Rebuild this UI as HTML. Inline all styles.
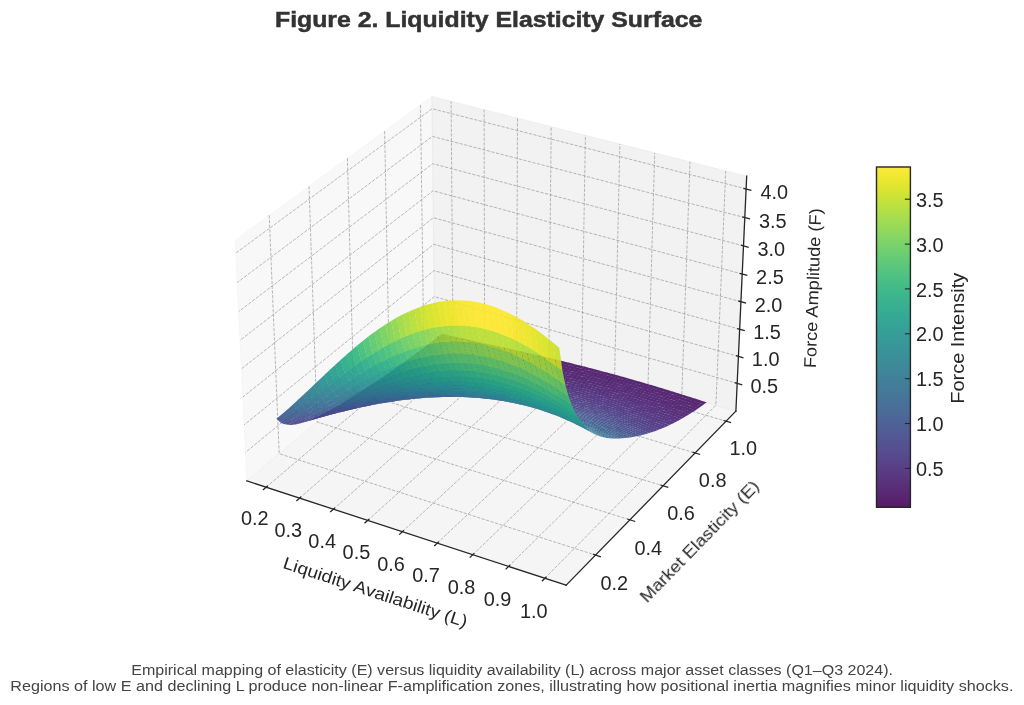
<!DOCTYPE html>
<html><head><meta charset="utf-8"><title>Figure 2. Liquidity Elasticity Surface</title>
<style>html,body{margin:0;padding:0;background:#fff;overflow:hidden}svg{display:block}text{font-family:"Liberation Sans", sans-serif}</style></head>
<body>
<svg width="1024" height="705" viewBox="0 0 1024 705">
<rect width="1024" height="705" fill="#fff"/>
<g stroke-linejoin="round">
<polygon points="246.8,480.9 434.6,323.5 432,96.5 235.2,240.1" fill="rgb(242,242,242)" fill-opacity="0.5" stroke="rgb(242,242,242)" stroke-opacity="0.5" stroke-width="1"/>
<polygon points="434.6,323.5 735.9,411.1 746.7,176.2 432,96.5" fill="rgb(230,230,230)" fill-opacity="0.5" stroke="rgb(230,230,230)" stroke-opacity="0.5" stroke-width="1"/>
<polygon points="246.8,480.9 566.2,585.2 735.9,411.1 434.6,323.5" fill="rgb(236,236,236)" fill-opacity="0.5" stroke="rgb(236,236,236)" stroke-opacity="0.5" stroke-width="1"/>
</g>
<g fill="none" stroke="#85858c" stroke-width="0.9" stroke-dasharray="3.3 1.4" stroke-opacity="0.63">
<polyline points="266.1,487.2 452.9,328.8 451.1,101.3"/>
<polyline points="299.6,498.1 484.6,338 484.1,109.7"/>
<polyline points="333.4,509.2 516.6,347.3 517.5,118.1"/>
<polyline points="367.7,520.4 548.9,356.7 551.2,126.7"/>
<polyline points="402.3,531.7 581.6,366.2 585.4,135.3"/>
<polyline points="437.3,543.1 614.6,375.8 619.9,144.1"/>
<polyline points="472.8,554.7 648,385.5 654.7,152.9"/>
<polyline points="508.6,566.4 681.8,395.3 690,161.9"/>
<polyline points="544.9,578.2 715.9,405.2 725.7,170.9"/>
<polyline points="269.2,215.2 279.2,453.7 595.6,555.1"/>
<polyline points="309,186.2 317.1,422 629.9,519.8"/>
<polyline points="347.4,158.1 353.7,391.2 663,485.8"/>
<polyline points="384.6,131.1 389.2,361.5 695.1,453"/>
<polyline points="420.5,104.9 423.6,332.7 726,421.2"/>
<polyline points="737.2,383.3 434.3,296.6 245.4,452.5"/>
<polyline points="738.4,356.4 434,270.6 244.1,424.9"/>
<polyline points="739.7,329.2 433.7,244.3 242.8,397.1"/>
<polyline points="740.9,301.7 433.4,217.7 241.4,368.9"/>
<polyline points="742.2,274 433.1,190.8 240,340.4"/>
<polyline points="743.5,245.9 432.7,163.7 238.6,311.6"/>
<polyline points="744.8,217.6 432.4,136.4 237.2,282.5"/>
<polyline points="746.1,188.9 432.1,108.7 235.8,253.1"/>
</g>
<g fill="none" stroke="#262626" stroke-width="1.3" stroke-linecap="square">
<polyline points="246.8,480.9 566.2,585.2"/>
<polyline points="735.9,411.1 566.2,585.2"/>
<polyline points="735.9,411.1 746.7,176.2"/>
</g>
<g fill="none" stroke="#262626" stroke-width="1.3">
<polyline points="267.8,485.8 262.9,490"/>
<polyline points="301.2,496.7 296.4,500.9"/>
<polyline points="335,507.8 330.2,512"/>
<polyline points="369.3,518.9 364.5,523.2"/>
<polyline points="403.9,530.2 399.2,534.6"/>
<polyline points="438.9,541.6 434.2,546"/>
<polyline points="474.3,553.2 469.7,557.6"/>
<polyline points="510.1,564.9 505.6,569.4"/>
<polyline points="546.4,576.7 541.9,581.3"/>
<polyline points="592.9,554.2 600.9,556.8"/>
<polyline points="627.3,519 635.2,521.5"/>
<polyline points="660.4,485 668.3,487.4"/>
<polyline points="692.5,452.2 700.2,454.5"/>
<polyline points="723.5,420.5 731.1,422.7"/>
<polyline points="734.6,382.6 742.3,384.8"/>
<polyline points="735.9,355.7 743.5,357.9"/>
<polyline points="737.1,328.5 744.8,330.7"/>
<polyline points="738.3,301 746.1,303.2"/>
<polyline points="739.6,273.3 747.4,275.4"/>
<polyline points="740.9,245.2 748.7,247.3"/>
<polyline points="742.2,216.9 750,218.9"/>
<polyline points="743.4,188.3 751.4,190.3"/>
</g>
<g stroke="none" fill-opacity="0.9">
<path fill="#440154" d="M438.6 336.3L444.1 337.6L447.3 335L441.8 333.7Z"/>
<path fill="#440154" d="M443.8 337.4L449.3 338.7L452.4 336.2L447 334.9Z"/>
<path fill="#440154" d="M435.5 338.7L441 340L444.2 337.4L438.7 336.1Z"/>
<path fill="#440154" d="M449 338.6L454.5 339.9L457.6 337.3L452.1 336Z"/>
<path fill="#440154" d="M440.7 339.8L446.2 341.1L449.4 338.5L443.9 337.2Z"/>
<path fill="#440256" d="M454.2 339.7L459.7 341L462.8 338.5L457.3 337.2Z"/>
<path fill="#440154" d="M432.4 341.1L437.9 342.3L441.1 339.8L435.6 338.5Z"/>
<path fill="#440256" d="M445.9 340.9L451.4 342.2L454.5 339.7L449.1 338.4Z"/>
<path fill="#440256" d="M459.4 340.9L464.9 342.1L468 339.6L462.5 338.3Z"/>
<path fill="#440256" d="M437.6 342.2L443.1 343.4L446.3 340.9L440.8 339.6Z"/>
<path fill="#440256" d="M451.1 342.1L456.6 343.3L459.8 340.8L454.2 339.5Z"/>
<path fill="#440154" d="M429.3 343.5L434.8 344.7L438 342.1L432.5 340.9Z"/>
<path fill="#450457" d="M464.6 342L470.1 343.3L473.2 340.8L467.7 339.5Z"/>
<path fill="#440256" d="M442.8 343.3L448.3 344.5L451.5 342L446 340.7Z"/>
<path fill="#450457" d="M456.3 343.2L461.8 344.4L465 341.9L459.4 340.7Z"/>
<path fill="#440256" d="M434.5 344.5L439.9 345.8L443.2 343.2L437.7 342Z"/>
<path fill="#450457" d="M469.8 343.1L475.3 344.4L478.5 341.9L472.9 340.6Z"/>
<path fill="#450457" d="M448 344.4L453.5 345.6L456.7 343.1L451.2 341.9Z"/>
<path fill="#440256" d="M426.1 345.8L431.6 347L434.8 344.5L429.4 343.3Z"/>
<path fill="#450457" d="M461.5 344.3L467 345.5L470.2 343.1L464.7 341.8Z"/>
<path fill="#450457" d="M439.6 345.6L445.2 346.8L448.4 344.3L442.9 343.1Z"/>
<path fill="#450559" d="M475 344.2L480.6 345.5L483.7 343.1L478.2 341.8Z"/>
<path fill="#450457" d="M453.2 345.5L458.7 346.7L461.9 344.2L456.4 343Z"/>
<path fill="#440256" d="M431.3 346.9L436.8 348.1L440 345.6L434.5 344.3Z"/>
<path fill="#450559" d="M466.7 345.4L472.3 346.6L475.4 344.2L469.9 342.9Z"/>
<path fill="#450457" d="M444.9 346.7L450.4 347.9L453.6 345.4L448.1 344.2Z"/>
<path fill="#450559" d="M480.3 345.4L485.8 346.6L489 344.2L483.4 342.9Z"/>
<path fill="#440256" d="M423 348.2L428.5 349.4L431.7 346.8L426.2 345.6Z"/>
<path fill="#450559" d="M458.4 346.5L463.9 347.8L467.1 345.3L461.6 344.1Z"/>
<path fill="#450457" d="M436.5 347.9L442 349.1L445.2 346.6L439.7 345.4Z"/>
<path fill="#450559" d="M471.9 346.5L477.5 347.7L480.7 345.3L475.1 344Z"/>
<path fill="#46075a" d="M485.5 346.5L491.1 347.8L494.2 345.4L488.6 344.1Z"/>
<path fill="#450559" d="M450.1 347.7L455.6 348.9L458.8 346.5L453.3 345.3Z"/>
<path fill="#450457" d="M428.2 349.2L433.7 350.4L436.9 347.9L431.4 346.7Z"/>
<path fill="#450559" d="M463.6 347.6L469.2 348.8L472.3 346.4L466.8 345.2Z"/>
<path fill="#450559" d="M441.7 349L447.3 350.2L450.5 347.7L444.9 346.5Z"/>
<path fill="#46075a" d="M477.2 347.6L482.8 348.8L485.9 346.4L480.3 345.2Z"/>
<path fill="#450457" d="M419.8 350.6L425.3 351.7L428.6 349.2L423.1 348Z"/>
<path fill="#46075a" d="M490.8 347.6L496.3 348.9L499.5 346.6L493.9 345.3Z"/>
<path fill="#450559" d="M455.3 348.8L460.8 350L464 347.6L458.5 346.3Z"/>
<path fill="#450559" d="M433.4 350.3L438.9 351.4L442.1 348.9L436.6 347.7Z"/>
<path fill="#46075a" d="M468.9 348.7L474.4 349.9L477.6 347.5L472 346.3Z"/>
<path fill="#450559" d="M447 350L452.5 351.2L455.7 348.7L450.2 347.5Z"/>
<path fill="#46085c" d="M482.4 348.7L488 349.9L491.2 347.6L485.6 346.3Z"/>
<path fill="#450457" d="M425 351.6L430.5 352.7L433.8 350.2L428.3 349Z"/>
<path fill="#46085c" d="M496 348.8L501.6 350.1L504.7 347.7L499.2 346.4Z"/>
<path fill="#46075a" d="M460.5 349.9L466.1 351.1L469.3 348.7L463.7 347.4Z"/>
<path fill="#450559" d="M438.6 351.3L444.1 352.4L447.3 350L441.8 348.8Z"/>
<path fill="#46085c" d="M474.1 349.8L479.7 351L482.8 348.6L477.3 347.4Z"/>
<path fill="#450457" d="M416.7 352.9L422.2 354L425.4 351.5L419.9 350.4Z"/>
<path fill="#46085c" d="M487.7 349.8L493.3 351.1L496.4 348.7L490.8 347.4Z"/>
<path fill="#46075a" d="M452.2 351L457.7 352.2L460.9 349.8L455.4 348.6Z"/>
<path fill="#450559" d="M430.2 352.6L435.8 353.7L439 351.2L433.5 350.1Z"/>
<path fill="#46085c" d="M501.3 349.9L506.9 351.2L510 348.9L504.4 347.6Z"/>
<path fill="#46085c" d="M465.8 350.9L471.3 352.1L474.5 349.7L469 348.5Z"/>
<path fill="#46075a" d="M443.8 352.3L449.4 353.4L452.6 351L447 349.8Z"/>
<path fill="#46085c" d="M479.4 350.9L485 352.1L488.1 349.8L482.5 348.5Z"/>
<path fill="#450559" d="M421.9 353.9L427.4 355L430.6 352.5L425.1 351.4Z"/>
<path fill="#460a5d" d="M493 350.9L498.6 352.2L501.7 349.9L496.1 348.6Z"/>
<path fill="#46085c" d="M457.4 352.1L463 353.2L466.2 350.9L460.6 349.7Z"/>
<path fill="#460a5d" d="M506.6 351.1L512.2 352.4L515.3 350.1L509.7 348.8Z"/>
<path fill="#46075a" d="M435.5 353.5L441 354.7L444.2 352.2L438.7 351.1Z"/>
<path fill="#46085c" d="M471 352L476.6 353.2L479.8 350.8L474.2 349.6Z"/>
<path fill="#450457" d="M413.5 355.3L419 356.3L422.3 353.8L416.8 352.7Z"/>
<path fill="#46085c" d="M449.1 353.3L454.6 354.4L457.8 352L452.3 350.9Z"/>
<path fill="#460a5d" d="M484.6 352L490.2 353.2L493.4 350.9L487.8 349.6Z"/>
<path fill="#46075a" d="M427.1 354.9L432.6 355.9L435.9 353.5L430.3 352.4Z"/>
<path fill="#460a5d" d="M498.3 352.1L503.9 353.3L507 351L501.4 349.7Z"/>
<path fill="#46085c" d="M462.7 353.1L468.2 354.3L471.4 351.9L465.9 350.7Z"/>
<path fill="#460a5d" d="M511.9 352.2L517.5 353.6L520.6 351.3L515 350Z"/>
<path fill="#46075a" d="M440.7 354.5L446.2 355.6L449.5 353.2L443.9 352.1Z"/>
<path fill="#460a5d" d="M476.3 353L481.9 354.2L485 351.9L479.5 350.7Z"/>
<path fill="#450559" d="M418.7 356.2L424.2 357.3L427.5 354.8L422 353.7Z"/>
<path fill="#460a5d" d="M489.9 353.1L495.5 354.3L498.7 352L493.1 350.7Z"/>
<path fill="#46085c" d="M454.3 354.3L459.9 355.4L463.1 353L457.5 351.9Z"/>
<path fill="#46075a" d="M432.3 355.8L437.9 356.9L441.1 354.5L435.6 353.3Z"/>
<path fill="#460b5e" d="M503.6 353.2L509.2 354.5L512.3 352.2L506.7 350.9Z"/>
<path fill="#460a5d" d="M467.9 354.1L473.5 355.3L476.7 353L471.1 351.8Z"/>
<path fill="#450559" d="M410.3 357.6L415.8 358.6L419.1 356.1L413.6 355.1Z"/>
<path fill="#460b5e" d="M517.2 353.4L522.8 354.8L525.9 352.5L520.3 351.1Z"/>
<path fill="#46085c" d="M445.9 355.5L451.5 356.6L454.7 354.2L449.2 353.1Z"/>
<path fill="#460a5d" d="M481.6 354.1L487.2 355.3L490.3 353L484.7 351.8Z"/>
<path fill="#46075a" d="M423.9 357.1L429.5 358.2L432.7 355.7L427.2 354.7Z"/>
<path fill="#460b5e" d="M495.2 354.2L500.8 355.4L504 353.1L498.4 351.9Z"/>
<path fill="#460a5d" d="M459.6 355.3L465.1 356.4L468.3 354.1L462.8 352.9Z"/>
<path fill="#460b5e" d="M508.9 354.3L514.5 355.6L517.6 353.4L512 352.1Z"/>
<path fill="#46085c" d="M437.5 356.7L443.1 357.8L446.3 355.4L440.8 354.3Z"/>
<path fill="#460b5e" d="M473.2 355.2L478.8 356.3L482 354L476.4 352.8Z"/>
<path fill="#46075a" d="M415.5 358.5L421.1 359.5L424.3 357.1L418.8 356Z"/>
<path fill="#460b5e" d="M522.5 354.6L528.2 356L531.3 353.7L525.6 352.4Z"/>
<path fill="#460b5e" d="M486.9 355.2L492.5 356.4L495.6 354.1L490 352.9Z"/>
<path fill="#460a5d" d="M451.2 356.4L456.8 357.6L460 355.2L454.4 354.1Z"/>
<path fill="#46085c" d="M429.2 358L434.7 359.1L437.9 356.7L432.4 355.6Z"/>
<path fill="#460b5e" d="M500.5 355.3L506.1 356.5L509.3 354.3L503.6 353Z"/>
<path fill="#460b5e" d="M464.8 356.3L470.4 357.4L473.6 355.1L468 353.9Z"/>
<path fill="#450559" d="M407.1 359.9L412.6 360.9L415.9 358.4L410.4 357.4Z"/>
<path fill="#470d60" d="M514.2 355.5L519.8 356.8L522.9 354.6L517.3 353.2Z"/>
<path fill="#460a5d" d="M442.8 357.7L448.4 358.7L451.6 356.4L446 355.3Z"/>
<path fill="#460b5e" d="M478.5 356.2L484.1 357.4L487.3 355.1L481.7 353.9Z"/>
<path fill="#470d60" d="M527.9 355.8L533.5 357.2L536.6 355L530.9 353.6Z"/>
<path fill="#46085c" d="M420.7 359.4L426.3 360.4L429.5 358L424 356.9Z"/>
<path fill="#470d60" d="M492.2 356.2L497.8 357.5L500.9 355.2L495.3 354Z"/>
<path fill="#460b5e" d="M456.4 357.4L462 358.5L465.2 356.2L459.6 355.1Z"/>
<path fill="#470d60" d="M505.8 356.4L511.5 357.7L514.6 355.4L508.9 354.1Z"/>
<path fill="#460a5d" d="M434.4 358.9L440 360L443.2 357.6L437.6 356.5Z"/>
<path fill="#460b5e" d="M470.1 357.3L475.7 358.4L478.9 356.1L473.3 355Z"/>
<path fill="#46075a" d="M412.3 360.8L417.9 361.8L421.1 359.3L415.6 358.3Z"/>
<path fill="#470d60" d="M519.5 356.7L525.2 358L528.2 355.8L522.6 354.4Z"/>
<path fill="#460b5e" d="M448 358.6L453.6 359.7L456.8 357.4L451.3 356.3Z"/>
<path fill="#470d60" d="M483.8 357.2L489.4 358.4L492.5 356.2L486.9 355Z"/>
<path fill="#470d60" d="M533.2 357L538.9 358.4L541.9 356.2L536.3 354.8Z"/>
<path fill="#46085c" d="M426 360.3L431.5 361.3L434.8 358.9L429.2 357.8Z"/>
<path fill="#470d60" d="M497.5 357.3L503.1 358.6L506.2 356.3L500.6 355.1Z"/>
<path fill="#460b5e" d="M461.7 358.4L467.3 359.5L470.5 357.2L464.9 356.1Z"/>
<path fill="#46075a" d="M403.9 362.2L409.4 363.2L412.7 360.7L407.2 359.7Z"/>
<path fill="#470d60" d="M511.1 357.5L516.8 358.8L519.9 356.6L514.3 355.3Z"/>
<path fill="#460a5d" d="M439.6 359.8L445.2 360.9L448.4 358.6L442.9 357.5Z"/>
<path fill="#470d60" d="M475.4 358.3L481 359.4L484.2 357.2L478.6 356Z"/>
<path fill="#470e61" d="M524.8 357.8L530.5 359.2L533.6 357L527.9 355.6Z"/>
<path fill="#46085c" d="M417.6 361.6L423.1 362.6L426.4 360.2L420.8 359.2Z"/>
<path fill="#470d60" d="M489.1 358.3L494.7 359.5L497.9 357.3L492.2 356Z"/>
<path fill="#460b5e" d="M453.3 359.5L458.9 360.6L462.1 358.3L456.5 357.2Z"/>
<path fill="#470d60" d="M538.5 358.3L544.2 359.6L547.3 357.5L541.6 356.1Z"/>
<path fill="#460a5d" d="M431.2 361.1L436.8 362.1L440 359.8L434.5 358.8Z"/>
<path fill="#470e61" d="M502.8 358.4L508.4 359.7L511.5 357.5L505.9 356.2Z"/>
<path fill="#470d60" d="M467 359.3L472.6 360.5L475.8 358.2L470.2 357.1Z"/>
<path fill="#46085c" d="M409.1 363.1L414.7 364L418 361.6L412.4 360.6Z"/>
<path fill="#470e61" d="M516.5 358.7L522.1 360L525.2 357.8L519.6 356.5Z"/>
<path fill="#460b5e" d="M444.9 360.7L450.5 361.8L453.7 359.5L448.1 358.4Z"/>
<path fill="#470e61" d="M480.7 359.3L486.3 360.4L489.5 358.2L483.9 357Z"/>
<path fill="#470e61" d="M530.2 359L535.9 360.4L538.9 358.2L533.3 356.8Z"/>
<path fill="#460a5d" d="M422.8 362.5L428.4 363.4L431.6 361.1L426.1 360.1Z"/>
<path fill="#470e61" d="M494.4 359.3L500 360.5L503.2 358.4L497.5 357.1Z"/>
<path fill="#470e61" d="M543.9 359.5L549.6 360.9L552.6 358.7L547 357.3Z"/>
<path fill="#470d60" d="M458.6 360.5L464.2 361.5L467.4 359.3L461.8 358.2Z"/>
<path fill="#46075a" d="M400.7 364.5L406.2 365.5L409.5 363L404 362Z"/>
<path fill="#470e61" d="M508.1 359.5L513.8 360.8L516.9 358.6L511.2 357.3Z"/>
<path fill="#460b5e" d="M436.5 362L442.1 363L445.3 360.7L439.7 359.7Z"/>
<path fill="#470e61" d="M472.3 360.3L477.9 361.4L481.1 359.2L475.5 358.1Z"/>
<path fill="#460a5d" d="M414.4 363.9L419.9 364.8L423.2 362.4L417.7 361.4Z"/>
<path fill="#470e61" d="M521.8 359.8L527.5 361.1L530.6 359L524.9 357.7Z"/>
<path fill="#470d60" d="M450.2 361.6L455.8 362.7L459 360.4L453.4 359.3Z"/>
<path fill="#470e61" d="M486 360.3L491.6 361.5L494.8 359.3L489.2 358.1Z"/>
<path fill="#470e61" d="M535.5 360.2L541.2 361.6L544.3 359.5L538.6 358.1Z"/>
<path fill="#460b5e" d="M428.1 363.3L433.6 364.3L436.9 361.9L431.3 360.9Z"/>
<path fill="#470e61" d="M549.3 360.8L555 362.2L558 360L552.3 358.6Z"/>
<path fill="#471063" d="M499.7 360.4L505.4 361.6L508.5 359.5L502.9 358.2Z"/>
<path fill="#470e61" d="M463.9 361.4L469.5 362.5L472.7 360.3L467.1 359.2Z"/>
<path fill="#46085c" d="M405.9 365.3L411.5 366.2L414.8 363.8L409.2 362.9Z"/>
<path fill="#471063" d="M513.4 360.6L519.1 361.9L522.2 359.8L516.6 358.5Z"/>
<path fill="#470d60" d="M441.7 362.9L447.3 363.9L450.6 361.6L445 360.6Z"/>
<path fill="#471063" d="M477.6 361.3L483.2 362.4L486.4 360.3L480.8 359.1Z"/>
<path fill="#471063" d="M527.2 361L532.8 362.3L535.9 360.2L530.3 358.9Z"/>
<path fill="#460b5e" d="M419.6 364.7L425.2 365.6L428.4 363.3L422.9 362.3Z"/>
<path fill="#471063" d="M491.3 361.3L497 362.5L500.1 360.4L494.5 359.2Z"/>
<path fill="#46085c" d="M397.5 366.8L403 367.7L406.3 365.3L400.8 364.3Z"/>
<path fill="#470e61" d="M455.5 362.5L461.1 363.6L464.3 361.4L458.7 360.3Z"/>
<path fill="#471063" d="M540.9 361.5L546.6 362.9L549.7 360.7L544 359.3Z"/>
<path fill="#471063" d="M554.6 362L560.3 363.5L563.4 361.3L557.7 359.9Z"/>
<path fill="#470d60" d="M433.3 364.1L438.9 365.1L442.1 362.8L436.6 361.8Z"/>
<path fill="#471063" d="M505 361.5L510.7 362.7L513.8 360.6L508.2 359.3Z"/>
<path fill="#471063" d="M469.2 362.3L474.8 363.4L478 361.3L472.4 360.1Z"/>
<path fill="#460a5d" d="M411.2 366.1L416.7 367L420 364.6L414.5 363.7Z"/>
<path fill="#471063" d="M518.8 361.8L524.5 363.1L527.6 361L521.9 359.6Z"/>
<path fill="#470e61" d="M447 363.7L452.6 364.7L455.9 362.5L450.3 361.5Z"/>
<path fill="#471063" d="M482.9 362.3L488.5 363.4L491.7 361.3L486.1 360.1Z"/>
<path fill="#471063" d="M532.5 362.2L538.2 363.5L541.3 361.4L535.6 360.1Z"/>
<path fill="#470d60" d="M424.9 365.5L430.4 366.4L433.7 364.1L428.1 363.1Z"/>
<path fill="#471063" d="M546.3 362.7L552 364.1L555 362L549.3 360.6Z"/>
<path fill="#471164" d="M496.6 362.4L502.3 363.6L505.4 361.5L499.8 360.2Z"/>
<path fill="#471063" d="M460.7 363.4L466.4 364.5L469.6 362.3L464 361.2Z"/>
<path fill="#460a5d" d="M402.7 367.6L408.3 368.4L411.6 366L406 365.1Z"/>
<path fill="#471063" d="M560 363.3L565.7 364.8L568.8 362.7L563.1 361.2Z"/>
<path fill="#471164" d="M510.4 362.6L516.1 363.8L519.2 361.7L513.5 360.5Z"/>
<path fill="#470e61" d="M438.6 365L444.2 365.9L447.4 363.7L441.8 362.7Z"/>
<path fill="#471063" d="M474.5 363.3L480.1 364.4L483.3 362.2L477.7 361.1Z"/>
<path fill="#471164" d="M524.1 362.9L529.8 364.2L532.9 362.2L527.2 360.8Z"/>
<path fill="#460b5e" d="M416.4 366.9L422 367.7L425.3 365.4L419.7 364.5Z"/>
<path fill="#460a5d" d="M394.2 369.1L399.8 369.9L403.1 367.5L397.6 366.6Z"/>
<path fill="#471164" d="M488.2 363.3L493.9 364.4L497 362.3L491.4 361.1Z"/>
<path fill="#471063" d="M452.3 364.6L457.9 365.6L461.1 363.4L455.5 362.3Z"/>
<path fill="#471164" d="M537.9 363.4L543.6 364.8L546.7 362.7L541 361.3Z"/>
<path fill="#471164" d="M551.7 364L557.4 365.4L560.4 363.3L554.7 361.9Z"/>
<path fill="#470e61" d="M430.1 366.3L435.7 367.2L439 364.9L433.4 363.9Z"/>
<path fill="#471164" d="M502 363.4L507.6 364.6L510.8 362.6L505.1 361.3Z"/>
<path fill="#471164" d="M466 364.3L471.7 365.4L474.9 363.2L469.3 362.2Z"/>
<path fill="#460b5e" d="M407.9 368.3L413.5 369.2L416.8 366.8L411.2 365.9Z"/>
<path fill="#471063" d="M565.4 364.6L571.1 366.1L574.2 364L568.5 362.5Z"/>
<path fill="#471164" d="M515.7 363.7L521.4 365L524.5 362.9L518.9 361.6Z"/>
<path fill="#471063" d="M443.9 365.8L449.5 366.7L452.7 364.5L447.1 363.5Z"/>
<path fill="#471164" d="M479.8 364.2L485.4 365.4L488.6 363.2L483 362.1Z"/>
<path fill="#471164" d="M529.5 364.1L535.2 365.4L538.3 363.4L532.6 362Z"/>
<path fill="#470e61" d="M421.7 367.6L427.3 368.5L430.5 366.2L424.9 365.3Z"/>
<path fill="#471365" d="M493.6 364.3L499.2 365.5L502.4 363.4L496.7 362.2Z"/>
<path fill="#471164" d="M543.3 364.6L549 366L552.1 363.9L546.4 362.5Z"/>
<path fill="#460b5e" d="M399.5 369.8L405 370.6L408.3 368.2L402.8 367.4Z"/>
<path fill="#471164" d="M457.6 365.4L463.2 366.4L466.4 364.3L460.8 363.2Z"/>
<path fill="#471164" d="M557 365.2L562.8 366.7L565.8 364.6L560.1 363.2Z"/>
<path fill="#471365" d="M507.3 364.5L513 365.7L516.1 363.7L510.5 362.4Z"/>
<path fill="#471063" d="M435.4 367L441 367.9L444.3 365.7L438.7 364.8Z"/>
<path fill="#471164" d="M570.8 366L576.6 367.5L579.6 365.4L573.9 363.9Z"/>
<path fill="#471164" d="M471.4 365.3L477 366.3L480.2 364.2L474.6 363.1Z"/>
<path fill="#470d60" d="M413.2 369L418.8 369.9L422.1 367.5L416.5 366.7Z"/>
<path fill="#471365" d="M521.1 364.8L526.8 366.1L529.9 364.1L524.2 362.8Z"/>
<path fill="#460a5d" d="M391 371.4L396.5 372.2L399.9 369.7L394.3 368.9Z"/>
<path fill="#471164" d="M449.2 366.6L454.8 367.5L458 365.4L452.4 364.4Z"/>
<path fill="#471365" d="M485.1 365.2L490.8 366.3L494 364.3L488.3 363.1Z"/>
<path fill="#471365" d="M534.9 365.3L540.6 366.6L543.7 364.6L538 363.2Z"/>
<path fill="#471063" d="M426.9 368.3L432.5 369.2L435.8 367L430.2 366.1Z"/>
<path fill="#471365" d="M548.7 365.9L554.4 367.3L557.4 365.2L551.7 363.8Z"/>
<path fill="#471365" d="M498.9 365.3L504.6 366.5L507.7 364.5L502.1 363.2Z"/>
<path fill="#471365" d="M462.9 366.3L468.6 367.3L471.8 365.2L466.1 364.2Z"/>
<path fill="#470d60" d="M404.7 370.5L410.3 371.3L413.6 369L408 368.1Z"/>
<path fill="#471164" d="M562.5 366.5L568.2 368L571.2 365.9L565.5 364.5Z"/>
<path fill="#471365" d="M512.7 365.6L518.4 366.8L521.5 364.8L515.8 363.5Z"/>
<path fill="#471164" d="M576.2 367.3L582 368.8L585 366.8L579.3 365.2Z"/>
<path fill="#471164" d="M440.7 367.8L446.3 368.7L449.5 366.5L443.9 365.6Z"/>
<path fill="#471365" d="M476.7 366.2L482.3 367.2L485.5 365.2L479.9 364.1Z"/>
<path fill="#471365" d="M526.5 366L532.2 367.3L535.3 365.3L529.6 363.9Z"/>
<path fill="#470e61" d="M418.5 369.7L424.1 370.5L427.3 368.3L421.7 367.4Z"/>
<path fill="#460b5e" d="M396.2 372L401.8 372.8L405.1 370.4L399.6 369.6Z"/>
<path fill="#481467" d="M490.5 366.2L496.1 367.3L499.3 365.3L493.6 364.1Z"/>
<path fill="#471365" d="M540.3 366.5L546 367.9L549.1 365.8L543.3 364.4Z"/>
<path fill="#471365" d="M454.5 367.4L460.1 368.4L463.3 366.3L457.7 365.3Z"/>
<path fill="#471365" d="M554.1 367.1L559.8 368.6L562.8 366.5L557.1 365.1Z"/>
<path fill="#471164" d="M432.2 369.1L437.8 369.9L441.1 367.7L435.5 366.8Z"/>
<path fill="#481467" d="M504.3 366.4L509.9 367.6L513.1 365.5L507.4 364.3Z"/>
<path fill="#471365" d="M567.9 367.9L573.6 369.4L576.6 367.3L570.9 365.8Z"/>
<path fill="#471365" d="M468.2 367.2L473.9 368.2L477.1 366.1L471.4 365.1Z"/>
<path fill="#470e61" d="M410 371.2L415.6 371.9L418.9 369.7L413.3 368.8Z"/>
<path fill="#471164" d="M581.7 368.7L587.4 370.2L590.4 368.2L584.7 366.6Z"/>
<path fill="#481467" d="M518 366.7L523.8 368L526.9 365.9L521.2 364.7Z"/>
<path fill="#460b5e" d="M387.7 373.6L393.3 374.4L396.6 372L391.1 371.2Z"/>
<path fill="#471365" d="M446 368.6L451.6 369.5L454.9 367.4L449.2 366.4Z"/>
<path fill="#481467" d="M482 367.1L487.7 368.2L490.9 366.2L485.2 365Z"/>
<path fill="#481467" d="M531.9 367.1L537.6 368.5L540.7 366.5L535 365.1Z"/>
<path fill="#471063" d="M423.7 370.4L429.3 371.2L432.6 369L427 368.2Z"/>
<path fill="#481467" d="M545.7 367.7L551.4 369.1L554.5 367.1L548.7 365.7Z"/>
<path fill="#481467" d="M495.8 367.2L501.5 368.3L504.7 366.3L499 365.1Z"/>
<path fill="#470e61" d="M401.5 372.7L407.1 373.4L410.4 371.1L404.8 370.3Z"/>
<path fill="#481467" d="M459.8 368.2L465.4 369.2L468.6 367.1L463 366.1Z"/>
<path fill="#471365" d="M559.5 368.4L565.2 369.9L568.3 367.8L562.5 366.4Z"/>
<path fill="#481668" d="M509.6 367.4L515.3 368.6L518.4 366.7L512.8 365.4Z"/>
<path fill="#471365" d="M573.3 369.2L579 370.7L582.1 368.7L576.3 367.2Z"/>
<path fill="#471365" d="M437.5 369.8L443.1 370.7L446.4 368.5L440.8 367.6Z"/>
<path fill="#481467" d="M473.6 368.1L479.2 369.1L482.4 367.1L476.8 366Z"/>
<path fill="#471164" d="M587.1 370.1L592.9 371.6L595.9 369.6L590.1 368Z"/>
<path fill="#481668" d="M523.4 367.8L529.1 369.1L532.3 367.1L526.5 365.8Z"/>
<path fill="#471063" d="M415.2 371.8L420.8 372.6L424.1 370.4L418.5 369.5Z"/>
<path fill="#470d60" d="M393 374.2L398.5 375L401.9 372.6L396.3 371.8Z"/>
<path fill="#481668" d="M487.4 368L493 369.1L496.2 367.1L490.5 366Z"/>
<path fill="#481467" d="M537.2 368.3L543 369.7L546.1 367.7L540.3 366.3Z"/>
<path fill="#481467" d="M451.3 369.4L456.9 370.3L460.2 368.2L454.5 367.2Z"/>
<path fill="#481467" d="M551.1 369L556.8 370.4L559.9 368.4L554.1 367Z"/>
<path fill="#471365" d="M429 371.1L434.6 371.9L437.9 369.8L432.3 368.9Z"/>
<path fill="#481668" d="M501.2 368.2L506.9 369.4L510 367.4L504.3 366.2Z"/>
<path fill="#481467" d="M564.9 369.7L570.6 371.2L573.7 369.2L567.9 367.7Z"/>
<path fill="#481668" d="M465.1 369.1L470.7 370.1L474 368L468.3 367Z"/>
<path fill="#471063" d="M406.7 373.3L412.3 374L415.6 371.8L410.1 371Z"/>
<path fill="#470d60" d="M384.5 375.9L390 376.6L393.4 374.2L387.8 373.4Z"/>
<path fill="#471365" d="M578.7 370.6L584.5 372.1L587.5 370.1L581.7 368.5Z"/>
<path fill="#481668" d="M515 368.5L520.7 369.7L523.8 367.8L518.1 366.5Z"/>
<path fill="#471164" d="M592.5 371.5L598.3 373.1L601.3 371L595.6 369.4Z"/>
<path fill="#481467" d="M442.8 370.5L448.4 371.4L451.7 369.3L446.1 368.4Z"/>
<path fill="#481668" d="M478.9 369L484.6 370L487.8 368L482.1 366.9Z"/>
<path fill="#481668" d="M528.8 369L534.5 370.3L537.6 368.3L531.9 367Z"/>
<path fill="#471164" d="M420.5 372.5L426.1 373.2L429.4 371L423.8 370.2Z"/>
<path fill="#481668" d="M542.6 369.5L548.4 370.9L551.5 368.9L545.7 367.6Z"/>
<path fill="#470e61" d="M398.2 374.8L403.8 375.5L407.1 373.2L401.6 372.5Z"/>
<path fill="#481769" d="M492.7 369L498.4 370.1L501.6 368.2L495.9 367Z"/>
<path fill="#481668" d="M456.6 370.1L462.3 371.1L465.5 369L459.8 368.1Z"/>
<path fill="#481467" d="M556.5 370.2L562.2 371.7L565.3 369.7L559.5 368.2Z"/>
<path fill="#481769" d="M506.5 369.2L512.2 370.4L515.4 368.5L509.7 367.3Z"/>
<path fill="#481467" d="M570.3 371.1L576.1 372.5L579.1 370.5L573.4 369Z"/>
<path fill="#481467" d="M434.3 371.8L439.9 372.6L443.2 370.5L437.6 369.6Z"/>
<path fill="#481668" d="M470.4 369.9L476.1 370.9L479.3 368.9L473.6 367.9Z"/>
<path fill="#471365" d="M584.2 372L589.9 373.5L592.9 371.5L587.2 369.9Z"/>
<path fill="#471164" d="M412 373.9L417.6 374.6L420.9 372.4L415.3 371.6Z"/>
<path fill="#481769" d="M520.4 369.6L526.1 370.9L529.2 368.9L523.5 367.6Z"/>
<path fill="#470e61" d="M389.7 376.4L395.3 377.1L398.6 374.8L393.1 374Z"/>
<path fill="#471365" d="M598 372.9L603.8 374.5L606.8 372.5L601 370.9Z"/>
<path fill="#481668" d="M448.1 371.3L453.8 372.1L457 370.1L451.4 369.2Z"/>
<path fill="#481769" d="M484.2 369.9L489.9 370.9L493.1 369L487.4 367.9Z"/>
<path fill="#481769" d="M534.2 370.1L539.9 371.4L543 369.5L537.3 368.2Z"/>
<path fill="#481668" d="M548.1 370.8L553.8 372.2L556.9 370.2L551.1 368.8Z"/>
<path fill="#481467" d="M425.8 373.1L431.4 373.9L434.7 371.7L429.1 370.9Z"/>
<path fill="#481769" d="M498.1 370L503.8 371.1L506.9 369.2L501.2 368Z"/>
<path fill="#471164" d="M403.5 375.4L409.1 376.1L412.4 373.8L406.8 373.1Z"/>
<path fill="#481769" d="M461.9 370.9L467.6 371.9L470.8 369.9L465.2 368.9Z"/>
<path fill="#481668" d="M561.9 371.5L567.7 373L570.7 371L565 369.6Z"/>
<path fill="#470d60" d="M381.2 378.1L386.8 378.7L390.1 376.4L384.5 375.7Z"/>
<path fill="#481467" d="M575.8 372.4L581.5 373.9L584.6 371.9L578.8 370.4Z"/>
<path fill="#481769" d="M511.9 370.3L517.6 371.5L520.8 369.6L515.1 368.3Z"/>
<path fill="#481668" d="M439.6 372.5L445.3 373.3L448.5 371.2L442.9 370.4Z"/>
<path fill="#481467" d="M589.6 373.4L595.4 374.9L598.4 372.9L592.6 371.3Z"/>
<path fill="#481769" d="M475.8 370.8L481.5 371.8L484.6 369.8L479 368.8Z"/>
<path fill="#471365" d="M603.5 374.4L609.3 376L612.2 374L606.5 372.3Z"/>
<path fill="#481769" d="M525.8 370.7L531.5 372L534.6 370.1L528.9 368.8Z"/>
<path fill="#471365" d="M417.3 374.5L422.9 375.2L426.2 373L420.6 372.3Z"/>
<path fill="#471063" d="M395 377L400.6 377.6L403.9 375.3L398.3 374.6Z"/>
<path fill="#481769" d="M539.6 371.3L545.4 372.7L548.5 370.7L542.7 369.4Z"/>
<path fill="#48186a" d="M489.6 370.8L495.3 371.9L498.5 370L492.8 368.8Z"/>
<path fill="#481769" d="M453.4 372L459.1 372.9L462.3 370.9L456.7 370Z"/>
<path fill="#481769" d="M553.5 372L559.2 373.4L562.3 371.5L556.6 370.1Z"/>
<path fill="#481668" d="M431.1 373.7L436.7 374.5L440 372.4L434.4 371.6Z"/>
<path fill="#48186a" d="M503.5 371L509.2 372.1L512.3 370.2L506.6 369.1Z"/>
<path fill="#481668" d="M567.3 372.8L573.1 374.3L576.2 372.4L570.4 370.9Z"/>
<path fill="#48186a" d="M467.3 371.7L473 372.7L476.2 370.7L470.5 369.7Z"/>
<path fill="#471365" d="M408.8 376L414.4 376.6L417.7 374.4L412.1 373.7Z"/>
<path fill="#481467" d="M581.2 373.8L587 375.3L590 373.3L584.2 371.8Z"/>
<path fill="#471063" d="M386.4 378.6L392 379.2L395.4 376.9L389.8 376.2Z"/>
<path fill="#48186a" d="M517.3 371.3L523 372.6L526.2 370.7L520.4 369.4Z"/>
<path fill="#481467" d="M595.1 374.8L600.9 376.4L603.9 374.4L598.1 372.8Z"/>
<path fill="#471365" d="M608.9 375.9L614.7 377.5L617.7 375.5L611.9 373.8Z"/>
<path fill="#481769" d="M444.9 373.2L450.6 374L453.8 372L448.2 371.1Z"/>
<path fill="#48186a" d="M481.1 371.6L486.8 372.7L490 370.8L484.3 369.7Z"/>
<path fill="#48186a" d="M531.2 371.9L536.9 373.2L540 371.3L534.3 369.9Z"/>
<path fill="#481668" d="M422.6 375.1L428.2 375.8L431.5 373.7L425.9 372.9Z"/>
<path fill="#48186a" d="M545 372.5L550.8 373.9L553.9 372L548.1 370.6Z"/>
<path fill="#471365" d="M400.2 377.5L405.8 378.1L409.2 375.9L403.6 375.2Z"/>
<path fill="#481a6c" d="M495 371.7L500.7 372.8L503.9 371L498.2 369.8Z"/>
<path fill="#470e61" d="M377.9 380.3L383.5 380.9L386.8 378.5L381.3 377.9Z"/>
<path fill="#48186a" d="M458.8 372.8L464.5 373.7L467.7 371.7L462 370.8Z"/>
<path fill="#481769" d="M558.9 373.3L564.7 374.7L567.7 372.8L562 371.4Z"/>
<path fill="#481668" d="M572.8 374.2L578.6 375.7L581.6 373.8L575.8 372.2Z"/>
<path fill="#481a6c" d="M508.8 372L514.6 373.2L517.7 371.3L512 370.1Z"/>
<path fill="#481769" d="M436.4 374.4L442.1 375.1L445.3 373.1L439.7 372.3Z"/>
<path fill="#481668" d="M586.7 375.2L592.5 376.7L595.5 374.8L589.7 373.2Z"/>
<path fill="#481a6c" d="M472.6 372.6L478.3 373.5L481.5 371.6L475.8 370.6Z"/>
<path fill="#481467" d="M600.5 376.2L606.3 377.9L609.3 375.9L603.5 374.2Z"/>
<path fill="#481a6c" d="M522.7 372.4L528.5 373.7L531.6 371.8L525.8 370.5Z"/>
<path fill="#481467" d="M414.1 376.5L419.7 377.2L423 375L417.4 374.3Z"/>
<path fill="#471365" d="M614.4 377.4L620.2 379L623.2 377L617.4 375.3Z"/>
<path fill="#471164" d="M391.7 379.1L397.3 379.7L400.6 377.4L395 376.8Z"/>
<path fill="#48186a" d="M536.6 373L542.3 374.4L545.4 372.5L539.7 371.1Z"/>
<path fill="#481a6c" d="M486.5 372.5L492.2 373.6L495.4 371.7L489.7 370.6Z"/>
<path fill="#48186a" d="M450.3 373.9L455.9 374.7L459.2 372.7L453.5 371.8Z"/>
<path fill="#48186a" d="M550.5 373.7L556.2 375.2L559.3 373.3L553.6 371.9Z"/>
<path fill="#481769" d="M427.9 375.7L433.5 376.4L436.8 374.3L431.2 373.6Z"/>
<path fill="#481a6c" d="M500.4 372.7L506.1 373.8L509.2 372L503.5 370.8Z"/>
<path fill="#481769" d="M564.4 374.6L570.1 376.1L573.2 374.2L567.4 372.7Z"/>
<path fill="#481467" d="M405.5 378L411.1 378.6L414.5 376.4L408.8 375.8Z"/>
<path fill="#481a6c" d="M464.1 373.5L469.8 374.4L473 372.5L467.3 371.6Z"/>
<path fill="#471063" d="M383.2 380.8L388.7 381.3L392.1 379L386.5 378.4Z"/>
<path fill="#481769" d="M578.2 375.6L584 377.1L587.1 375.2L581.3 373.6Z"/>
<path fill="#481a6c" d="M514.2 373L520 374.3L523.1 372.4L517.4 371.2Z"/>
<path fill="#481668" d="M592.1 376.6L597.9 378.2L600.9 376.2L595.1 374.6Z"/>
<path fill="#481467" d="M606 377.7L611.8 379.4L614.8 377.4L609 375.7Z"/>
<path fill="#48186a" d="M441.7 375L447.4 375.8L450.7 373.8L445 373Z"/>
<path fill="#481b6d" d="M478 373.4L483.7 374.4L486.9 372.5L481.2 371.5Z"/>
<path fill="#471365" d="M619.9 378.9L625.7 380.6L628.7 378.5L622.9 376.8Z"/>
<path fill="#481a6c" d="M528.1 373.6L533.9 374.8L537 373L531.2 371.7Z"/>
<path fill="#481769" d="M419.4 377L425 377.7L428.3 375.6L422.7 374.9Z"/>
<path fill="#481a6c" d="M542 374.2L547.8 375.6L550.9 373.7L545.1 372.3Z"/>
<path fill="#471365" d="M397 379.6L402.6 380.1L405.9 377.9L400.3 377.3Z"/>
<path fill="#471063" d="M374.6 382.5L380.2 383.1L383.5 380.7L378 380.1Z"/>
<path fill="#481b6d" d="M491.9 373.4L497.6 374.5L500.8 372.7L495.1 371.6Z"/>
<path fill="#481a6c" d="M455.6 374.6L461.3 375.4L464.5 373.5L458.8 372.6Z"/>
<path fill="#48186a" d="M555.9 375L561.7 376.4L564.8 374.6L559 373.1Z"/>
<path fill="#48186a" d="M569.8 375.9L575.6 377.4L578.6 375.5L572.9 374Z"/>
<path fill="#481b6d" d="M505.8 373.7L511.5 374.8L514.6 373L508.9 371.8Z"/>
<path fill="#48186a" d="M433.2 376.2L438.9 377L442.1 375L436.5 374.2Z"/>
<path fill="#481769" d="M583.7 376.9L589.5 378.5L592.5 376.6L586.7 375Z"/>
<path fill="#481b6d" d="M469.5 374.3L475.2 375.2L478.4 373.3L472.7 372.4Z"/>
<path fill="#481668" d="M597.6 378L603.4 379.7L606.4 377.7L600.6 376.1Z"/>
<path fill="#481668" d="M410.8 378.5L416.4 379.1L419.8 377L414.1 376.3Z"/>
<path fill="#481b6d" d="M519.7 374.1L525.4 375.3L528.5 373.5L522.8 372.3Z"/>
<path fill="#471365" d="M388.4 381.2L394 381.7L397.4 379.5L391.8 378.9Z"/>
<path fill="#481467" d="M611.5 379.2L617.3 380.9L620.3 378.9L614.5 377.2Z"/>
<path fill="#471365" d="M625.4 380.4L631.2 382.2L634.2 380.1L628.4 378.4Z"/>
<path fill="#481b6d" d="M533.6 374.7L539.3 376L542.4 374.2L536.7 372.9Z"/>
<path fill="#481a6c" d="M447.1 375.7L452.8 376.4L456 374.5L450.3 373.7Z"/>
<path fill="#481b6d" d="M483.4 374.2L489.1 375.2L492.3 373.4L486.6 372.4Z"/>
<path fill="#481a6c" d="M547.5 375.4L553.2 376.8L556.3 375L550.5 373.6Z"/>
<path fill="#48186a" d="M424.7 377.6L430.3 378.2L433.6 376.2L428 375.5Z"/>
<path fill="#481c6e" d="M497.3 374.4L503 375.5L506.2 373.7L500.4 372.5Z"/>
<path fill="#481a6c" d="M561.4 376.3L567.1 377.8L570.2 375.9L564.4 374.4Z"/>
<path fill="#481668" d="M402.3 380L407.9 380.6L411.2 378.4L405.6 377.8Z"/>
<path fill="#471164" d="M379.9 382.9L385.4 383.4L388.8 381.1L383.2 380.6Z"/>
<path fill="#481b6d" d="M461 375.3L466.6 376.1L469.9 374.3L464.2 373.3Z"/>
<path fill="#48186a" d="M575.3 377.3L581.1 378.8L584.1 376.9L578.3 375.4Z"/>
<path fill="#481769" d="M589.2 378.4L595 379.9L598 378L592.2 376.4Z"/>
<path fill="#481c6e" d="M511.2 374.7L516.9 375.9L520.1 374.1L514.3 372.9Z"/>
<path fill="#481668" d="M603.1 379.5L608.9 381.2L611.9 379.2L606.1 377.6Z"/>
<path fill="#481a6c" d="M438.5 376.8L444.2 377.6L447.5 375.6L441.8 374.8Z"/>
<path fill="#481467" d="M617 380.7L622.8 382.4L625.8 380.4L620 378.7Z"/>
<path fill="#481c6e" d="M474.8 375.1L480.6 376L483.8 374.2L478.1 373.2Z"/>
<path fill="#481c6e" d="M525.1 375.2L530.8 376.5L533.9 374.7L528.2 373.4Z"/>
<path fill="#471365" d="M630.9 382L636.8 383.8L639.7 381.7L633.9 380Z"/>
<path fill="#48186a" d="M416.1 379L421.8 379.6L425.1 377.5L419.4 376.8Z"/>
<path fill="#471063" d="M371.3 384.7L376.9 385.2L380.2 382.9L374.7 382.3Z"/>
<path fill="#481467" d="M393.7 381.6L399.3 382.1L402.7 379.9L397 379.4Z"/>
<path fill="#481b6d" d="M539 375.9L544.8 377.2L547.9 375.4L542.1 374Z"/>
<path fill="#481c6e" d="M488.7 375.1L494.5 376.1L497.7 374.3L491.9 373.3Z"/>
<path fill="#481b6d" d="M452.4 376.3L458.1 377.1L461.4 375.2L455.7 374.4Z"/>
<path fill="#481b6d" d="M552.9 376.7L558.7 378.1L561.8 376.3L556 374.8Z"/>
<path fill="#481a6c" d="M566.8 377.6L572.6 379.1L575.7 377.3L569.9 375.8Z"/>
<path fill="#481c6e" d="M502.7 375.3L508.4 376.4L511.6 374.7L505.8 373.5Z"/>
<path fill="#481a6c" d="M430 378.1L435.6 378.7L438.9 376.8L433.3 376.1Z"/>
<path fill="#48186a" d="M580.7 378.7L586.5 380.2L589.6 378.3L583.8 376.8Z"/>
<path fill="#481769" d="M407.6 380.4L413.2 381L416.5 378.9L410.9 378.3Z"/>
<path fill="#481c6e" d="M466.3 376L472 376.9L475.2 375L469.5 374.1Z"/>
<path fill="#481769" d="M594.7 379.8L600.5 381.4L603.5 379.5L597.7 377.9Z"/>
<path fill="#481467" d="M385.1 383.3L390.7 383.8L394.1 381.5L388.5 381Z"/>
<path fill="#481c6e" d="M516.6 375.7L522.3 376.9L525.5 375.2L519.7 373.9Z"/>
<path fill="#481668" d="M608.6 381L614.4 382.7L617.4 380.7L611.6 379.1Z"/>
<path fill="#481467" d="M622.5 382.3L628.4 384L631.3 382L625.5 380.3Z"/>
<path fill="#471365" d="M636.4 383.6L642.3 385.4L645.2 383.3L639.4 381.5Z"/>
<path fill="#481c6e" d="M530.5 376.3L536.3 377.6L539.4 375.8L533.6 374.5Z"/>
<path fill="#481b6d" d="M443.9 377.4L449.6 378.2L452.8 376.3L447.1 375.5Z"/>
<path fill="#481d6f" d="M480.2 375.9L485.9 376.9L489.1 375.1L483.4 374.1Z"/>
<path fill="#481c6e" d="M544.4 377.1L550.2 378.4L553.3 376.7L547.5 375.3Z"/>
<path fill="#481a6c" d="M421.4 379.4L427.1 380L430.4 378L424.7 377.4Z"/>
<path fill="#471365" d="M376.5 385.1L382.1 385.5L385.5 383.2L379.9 382.7Z"/>
<path fill="#481769" d="M399 382L404.6 382.5L407.9 380.4L402.3 379.8Z"/>
<path fill="#481b6d" d="M558.4 377.9L564.1 379.4L567.2 377.6L561.4 376.1Z"/>
<path fill="#481d6f" d="M494.1 376L499.9 377.1L503.1 375.3L497.3 374.2Z"/>
<path fill="#481d6f" d="M457.8 377L463.5 377.8L466.7 376L461 375.1Z"/>
<path fill="#481a6c" d="M572.3 378.9L578.1 380.5L581.1 378.6L575.3 377.1Z"/>
<path fill="#48186a" d="M586.2 380.1L592 381.6L595.1 379.8L589.3 378.2Z"/>
<path fill="#481d6f" d="M508.1 376.3L513.8 377.4L517 375.7L511.2 374.5Z"/>
<path fill="#48186a" d="M600.2 381.3L606 382.9L609 381L603.2 379.4Z"/>
<path fill="#481c6e" d="M435.3 378.6L441 379.3L444.3 377.4L438.6 376.7Z"/>
<path fill="#481668" d="M614.1 382.5L619.9 384.2L622.9 382.3L617.1 380.6Z"/>
<path fill="#481d6f" d="M471.7 376.7L477.4 377.6L480.6 375.9L474.9 374.9Z"/>
<path fill="#481467" d="M628 383.9L633.9 385.6L636.8 383.6L631 381.8Z"/>
<path fill="#481d6f" d="M522 376.8L527.8 378L530.9 376.3L525.1 375Z"/>
<path fill="#471164" d="M368 386.9L373.5 387.3L376.9 385L371.4 384.5Z"/>
<path fill="#481a6c" d="M412.9 380.9L418.5 381.4L421.8 379.4L416.2 378.8Z"/>
<path fill="#471365" d="M642 385.2L647.8 387L650.8 384.9L644.9 383.2Z"/>
<path fill="#481668" d="M390.4 383.7L396 384.1L399.4 381.9L393.8 381.4Z"/>
<path fill="#481d6f" d="M535.9 377.5L541.7 378.8L544.8 377L539.1 375.7Z"/>
<path fill="#481f70" d="M485.6 376.7L491.4 377.7L494.5 376L488.8 374.9Z"/>
<path fill="#481d6f" d="M449.2 378L454.9 378.8L458.2 376.9L452.5 376.1Z"/>
<path fill="#481c6e" d="M549.9 378.3L555.7 379.7L558.8 377.9L553 376.5Z"/>
<path fill="#481c6e" d="M563.8 379.2L569.6 380.7L572.7 378.9L566.9 377.4Z"/>
<path fill="#481b6d" d="M426.8 379.9L432.4 380.5L435.7 378.6L430 377.9Z"/>
<path fill="#481f70" d="M499.5 376.9L505.3 378L508.5 376.3L502.7 375.2Z"/>
<path fill="#481b6d" d="M577.8 380.3L583.6 381.9L586.6 380.1L580.8 378.5Z"/>
<path fill="#481668" d="M381.8 385.4L387.4 385.8L390.8 383.6L385.2 383.1Z"/>
<path fill="#48186a" d="M404.3 382.4L409.9 382.8L413.3 380.8L407.6 380.3Z"/>
<path fill="#481f70" d="M463.1 377.7L468.9 378.5L472.1 376.7L466.4 375.8Z"/>
<path fill="#481a6c" d="M591.7 381.5L597.5 383.1L600.6 381.3L594.7 379.6Z"/>
<path fill="#48186a" d="M605.7 382.8L611.5 384.4L614.5 382.5L608.7 380.8Z"/>
<path fill="#481f70" d="M513.5 377.3L519.3 378.5L522.4 376.8L516.6 375.6Z"/>
<path fill="#481668" d="M619.6 384.1L625.5 385.8L628.4 383.8L622.6 382.1Z"/>
<path fill="#481467" d="M633.6 385.5L639.4 387.2L642.4 385.2L636.5 383.4Z"/>
<path fill="#471365" d="M647.5 386.9L653.4 388.7L656.3 386.6L650.4 384.8Z"/>
<path fill="#481d6f" d="M440.7 379.2L446.4 379.8L449.6 378L443.9 377.3Z"/>
<path fill="#481f70" d="M527.4 377.9L533.2 379.2L536.3 377.4L530.6 376.2Z"/>
<path fill="#481f70" d="M477.1 377.5L482.8 378.4L486 376.7L480.3 375.7Z"/>
<path fill="#481b6d" d="M418.2 381.3L423.8 381.8L427.1 379.8L421.5 379.3Z"/>
<path fill="#481d6f" d="M541.4 378.6L547.2 380L550.3 378.3L544.5 376.9Z"/>
<path fill="#481467" d="M373.2 387.2L378.8 387.6L382.2 385.3L376.6 384.9Z"/>
<path fill="#48186a" d="M395.7 384L401.3 384.4L404.7 382.3L399 381.8Z"/>
<path fill="#481d6f" d="M555.3 379.5L561.1 381L564.2 379.2L558.4 377.8Z"/>
<path fill="#482071" d="M491 377.6L496.8 378.6L499.9 376.9L494.2 375.8Z"/>
<path fill="#481f70" d="M454.6 378.6L460.3 379.4L463.5 377.6L457.8 376.8Z"/>
<path fill="#481c6e" d="M569.3 380.6L575.1 382.1L578.2 380.3L572.4 378.8Z"/>
<path fill="#481b6d" d="M583.3 381.7L589.1 383.3L592.1 381.5L586.3 379.9Z"/>
<path fill="#482071" d="M505 377.9L510.7 379L513.9 377.3L508.1 376.1Z"/>
<path fill="#481a6c" d="M597.2 383L603 384.6L606.1 382.7L600.2 381.1Z"/>
<path fill="#481d6f" d="M432.1 380.4L437.8 381L441.1 379.1L435.4 378.5Z"/>
<path fill="#48186a" d="M611.2 384.3L617 386L620 384.1L614.2 382.4Z"/>
<path fill="#471365" d="M364.6 389.1L370.2 389.4L373.6 387.1L368 386.7Z"/>
<path fill="#481769" d="M625.1 385.7L631 387.4L634 385.4L628.1 383.7Z"/>
<path fill="#482071" d="M468.5 378.4L474.3 379.2L477.5 377.5L471.8 376.6Z"/>
<path fill="#481b6d" d="M409.6 382.7L415.2 383.2L418.6 381.2L412.9 380.7Z"/>
<path fill="#481769" d="M387.1 385.7L392.7 386L396.1 383.9L390.5 383.5Z"/>
<path fill="#481467" d="M639.1 387.1L645 388.9L647.9 386.8L642 385.1Z"/>
<path fill="#482071" d="M518.9 378.3L524.7 379.5L527.8 377.9L522.1 376.6Z"/>
<path fill="#471365" d="M653.1 388.5L658.9 390.4L661.9 388.3L656 386.4Z"/>
<path fill="#481f70" d="M532.9 379L538.7 380.3L541.8 378.6L536 377.3Z"/>
<path fill="#481f70" d="M446 379.7L451.7 380.4L455 378.6L449.3 377.9Z"/>
<path fill="#482071" d="M482.5 378.3L488.2 379.2L491.4 377.6L485.7 376.6Z"/>
<path fill="#481f70" d="M546.8 379.8L552.6 381.2L555.7 379.5L549.9 378.1Z"/>
<path fill="#481d6f" d="M560.8 380.8L566.6 382.3L569.7 380.6L563.9 379.1Z"/>
<path fill="#481d6f" d="M423.5 381.7L429.2 382.2L432.5 380.3L426.8 379.7Z"/>
<path fill="#481769" d="M378.5 387.4L384.1 387.8L387.5 385.6L381.9 385.2Z"/>
<path fill="#482173" d="M496.4 378.5L502.2 379.5L505.4 377.8L499.6 376.8Z"/>
<path fill="#481b6d" d="M401 384.3L406.6 384.7L410 382.7L404.3 382.2Z"/>
<path fill="#481c6e" d="M574.8 381.9L580.6 383.5L583.7 381.7L577.8 380.2Z"/>
<path fill="#481b6d" d="M588.8 383.1L594.6 384.8L597.6 383L591.8 381.3Z"/>
<path fill="#482071" d="M460 379.3L465.7 380.1L468.9 378.3L463.2 377.5Z"/>
<path fill="#481a6c" d="M602.7 384.5L608.6 386.1L611.6 384.3L605.7 382.6Z"/>
<path fill="#48186a" d="M616.7 385.8L622.5 387.6L625.5 385.6L619.7 383.9Z"/>
<path fill="#482173" d="M510.4 378.8L516.2 380L519.3 378.3L513.6 377.2Z"/>
<path fill="#481769" d="M630.7 387.3L636.5 389L639.5 387.1L633.6 385.3Z"/>
<path fill="#481467" d="M644.6 388.7L650.5 390.5L653.5 388.5L647.6 386.7Z"/>
<path fill="#471365" d="M658.6 390.2L664.5 392.1L667.4 390L661.5 388.1Z"/>
<path fill="#481f70" d="M437.4 380.9L443.1 381.5L446.4 379.7L440.7 379Z"/>
<path fill="#482071" d="M524.4 379.4L530.2 380.6L533.3 379L527.5 377.7Z"/>
<path fill="#482173" d="M473.9 379.1L479.7 380L482.9 378.3L477.1 377.3Z"/>
<path fill="#481668" d="M369.9 389.3L375.5 389.6L378.9 387.4L373.3 387Z"/>
<path fill="#481d6f" d="M414.9 383.1L420.6 383.6L423.9 381.6L418.2 381.1Z"/>
<path fill="#481a6c" d="M392.4 385.9L398 386.3L401.4 384.2L395.8 383.8Z"/>
<path fill="#482071" d="M538.3 380.2L544.1 381.5L547.2 379.8L541.5 378.5Z"/>
<path fill="#481f70" d="M552.3 381.1L558.1 382.5L561.2 380.8L555.4 379.4Z"/>
<path fill="#482173" d="M487.9 379.1L493.6 380.1L496.8 378.4L491.1 377.4Z"/>
<path fill="#482071" d="M451.4 380.3L457.1 381L460.4 379.2L454.6 378.5Z"/>
<path fill="#481d6f" d="M566.3 382.1L572.1 383.6L575.2 381.9L569.4 380.4Z"/>
<path fill="#481c6e" d="M580.3 383.3L586.1 384.9L589.2 383.1L583.3 381.6Z"/>
<path fill="#482173" d="M501.9 379.4L507.6 380.4L510.8 378.8L505 377.7Z"/>
<path fill="#481467" d="M361.3 391.3L366.9 391.5L370.3 389.2L364.7 388.9Z"/>
<path fill="#481b6d" d="M594.3 384.6L600.1 386.2L603.1 384.4L597.3 382.8Z"/>
<path fill="#481f70" d="M428.8 382.1L434.5 382.6L437.8 380.8L432.1 380.2Z"/>
<path fill="#481a6c" d="M608.2 386L614.1 387.7L617.1 385.8L611.2 384.1Z"/>
<path fill="#48186a" d="M622.2 387.4L628.1 389.2L631.1 387.2L625.2 385.5Z"/>
<path fill="#48186a" d="M383.8 387.7L389.4 388L392.8 385.9L387.2 385.5Z"/>
<path fill="#481c6e" d="M406.3 384.6L412 385L415.3 383L409.7 382.6Z"/>
<path fill="#481769" d="M636.2 388.9L642.1 390.7L645 388.7L639.2 386.9Z"/>
<path fill="#482173" d="M465.3 379.9L471.1 380.7L474.3 379L468.6 378.2Z"/>
<path fill="#481467" d="M650.2 390.4L656.1 392.2L659 390.2L653.1 388.4Z"/>
<path fill="#482173" d="M515.8 379.8L521.6 381L524.8 379.4L519 378.2Z"/>
<path fill="#471365" d="M664.2 391.9L670.1 393.8L673 391.7L667.1 389.8Z"/>
<path fill="#482173" d="M529.8 380.5L535.6 381.8L538.7 380.1L532.9 378.9Z"/>
<path fill="#482173" d="M442.8 381.4L448.5 382L451.8 380.2L446.1 379.5Z"/>
<path fill="#482374" d="M479.3 379.8L485.1 380.7L488.3 379.1L482.5 378.1Z"/>
<path fill="#482071" d="M543.8 381.3L549.6 382.7L552.7 381.1L546.9 379.7Z"/>
<path fill="#481f70" d="M420.2 383.4L425.9 383.9L429.2 382L423.6 381.5Z"/>
<path fill="#48186a" d="M375.2 389.5L380.8 389.7L384.2 387.6L378.6 387.3Z"/>
<path fill="#482071" d="M557.8 382.3L563.6 383.8L566.7 382.1L560.9 380.7Z"/>
<path fill="#481c6e" d="M397.7 386.2L403.4 386.5L406.7 384.5L401.1 384.1Z"/>
<path fill="#482374" d="M493.3 380L499.1 381L502.2 379.3L496.5 378.3Z"/>
<path fill="#481f70" d="M571.8 383.5L577.6 385L580.7 383.3L574.9 381.8Z"/>
<path fill="#481d6f" d="M585.8 384.7L591.6 386.3L594.7 384.6L588.8 383Z"/>
<path fill="#482374" d="M456.8 380.9L462.5 381.6L465.7 379.9L460 379.1Z"/>
<path fill="#481b6d" d="M599.8 386.1L605.6 387.8L608.6 386L602.8 384.3Z"/>
<path fill="#481a6c" d="M613.8 387.5L619.6 389.3L622.6 387.4L616.8 385.7Z"/>
<path fill="#48186a" d="M627.8 389L633.6 390.8L636.6 388.9L630.7 387.1Z"/>
<path fill="#482374" d="M507.3 380.3L513.1 381.4L516.2 379.8L510.5 378.7Z"/>
<path fill="#481668" d="M641.8 390.5L647.6 392.4L650.6 390.4L644.7 388.6Z"/>
<path fill="#481467" d="M655.8 392.1L661.6 393.9L664.6 391.9L658.7 390Z"/>
<path fill="#471365" d="M669.7 393.6L675.7 395.5L678.6 393.4L672.7 391.5Z"/>
<path fill="#482173" d="M434.2 382.5L439.9 383.1L443.2 381.3L437.5 380.7Z"/>
<path fill="#481769" d="M366.6 391.4L372.2 391.6L375.6 389.4L370 389.1Z"/>
<path fill="#482374" d="M521.3 380.9L527.1 382.1L530.2 380.5L524.4 379.3Z"/>
<path fill="#482374" d="M470.7 380.6L476.5 381.4L479.7 379.8L474 378.9Z"/>
<path fill="#481f70" d="M411.6 384.9L417.3 385.3L420.6 383.4L415 382.9Z"/>
<path fill="#481b6d" d="M389.1 387.9L394.7 388.1L398.1 386.1L392.5 385.7Z"/>
<path fill="#482173" d="M535.3 381.6L541.1 382.9L544.2 381.3L538.4 380Z"/>
<path fill="#482173" d="M549.3 382.6L555.1 384L558.2 382.3L552.4 380.9Z"/>
<path fill="#482475" d="M484.7 380.6L490.5 381.5L493.7 379.9L487.9 379Z"/>
<path fill="#482374" d="M448.2 381.9L453.9 382.5L457.2 380.8L451.4 380.1Z"/>
<path fill="#482071" d="M563.3 383.6L569.1 385.1L572.2 383.5L566.4 382Z"/>
<path fill="#481668" d="M357.9 393.4L363.5 393.6L366.9 391.3L361.3 391.1Z"/>
<path fill="#481f70" d="M577.3 384.9L583.1 386.4L586.2 384.7L580.3 383.2Z"/>
<path fill="#482173" d="M425.6 383.8L431.3 384.3L434.6 382.5L428.9 381.9Z"/>
<path fill="#481d6f" d="M591.3 386.2L597.1 387.8L600.2 386.1L594.3 384.4Z"/>
<path fill="#482475" d="M498.7 380.8L504.5 381.9L507.7 380.3L501.9 379.2Z"/>
<path fill="#481a6c" d="M380.5 389.6L386.1 389.9L389.5 387.8L383.9 387.5Z"/>
<path fill="#481c6e" d="M605.3 387.6L611.2 389.3L614.2 387.5L608.3 385.8Z"/>
<path fill="#481d6f" d="M403 386.4L408.7 386.7L412 384.8L406.4 384.4Z"/>
<path fill="#481a6c" d="M619.3 389.1L625.2 390.9L628.2 389L622.3 387.2Z"/>
<path fill="#48186a" d="M633.3 390.6L639.2 392.4L642.2 390.5L636.3 388.7Z"/>
<path fill="#481668" d="M647.3 392.2L653.2 394.1L656.2 392.1L650.3 390.2Z"/>
<path fill="#481467" d="M661.3 393.8L667.2 395.7L670.1 393.6L664.3 391.7Z"/>
<path fill="#482475" d="M462.2 381.5L467.9 382.2L471.1 380.6L465.4 379.8Z"/>
<path fill="#471365" d="M675.3 395.4L681.2 397.3L684.1 395.2L678.2 393.2Z"/>
<path fill="#482475" d="M512.7 381.3L518.5 382.4L521.7 380.9L515.9 379.7Z"/>
<path fill="#482475" d="M526.7 381.9L532.5 383.2L535.7 381.6L529.9 380.3Z"/>
<path fill="#482374" d="M439.6 383L445.3 383.5L448.6 381.8L442.9 381.2Z"/>
<path fill="#482576" d="M476.1 381.3L481.9 382.2L485.1 380.6L479.4 379.7Z"/>
<path fill="#481a6c" d="M371.8 391.5L377.5 391.7L380.9 389.6L375.2 389.3Z"/>
<path fill="#482374" d="M540.8 382.8L546.6 384.1L549.7 382.5L543.9 381.2Z"/>
<path fill="#482071" d="M417 385.2L422.7 385.6L426 383.7L420.3 383.3Z"/>
<path fill="#481d6f" d="M394.4 388L400.1 388.3L403.4 386.3L397.8 386Z"/>
<path fill="#482173" d="M554.8 383.8L560.6 385.2L563.7 383.6L557.9 382.2Z"/>
<path fill="#482071" d="M568.8 385L574.6 386.5L577.7 384.9L571.9 383.3Z"/>
<path fill="#482576" d="M490.2 381.4L495.9 382.4L499.1 380.8L493.4 379.8Z"/>
<path fill="#481f70" d="M582.8 386.3L588.7 387.9L591.7 386.2L585.9 384.6Z"/>
<path fill="#482475" d="M453.6 382.4L459.3 383.1L462.6 381.4L456.8 380.7Z"/>
<path fill="#481d6f" d="M596.8 387.7L602.7 389.3L605.7 387.6L599.8 385.9Z"/>
<path fill="#481c6e" d="M610.8 389.2L616.7 390.9L619.7 389.1L613.8 387.4Z"/>
<path fill="#481a6c" d="M624.9 390.7L630.7 392.5L633.7 390.6L627.8 388.8Z"/>
<path fill="#48186a" d="M638.9 392.3L644.8 394.1L647.7 392.2L641.8 390.4Z"/>
<path fill="#481668" d="M652.9 393.9L658.8 395.8L661.7 393.8L655.8 391.9Z"/>
<path fill="#481467" d="M666.9 395.5L672.8 397.4L675.7 395.4L669.8 393.5Z"/>
<path fill="#482576" d="M504.2 381.7L510 382.8L513.1 381.3L507.3 380.2Z"/>
<path fill="#471164" d="M680.9 397.1L686.8 399.1L689.7 396.9L683.8 395Z"/>
<path fill="#48186a" d="M363.2 393.5L368.8 393.6L372.2 391.4L366.6 391.2Z"/>
<path fill="#482374" d="M431 384.2L436.7 384.7L440 382.9L434.3 382.4Z"/>
<path fill="#481c6e" d="M385.8 389.8L391.4 390L394.8 388L389.1 387.7Z"/>
<path fill="#482071" d="M408.4 386.6L414 387L417.4 385.1L411.7 384.7Z"/>
<path fill="#482576" d="M467.6 382.1L473.3 382.9L476.5 381.3L470.8 380.4Z"/>
<path fill="#482576" d="M518.2 382.3L524 383.4L527.1 381.9L521.3 380.7Z"/>
<path fill="#482475" d="M532.2 383L538 384.3L541.2 382.8L535.3 381.5Z"/>
<path fill="#482475" d="M546.2 384L552.1 385.4L555.2 383.8L549.3 382.4Z"/>
<path fill="#482677" d="M481.6 382L487.3 382.9L490.6 381.4L484.8 380.4Z"/>
<path fill="#482475" d="M444.9 383.4L450.7 384L454 382.4L448.2 381.7Z"/>
<path fill="#481769" d="M354.6 395.5L360.2 395.6L363.6 393.4L358 393.2Z"/>
<path fill="#482374" d="M560.3 385.1L566.1 386.6L569.2 385L563.4 383.5Z"/>
<path fill="#482173" d="M574.3 386.3L580.1 387.9L583.2 386.3L577.4 384.7Z"/>
<path fill="#481c6e" d="M377.1 391.6L382.8 391.8L386.2 389.7L380.5 389.5Z"/>
<path fill="#482374" d="M422.3 385.5L428 385.9L431.4 384.1L425.6 383.6Z"/>
<path fill="#481f70" d="M588.3 387.7L594.2 389.3L597.2 387.7L591.4 386Z"/>
<path fill="#481d6f" d="M602.4 389.2L608.2 390.9L611.2 389.2L605.4 387.5Z"/>
<path fill="#482071" d="M399.7 388.2L405.4 388.5L408.8 386.6L403.1 386.2Z"/>
<path fill="#482677" d="M495.6 382.2L501.4 383.2L504.6 381.7L498.8 380.7Z"/>
<path fill="#481c6e" d="M616.4 390.7L622.3 392.5L625.3 390.7L619.4 388.9Z"/>
<path fill="#481a6c" d="M630.4 392.3L636.3 394.2L639.3 392.3L633.4 390.5Z"/>
<path fill="#48186a" d="M644.4 394L650.3 395.8L653.3 393.9L647.4 392Z"/>
<path fill="#481668" d="M658.5 395.6L664.4 397.5L667.3 395.5L661.4 393.6Z"/>
<path fill="#481467" d="M672.5 397.3L678.4 399.2L681.3 397.1L675.4 395.2Z"/>
<path fill="#471164" d="M686.5 398.9L692.5 400.9L695.3 398.7L689.4 396.8Z"/>
<path fill="#482677" d="M459 382.9L464.7 383.6L468 382L462.2 381.3Z"/>
<path fill="#482677" d="M509.6 382.7L515.4 383.8L518.6 382.3L512.8 381.1Z"/>
<path fill="#482576" d="M523.7 383.3L529.5 384.5L532.6 383L526.8 381.8Z"/>
<path fill="#482576" d="M436.3 384.5L442.1 385L445.3 383.4L439.6 382.8Z"/>
<path fill="#481b6d" d="M368.5 393.5L374.1 393.6L377.5 391.5L371.9 391.3Z"/>
<path fill="#482677" d="M473 382.7L478.7 383.5L482 382L476.2 381.1Z"/>
<path fill="#482374" d="M413.7 386.9L419.4 387.2L422.7 385.4L417 385Z"/>
<path fill="#482576" d="M537.7 384.2L543.5 385.5L546.6 384L540.8 382.6Z"/>
<path fill="#481f70" d="M391.1 389.9L396.8 390.1L400.1 388.1L394.5 387.9Z"/>
<path fill="#482475" d="M551.7 385.2L557.6 386.6L560.7 385.1L554.8 383.7Z"/>
<path fill="#482374" d="M565.8 386.4L571.6 387.9L574.7 386.3L568.9 384.8Z"/>
<path fill="#482878" d="M487 382.8L492.8 383.7L496 382.2L490.2 381.2Z"/>
<path fill="#482173" d="M579.8 387.7L585.7 389.3L588.7 387.7L582.9 386.1Z"/>
<path fill="#482677" d="M450.3 383.9L456.1 384.5L459.3 382.9L453.6 382.2Z"/>
<path fill="#482071" d="M593.9 389.2L599.7 390.9L602.8 389.2L596.9 387.5Z"/>
<path fill="#481d6f" d="M607.9 390.7L613.8 392.5L616.8 390.7L610.9 389Z"/>
<path fill="#481c6e" d="M621.9 392.3L627.8 394.1L630.8 392.3L624.9 390.5Z"/>
<path fill="#481a6c" d="M636 394L641.9 395.8L644.8 394L638.9 392.1Z"/>
<path fill="#48186a" d="M650 395.7L655.9 397.6L658.9 395.6L653 393.7Z"/>
<path fill="#481668" d="M664.1 397.4L670 399.3L672.9 397.3L667 395.4Z"/>
<path fill="#471365" d="M678.1 399.1L684 401L686.9 398.9L681 397Z"/>
<path fill="#471164" d="M692.1 400.7L698.1 402.7L701 400.5L695 398.6Z"/>
<path fill="#481a6c" d="M359.8 395.5L365.5 395.6L368.9 393.4L363.3 393.3Z"/>
<path fill="#482878" d="M501 383.1L506.8 384.1L510 382.6L504.2 381.6Z"/>
<path fill="#482576" d="M427.7 385.8L433.4 386.2L436.7 384.5L431 384Z"/>
<path fill="#481f70" d="M382.4 391.7L388.1 391.8L391.5 389.8L385.8 389.6Z"/>
<path fill="#482374" d="M405.1 388.4L410.8 388.6L414.1 386.8L408.4 386.5Z"/>
<path fill="#482878" d="M464.4 383.5L470.1 384.2L473.4 382.7L467.6 381.9Z"/>
<path fill="#482677" d="M515.1 383.6L520.9 384.8L524.1 383.3L518.2 382.1Z"/>
<path fill="#482677" d="M529.1 384.4L535 385.6L538.1 384.2L532.3 382.9Z"/>
<path fill="#48186a" d="M351.2 397.6L356.8 397.7L360.2 395.5L354.6 395.3Z"/>
<path fill="#482677" d="M441.7 384.9L447.5 385.5L450.7 383.8L445 383.3Z"/>
<path fill="#482576" d="M543.2 385.3L549 386.7L552.1 385.2L546.3 383.8Z"/>
<path fill="#482878" d="M478.4 383.4L484.2 384.2L487.4 382.8L481.6 381.9Z"/>
<path fill="#482475" d="M557.2 386.5L563.1 387.9L566.2 386.4L560.3 384.9Z"/>
<path fill="#481d6f" d="M373.8 393.5L379.4 393.6L382.8 391.6L377.2 391.4Z"/>
<path fill="#482374" d="M571.3 387.8L577.1 389.3L580.2 387.7L574.4 386.2Z"/>
<path fill="#482576" d="M419.1 387.1L424.8 387.4L428.1 385.7L422.4 385.3Z"/>
<path fill="#482173" d="M396.4 390L402.1 390.2L405.5 388.3L399.8 388Z"/>
<path fill="#482173" d="M585.3 389.2L591.2 390.8L594.3 389.2L588.4 387.6Z"/>
<path fill="#482071" d="M599.4 390.7L605.3 392.4L608.3 390.7L602.4 389Z"/>
<path fill="#481668" d="M669.7 399.1L675.6 401.1L678.5 399L672.6 397.1Z"/>
<path fill="#471365" d="M683.7 400.9L689.6 402.8L692.5 400.7L686.6 398.7Z"/>
<path fill="#481769" d="M655.6 397.4L661.5 399.3L664.5 397.4L658.5 395.5Z"/>
<path fill="#481d6f" d="M613.4 392.3L619.3 394.1L622.3 392.3L616.5 390.6Z"/>
<path fill="#471164" d="M697.8 402.5L703.7 404.5L706.6 402.3L700.6 400.4Z"/>
<path fill="#481a6c" d="M641.6 395.7L647.5 397.6L650.4 395.7L644.5 393.8Z"/>
<path fill="#481c6e" d="M627.5 394L633.4 395.8L636.4 394L630.5 392.2Z"/>
<path fill="#482979" d="M492.4 383.6L498.2 384.5L501.4 383.1L495.6 382.1Z"/>
<path fill="#482878" d="M455.7 384.4L461.5 385L464.8 383.5L459 382.8Z"/>
<path fill="#482979" d="M506.5 384L512.3 385L515.5 383.6L509.7 382.5Z"/>
<path fill="#481c6e" d="M365.1 395.5L370.8 395.5L374.2 393.4L368.5 393.3Z"/>
<path fill="#482677" d="M433.1 386.1L438.8 386.5L442.1 384.9L436.4 384.4Z"/>
<path fill="#482878" d="M520.6 384.6L526.4 385.8L529.5 384.4L523.7 383.2Z"/>
<path fill="#482979" d="M469.8 384.1L475.6 384.9L478.8 383.4L473 382.6Z"/>
<path fill="#482071" d="M387.8 391.7L393.4 391.8L396.8 389.9L391.1 389.7Z"/>
<path fill="#482475" d="M410.4 388.5L416.1 388.8L419.5 387L413.7 386.7Z"/>
<path fill="#482878" d="M534.6 385.5L540.5 386.8L543.6 385.3L537.8 384Z"/>
<path fill="#482677" d="M548.7 386.6L554.5 387.9L557.6 386.5L551.8 385.1Z"/>
<path fill="#482576" d="M562.7 387.8L568.6 389.3L571.7 387.8L565.8 386.3Z"/>
<path fill="#482979" d="M483.8 384.1L489.6 385L492.8 383.5L487.1 382.6Z"/>
<path fill="#482475" d="M576.8 389.2L582.7 390.7L585.7 389.2L579.9 387.6Z"/>
<path fill="#471365" d="M689.3 402.7L695.3 404.7L698.2 402.5L692.2 400.6Z"/>
<path fill="#482979" d="M447.1 385.3L452.9 385.9L456.1 384.3L450.4 383.7Z"/>
<path fill="#481668" d="M675.3 400.9L681.2 402.9L684.1 400.8L678.2 398.9Z"/>
<path fill="#481b6d" d="M356.5 397.6L362.1 397.6L365.5 395.4L359.9 395.4Z"/>
<path fill="#481769" d="M661.2 399.2L667.1 401.1L670.1 399.1L664.1 397.2Z"/>
<path fill="#482173" d="M590.9 390.7L596.8 392.3L599.8 390.7L593.9 389Z"/>
<path fill="#481a6c" d="M647.1 397.4L653.1 399.3L656 397.4L650.1 395.5Z"/>
<path fill="#481c6e" d="M633.1 395.7L639 397.5L642 395.7L636.1 393.8Z"/>
<path fill="#482071" d="M604.9 392.3L610.8 394L613.8 392.3L608 390.6Z"/>
<path fill="#481d6f" d="M619 393.9L624.9 395.7L627.9 394L622 392.2Z"/>
<path fill="#482071" d="M379.1 393.5L384.8 393.6L388.1 391.6L382.5 391.5Z"/>
<path fill="#482677" d="M424.4 387.3L430.2 387.7L433.5 386L427.7 385.6Z"/>
<path fill="#472a7a" d="M497.9 384.4L503.7 385.4L506.9 384L501.1 382.9Z"/>
<path fill="#482475" d="M401.8 390.1L407.5 390.2L410.8 388.4L405.1 388.2Z"/>
<path fill="#472a7a" d="M461.2 384.9L466.9 385.6L470.2 384.1L464.4 383.4Z"/>
<path fill="#482979" d="M512 384.9L517.8 386L521 384.6L515.1 383.5Z"/>
<path fill="#481a6c" d="M347.8 399.7L353.4 399.7L356.8 397.5L351.2 397.5Z"/>
<path fill="#482979" d="M526 385.7L531.9 386.9L535 385.5L529.2 384.2Z"/>
<path fill="#482979" d="M438.5 386.4L444.2 386.9L447.5 385.3L441.8 384.8Z"/>
<path fill="#482878" d="M540.1 386.6L546 388L549.1 386.6L543.2 385.2Z"/>
<path fill="#472a7a" d="M475.2 384.7L481 385.5L484.2 384.1L478.4 383.3Z"/>
<path fill="#481f70" d="M370.4 395.4L376.1 395.4L379.5 393.4L373.8 393.4Z"/>
<path fill="#482677" d="M554.2 387.8L560.1 389.2L563.1 387.8L557.3 386.3Z"/>
<path fill="#482677" d="M415.8 388.7L421.5 388.9L424.8 387.3L419.1 386.9Z"/>
<path fill="#482374" d="M393.1 391.7L398.8 391.8L402.1 390L396.5 389.8Z"/>
<path fill="#471365" d="M694.9 404.5L700.9 406.5L703.8 404.4L697.8 402.4Z"/>
<path fill="#481467" d="M680.9 402.7L686.8 404.7L689.7 402.7L683.8 400.7Z"/>
<path fill="#482576" d="M568.3 389.1L574.1 390.7L577.2 389.2L571.4 387.6Z"/>
<path fill="#481769" d="M666.8 401L672.7 402.9L675.7 400.9L669.7 399Z"/>
<path fill="#481a6c" d="M652.7 399.2L658.7 401.1L661.6 399.2L655.7 397.3Z"/>
<path fill="#481b6d" d="M638.7 397.3L644.6 399.2L647.5 397.4L641.6 395.5Z"/>
<path fill="#482475" d="M582.4 390.6L588.2 392.2L591.3 390.7L585.4 389Z"/>
<path fill="#481d6f" d="M624.6 395.6L630.5 397.4L633.5 395.7L627.6 393.8Z"/>
<path fill="#482173" d="M596.4 392.2L602.3 393.9L605.3 392.3L599.5 390.6Z"/>
<path fill="#482071" d="M610.5 393.8L616.4 395.6L619.4 393.9L613.5 392.2Z"/>
<path fill="#472c7a" d="M489.3 384.9L495.1 385.8L498.3 384.4L492.5 383.4Z"/>
<path fill="#472a7a" d="M452.5 385.8L458.3 386.3L461.5 384.9L455.8 384.2Z"/>
<path fill="#481d6f" d="M361.7 397.5L367.4 397.4L370.8 395.4L365.2 395.3Z"/>
<path fill="#472a7a" d="M503.4 385.3L509.2 386.3L512.4 384.9L506.5 383.8Z"/>
<path fill="#482979" d="M429.8 387.6L435.6 387.9L438.9 386.4L433.1 385.9Z"/>
<path fill="#482374" d="M384.4 393.5L390.1 393.5L393.5 391.6L387.8 391.5Z"/>
<path fill="#472a7a" d="M517.4 385.9L523.3 387L526.4 385.7L520.6 384.5Z"/>
<path fill="#482677" d="M407.1 390.1L412.8 390.3L416.2 388.6L410.5 388.4Z"/>
<path fill="#472c7a" d="M466.6 385.4L472.4 386.1L475.6 384.7L469.8 384Z"/>
<path fill="#472a7a" d="M531.5 386.8L537.4 388L540.5 386.6L534.7 385.4Z"/>
<path fill="#482979" d="M545.6 387.8L551.5 389.2L554.6 387.8L548.7 386.4Z"/>
<path fill="#481c6e" d="M353.1 399.6L358.7 399.5L362.1 397.4L356.5 397.4Z"/>
<path fill="#481467" d="M686.5 404.6L692.4 406.6L695.3 404.5L689.4 402.5Z"/>
<path fill="#481769" d="M672.4 402.8L678.4 404.8L681.3 402.7L675.3 400.8Z"/>
<path fill="#481a6c" d="M658.3 400.9L664.3 402.9L667.2 401L661.3 399Z"/>
<path fill="#482878" d="M559.7 389.1L565.6 390.6L568.7 389.1L562.8 387.6Z"/>
<path fill="#481b6d" d="M644.2 399.1L650.2 401L653.1 399.2L647.2 397.2Z"/>
<path fill="#472c7a" d="M480.7 385.4L486.5 386.2L489.7 384.8L483.9 384Z"/>
<path fill="#482576" d="M573.8 390.5L579.7 392.1L582.8 390.6L576.9 389Z"/>
<path fill="#481d6f" d="M630.2 397.2L636.1 399.1L639.1 397.4L633.1 395.5Z"/>
<path fill="#472a7a" d="M443.9 386.8L449.6 387.2L452.9 385.7L447.1 385.2Z"/>
<path fill="#482071" d="M616.1 395.5L622 397.3L625 395.6L619.1 393.8Z"/>
<path fill="#482475" d="M587.9 392.1L593.8 393.7L596.8 392.2L590.9 390.5Z"/>
<path fill="#482173" d="M602 393.7L607.9 395.5L610.9 393.8L605 392.1Z"/>
<path fill="#482173" d="M375.7 395.4L381.4 395.3L384.8 393.4L379.1 393.3Z"/>
<path fill="#482979" d="M421.1 388.8L426.9 389.1L430.2 387.5L424.5 387.2Z"/>
<path fill="#482576" d="M398.4 391.7L404.1 391.8L407.5 390.1L401.8 389.9Z"/>
<path fill="#472d7b" d="M494.7 385.6L500.6 386.6L503.8 385.2L497.9 384.3Z"/>
<path fill="#481b6d" d="M344.4 401.8L350 401.7L353.4 399.5L347.8 399.6Z"/>
<path fill="#472c7a" d="M457.9 386.2L463.7 386.8L467 385.4L461.2 384.8Z"/>
<path fill="#472c7a" d="M508.8 386.2L514.7 387.2L517.8 385.9L512 384.8Z"/>
<path fill="#472c7a" d="M522.9 386.9L528.8 388.1L531.9 386.8L526.1 385.5Z"/>
<path fill="#482071" d="M367 397.3L372.7 397.2L376.1 395.3L370.5 395.3Z"/>
<path fill="#472c7a" d="M435.2 387.8L441 388.2L444.3 386.7L438.5 386.3Z"/>
<path fill="#472a7a" d="M537 387.9L542.9 389.2L546 387.8L540.2 386.5Z"/>
<path fill="#472d7b" d="M472 386L477.8 386.8L481.1 385.4L475.3 384.6Z"/>
<path fill="#481467" d="M692.1 406.4L698.1 408.5L701 406.4L695 404.3Z"/>
<path fill="#481769" d="M678 404.6L684 406.6L686.9 404.6L681 402.6Z"/>
<path fill="#482576" d="M389.7 393.4L395.4 393.4L398.8 391.6L393.1 391.5Z"/>
<path fill="#48186a" d="M663.9 402.7L669.9 404.7L672.8 402.8L666.9 400.8Z"/>
<path fill="#482979" d="M412.5 390.2L418.2 390.4L421.5 388.8L415.8 388.5Z"/>
<path fill="#482979" d="M551.1 389.1L557 390.5L560.1 389.1L554.3 387.7Z"/>
<path fill="#481b6d" d="M649.8 400.8L655.8 402.8L658.7 400.9L652.8 399Z"/>
<path fill="#481d6f" d="M635.8 399L641.7 400.8L644.6 399.1L638.7 397.2Z"/>
<path fill="#482878" d="M565.2 390.4L571.1 391.9L574.2 390.5L568.3 389Z"/>
<path fill="#482071" d="M621.7 397.1L627.6 398.9L630.6 397.3L624.7 395.4Z"/>
<path fill="#482677" d="M579.4 391.9L585.2 393.5L588.3 392.1L582.4 390.4Z"/>
<path fill="#482173" d="M607.6 395.3L613.5 397.1L616.5 395.5L610.6 393.7Z"/>
<path fill="#482475" d="M593.5 393.6L599.4 395.3L602.4 393.7L596.5 392Z"/>
<path fill="#472d7b" d="M486.1 386.1L491.9 387L495.1 385.6L489.3 384.7Z"/>
<path fill="#472d7b" d="M449.3 387.1L455.1 387.6L458.3 386.2L452.6 385.6Z"/>
<path fill="#481f70" d="M358.4 399.4L364 399.3L367.4 397.2L361.8 397.3Z"/>
<path fill="#472d7b" d="M500.2 386.5L506 387.4L509.2 386.1L503.4 385.1Z"/>
<path fill="#482475" d="M381.1 395.2L386.7 395.2L390.1 393.3L384.5 393.3Z"/>
<path fill="#472c7a" d="M426.5 389L432.3 389.3L435.6 387.8L429.8 387.4Z"/>
<path fill="#482878" d="M403.8 391.7L409.5 391.8L412.9 390.2L407.1 390Z"/>
<path fill="#472d7b" d="M514.3 387.1L520.2 388.2L523.3 386.9L517.5 385.7Z"/>
<path fill="#472e7c" d="M463.4 386.7L469.2 387.4L472.4 386L466.6 385.3Z"/>
<path fill="#481d6f" d="M349.7 401.6L355.3 401.4L358.7 399.3L353.1 399.4Z"/>
<path fill="#472d7b" d="M528.4 388L534.3 389.2L537.4 387.9L531.6 386.6Z"/>
<path fill="#481668" d="M683.7 406.4L689.6 408.5L692.5 406.4L686.6 404.4Z"/>
<path fill="#48186a" d="M669.6 404.5L675.5 406.5L678.4 404.6L672.5 402.6Z"/>
<path fill="#481b6d" d="M655.5 402.6L661.4 404.6L664.3 402.7L658.4 400.8Z"/>
<path fill="#472c7a" d="M542.6 389.1L548.4 390.4L551.5 389.1L545.7 387.7Z"/>
<path fill="#481d6f" d="M641.3 400.7L647.3 402.6L650.2 400.8L644.3 398.9Z"/>
<path fill="#482071" d="M627.2 398.8L633.2 400.7L636.2 399L630.2 397.1Z"/>
<path fill="#472a7a" d="M556.7 390.3L562.6 391.8L565.6 390.4L559.8 388.9Z"/>
<path fill="#482173" d="M613.1 396.9L619 398.7L622.1 397.1L616.1 395.3Z"/>
<path fill="#472e7c" d="M477.5 386.6L483.3 387.4L486.5 386.1L480.7 385.3Z"/>
<path fill="#472d7b" d="M440.6 388.1L446.4 388.5L449.7 387.1L443.9 386.6Z"/>
<path fill="#482878" d="M570.8 391.8L576.7 393.4L579.8 391.9L573.9 390.4Z"/>
<path fill="#482475" d="M599 395.1L604.9 396.8L608 395.3L602.1 393.6Z"/>
<path fill="#482677" d="M584.9 393.4L590.8 395L593.9 393.6L588 391.9Z"/>
<path fill="#482374" d="M372.4 397.2L378 397L381.5 395.2L375.8 395.2Z"/>
<path fill="#472c7a" d="M417.8 390.3L423.6 390.5L426.9 389L421.2 388.7Z"/>
<path fill="#482878" d="M395.1 393.4L400.8 393.4L404.2 391.7L398.5 391.6Z"/>
<path fill="#481c6e" d="M341 403.9L346.6 403.7L350 401.5L344.4 401.6Z"/>
<path fill="#472f7d" d="M491.6 386.8L497.4 387.7L500.6 386.4L494.8 385.5Z"/>
<path fill="#472e7c" d="M454.7 387.5L460.5 388.1L463.8 386.7L458 386.1Z"/>
<path fill="#472e7c" d="M505.7 387.3L511.5 388.4L514.7 387.1L508.9 386Z"/>
<path fill="#482173" d="M363.7 399.2L369.3 399L372.8 397.1L367.1 397.2Z"/>
<path fill="#472e7c" d="M519.8 388.1L525.7 389.2L528.8 388L523 386.8Z"/>
<path fill="#481668" d="M689.3 408.3L695.3 410.4L698.2 408.3L692.2 406.3Z"/>
<path fill="#472d7b" d="M431.9 389.2L437.7 389.5L441 388.1L435.2 387.7Z"/>
<path fill="#48186a" d="M675.2 406.4L681.1 408.4L684.1 406.4L678.1 404.4Z"/>
<path fill="#481b6d" d="M661.1 404.4L667 406.4L670 404.5L664 402.6Z"/>
<path fill="#482677" d="M386.4 395.1L392.1 395L395.5 393.3L389.8 393.3Z"/>
<path fill="#472f7d" d="M468.8 387.3L474.6 387.9L477.9 386.6L472.1 385.9Z"/>
<path fill="#472d7b" d="M534 389.1L539.8 390.3L543 389.1L537.1 387.7Z"/>
<path fill="#481d6f" d="M647 402.5L652.9 404.4L655.9 402.6L649.9 400.7Z"/>
<path fill="#472a7a" d="M409.2 391.8L414.9 391.9L418.2 390.3L412.5 390.1Z"/>
<path fill="#482071" d="M632.8 400.5L638.8 402.4L641.7 400.7L635.8 398.8Z"/>
<path fill="#472c7a" d="M548.1 390.3L554 391.7L557.1 390.3L551.2 388.9Z"/>
<path fill="#482173" d="M618.7 398.6L624.6 400.4L627.6 398.8L621.7 397Z"/>
<path fill="#482475" d="M604.6 396.7L610.5 398.5L613.5 396.9L607.6 395.1Z"/>
<path fill="#472a7a" d="M562.2 391.7L568.1 393.2L571.2 391.8L565.3 390.3Z"/>
<path fill="#482677" d="M590.5 394.9L596.4 396.6L599.4 395.1L593.5 393.4Z"/>
<path fill="#482878" d="M576.3 393.2L582.2 394.8L585.3 393.4L579.4 391.8Z"/>
<path fill="#482071" d="M355 401.3L360.6 401.1L364.1 399.1L358.4 399.2Z"/>
<path fill="#46307e" d="M482.9 387.3L488.8 388.1L492 386.8L486.2 386Z"/>
<path fill="#472f7d" d="M446 388.4L451.8 388.9L455.1 387.5L449.3 387Z"/>
<path fill="#482677" d="M377.7 397L383.4 396.8L386.8 395L381.1 395.1Z"/>
<path fill="#46307e" d="M497.1 387.6L502.9 388.6L506.1 387.3L500.3 386.3Z"/>
<path fill="#472d7b" d="M423.2 390.4L429 390.7L432.3 389.2L426.6 388.9Z"/>
<path fill="#472a7a" d="M400.5 393.3L406.2 393.3L409.5 391.7L403.8 391.6Z"/>
<path fill="#481f70" d="M346.2 403.6L351.9 403.3L355.3 401.2L349.7 401.4Z"/>
<path fill="#472f7d" d="M511.2 388.2L517 389.3L520.2 388.1L514.4 387Z"/>
<path fill="#46307e" d="M460.1 388L465.9 388.5L469.2 387.2L463.4 386.6Z"/>
<path fill="#48186a" d="M680.8 408.3L686.8 410.3L689.7 408.3L683.7 406.3Z"/>
<path fill="#481b6d" d="M666.7 406.3L672.7 408.3L675.6 406.4L669.6 404.4Z"/>
<path fill="#481c6e" d="M652.6 404.3L658.5 406.2L661.5 404.4L655.5 402.5Z"/>
<path fill="#472f7d" d="M525.3 389.1L531.2 390.3L534.4 389.1L528.5 387.8Z"/>
<path fill="#481f70" d="M638.4 402.2L644.4 404.2L647.4 402.5L641.4 400.5Z"/>
<path fill="#472e7c" d="M539.5 390.2L545.4 391.5L548.5 390.3L542.6 388.9Z"/>
<path fill="#482173" d="M624.3 400.3L630.2 402.1L633.2 400.5L627.3 398.6Z"/>
<path fill="#482576" d="M369 398.9L374.7 398.7L378.1 396.9L372.4 397Z"/>
<path fill="#482475" d="M610.2 398.3L616.1 400.1L619.1 398.6L613.2 396.8Z"/>
<path fill="#472d7b" d="M553.6 391.5L559.5 393L562.6 391.7L556.7 390.2Z"/>
<path fill="#472f7d" d="M437.3 389.4L443.1 389.8L446.4 388.4L440.6 388Z"/>
<path fill="#482677" d="M596 396.4L602 398.2L605 396.7L599.1 395Z"/>
<path fill="#472a7a" d="M567.8 393L573.7 394.6L576.7 393.2L570.9 391.7Z"/>
<path fill="#482979" d="M581.9 394.7L587.8 396.3L590.9 394.9L585 393.3Z"/>
<path fill="#46307e" d="M474.3 387.8L480.1 388.5L483.3 387.3L477.5 386.5Z"/>
<path fill="#481d6f" d="M337.5 405.9L343.2 405.6L346.6 403.5L341 403.7Z"/>
<path fill="#472a7a" d="M391.7 395L397.5 394.9L400.8 393.2L395.1 393.2Z"/>
<path fill="#472d7b" d="M414.5 391.8L420.3 391.9L423.6 390.4L417.9 390.2Z"/>
<path fill="#46327e" d="M488.4 388L494.2 388.8L497.5 387.6L491.6 386.7Z"/>
<path fill="#46307e" d="M451.5 388.8L457.3 389.2L460.5 387.9L454.7 387.4Z"/>
<path fill="#482475" d="M360.3 401L365.9 400.8L369.4 398.9L363.7 399Z"/>
<path fill="#46327e" d="M502.5 388.4L508.4 389.4L511.6 388.2L505.7 387.2Z"/>
<path fill="#481769" d="M686.5 410.1L692.4 412.2L695.4 410.2L689.4 408.2Z"/>
<path fill="#481a6c" d="M672.3 408.1L678.3 410.2L681.2 408.3L675.3 406.2Z"/>
<path fill="#481c6e" d="M658.2 406.1L664.2 408.1L667.1 406.3L661.1 404.3Z"/>
<path fill="#472f7d" d="M428.6 390.6L434.4 390.8L437.7 389.4L432 389.1Z"/>
<path fill="#46307e" d="M516.7 389.2L522.6 390.3L525.7 389.1L519.9 387.9Z"/>
<path fill="#482979" d="M383 396.8L388.7 396.6L392.1 394.9L386.4 394.9Z"/>
<path fill="#481f70" d="M644.1 404L650 406L653 404.3L647 402.3Z"/>
<path fill="#472d7b" d="M405.8 393.2L411.6 393.3L414.9 391.7L409.2 391.6Z"/>
<path fill="#46327e" d="M465.6 388.4L471.4 389L474.7 387.8L468.8 387.1Z"/>
<path fill="#482173" d="M629.9 402L635.9 403.9L638.8 402.3L632.9 400.3Z"/>
<path fill="#472f7d" d="M530.9 390.2L536.7 391.4L539.9 390.2L534 388.9Z"/>
<path fill="#482475" d="M615.8 400L621.7 401.8L624.7 400.3L618.8 398.4Z"/>
<path fill="#472e7c" d="M545 391.4L550.9 392.8L554 391.5L548.1 390.1Z"/>
<path fill="#482677" d="M601.6 398L607.5 399.8L610.6 398.3L604.7 396.5Z"/>
<path fill="#472d7b" d="M559.2 392.8L565.1 394.3L568.2 393L562.3 391.5Z"/>
<path fill="#482979" d="M587.5 396.2L593.4 397.9L596.4 396.5L590.5 394.8Z"/>
<path fill="#482374" d="M351.5 403.2L357.2 402.9L360.7 400.9L355 401.2Z"/>
<path fill="#472c7a" d="M573.3 394.4L579.2 396L582.3 394.7L576.4 393.1Z"/>
<path fill="#46337f" d="M479.7 388.4L485.6 389.2L488.8 388L483 387.2Z"/>
<path fill="#46327e" d="M442.8 389.7L448.6 390.1L451.9 388.7L446.1 388.3Z"/>
<path fill="#482878" d="M374.3 398.7L380 398.4L383.4 396.7L377.7 396.8Z"/>
<path fill="#472f7d" d="M419.9 391.8L425.7 392L429 390.5L423.3 390.3Z"/>
<path fill="#46337f" d="M493.9 388.7L499.7 389.6L502.9 388.4L497.1 387.5Z"/>
<path fill="#472d7b" d="M397.1 394.8L402.9 394.8L406.2 393.2L400.5 393.1Z"/>
<path fill="#482071" d="M342.8 405.5L348.5 405.2L351.9 403.1L346.3 403.4Z"/>
<path fill="#481a6c" d="M678 410L684 412.1L686.9 410.2L680.9 408.1Z"/>
<path fill="#481c6e" d="M663.8 407.9L669.8 410L672.7 408.1L666.8 406.1Z"/>
<path fill="#46327e" d="M508 389.3L513.9 390.3L517.1 389.2L511.2 388.1Z"/>
<path fill="#46337f" d="M456.9 389.1L462.7 389.7L466 388.4L460.2 387.8Z"/>
<path fill="#481f70" d="M649.7 405.8L655.6 407.8L658.6 406.1L652.6 404.1Z"/>
<path fill="#482173" d="M635.5 403.7L641.5 405.7L644.5 404L638.5 402.1Z"/>
<path fill="#46327e" d="M522.2 390.2L528.1 391.3L531.3 390.2L525.4 389Z"/>
<path fill="#482677" d="M365.6 400.7L371.3 400.4L374.7 398.6L369 398.8Z"/>
<path fill="#482475" d="M621.4 401.7L627.3 403.6L630.3 402L624.4 400.1Z"/>
<path fill="#46307e" d="M536.4 391.3L542.3 392.6L545.4 391.4L539.5 390.1Z"/>
<path fill="#482677" d="M607.2 399.6L613.1 401.5L616.2 400L610.2 398.2Z"/>
<path fill="#481f70" d="M334.1 407.9L339.7 407.5L343.2 405.4L337.6 405.7Z"/>
<path fill="#482979" d="M593.1 397.7L599 399.4L602 398L596.1 396.3Z"/>
<path fill="#46327e" d="M434.1 390.7L439.9 391L443.2 389.6L437.4 389.3Z"/>
<path fill="#472f7d" d="M550.6 392.6L556.5 394.1L559.6 392.8L553.7 391.4Z"/>
<path fill="#472c7a" d="M578.9 395.9L584.8 397.5L587.9 396.2L582 394.5Z"/>
<path fill="#472d7b" d="M564.7 394.2L570.6 395.7L573.7 394.4L567.8 392.9Z"/>
<path fill="#463480" d="M471.1 388.9L476.9 389.6L480.1 388.4L474.3 387.7Z"/>
<path fill="#472c7a" d="M388.4 396.5L394.1 396.4L397.5 394.7L391.8 394.8Z"/>
<path fill="#472f7d" d="M411.2 393.2L417 393.2L420.3 391.8L414.6 391.6Z"/>
<path fill="#463480" d="M485.2 389.1L491.1 389.9L494.3 388.7L488.4 387.8Z"/>
<path fill="#482576" d="M356.9 402.8L362.5 402.5L366 400.6L360.3 400.9Z"/>
<path fill="#46337f" d="M448.2 390L454 390.4L457.3 389.1L451.5 388.6Z"/>
<path fill="#481a6c" d="M683.6 411.9L689.6 414L692.5 412.1L686.6 410Z"/>
<path fill="#481c6e" d="M669.5 409.8L675.4 411.9L678.4 410L672.4 408Z"/>
<path fill="#463480" d="M499.4 389.5L505.3 390.4L508.4 389.3L502.6 388.3Z"/>
<path fill="#481f70" d="M655.3 407.7L661.3 409.7L664.2 407.9L658.3 405.9Z"/>
<path fill="#472a7a" d="M379.7 398.4L385.4 398.1L388.8 396.5L383.1 396.6Z"/>
<path fill="#46327e" d="M425.3 391.9L431.1 392L434.5 390.7L428.7 390.4Z"/>
<path fill="#482173" d="M641.1 405.5L647.1 407.5L650.1 405.8L644.1 403.9Z"/>
<path fill="#46337f" d="M513.6 390.2L519.4 391.3L522.6 390.2L516.7 389Z"/>
<path fill="#472f7d" d="M402.5 394.7L408.2 394.6L411.6 393.1L405.9 393.1Z"/>
<path fill="#482475" d="M627 403.4L632.9 405.3L635.9 403.8L630 401.8Z"/>
<path fill="#463480" d="M462.4 389.6L468.2 390.1L471.5 388.9L465.6 388.3Z"/>
<path fill="#482475" d="M348.1 405.1L353.8 404.7L357.2 402.7L351.6 403.1Z"/>
<path fill="#482677" d="M612.8 401.3L618.8 403.2L621.8 401.7L615.8 399.8Z"/>
<path fill="#46337f" d="M527.7 391.2L533.6 392.4L536.8 391.3L530.9 390Z"/>
<path fill="#482979" d="M598.6 399.3L604.6 401.1L607.6 399.7L601.7 397.9Z"/>
<path fill="#46307e" d="M541.9 392.5L547.8 393.8L551 392.6L545.1 391.3Z"/>
<path fill="#472c7a" d="M584.5 397.4L590.4 399L593.5 397.7L587.5 396Z"/>
<path fill="#472f7d" d="M556.1 393.9L562 395.4L565.1 394.2L559.2 392.7Z"/>
<path fill="#472e7c" d="M570.3 395.6L576.2 397.1L579.3 395.9L573.4 394.3Z"/>
<path fill="#453581" d="M476.5 389.5L482.4 390.2L485.6 389L479.8 388.3Z"/>
<path fill="#472a7a" d="M370.9 400.3L376.6 400L380 398.3L374.3 398.5Z"/>
<path fill="#463480" d="M439.5 390.9L445.3 391.2L448.6 389.9L442.8 389.6Z"/>
<path fill="#482173" d="M339.4 407.4L345 407L348.5 405L342.8 405.4Z"/>
<path fill="#472e7c" d="M393.8 396.3L399.5 396.1L402.9 394.6L397.1 394.7Z"/>
<path fill="#46327e" d="M416.6 393.1L422.4 393.2L425.7 391.8L420 391.7Z"/>
<path fill="#481b6d" d="M675.1 411.7L681.1 413.8L684 411.9L678.1 409.9Z"/>
<path fill="#453581" d="M490.7 389.7L496.6 390.6L499.8 389.5L493.9 388.6Z"/>
<path fill="#481f70" d="M661 409.6L666.9 411.6L669.9 409.8L663.9 407.8Z"/>
<path fill="#482173" d="M646.8 407.4L652.7 409.4L655.7 407.7L649.8 405.7Z"/>
<path fill="#453581" d="M453.6 390.3L459.5 390.7L462.8 389.5L456.9 389Z"/>
<path fill="#453581" d="M504.9 390.3L510.8 391.3L514 390.2L508.1 389.2Z"/>
<path fill="#482475" d="M632.6 405.2L638.6 407.1L641.5 405.5L635.6 403.6Z"/>
<path fill="#482979" d="M362.2 402.4L367.9 402L371.3 400.2L365.6 400.5Z"/>
<path fill="#482071" d="M330.6 409.9L336.3 409.4L339.8 407.3L334.1 407.7Z"/>
<path fill="#482677" d="M618.4 403L624.4 404.9L627.4 403.4L621.4 401.5Z"/>
<path fill="#463480" d="M519.1 391.2L525 392.3L528.1 391.2L522.3 390Z"/>
<path fill="#482979" d="M604.2 400.9L610.2 402.7L613.2 401.3L607.3 399.5Z"/>
<path fill="#46337f" d="M533.3 392.3L539.2 393.6L542.3 392.5L536.4 391.2Z"/>
<path fill="#463480" d="M430.8 391.9L436.6 392.1L439.9 390.9L434.1 390.6Z"/>
<path fill="#472c7a" d="M590.1 398.9L596 400.6L599 399.3L593.1 397.6Z"/>
<path fill="#472e7c" d="M385 398.1L390.8 397.8L394.2 396.2L388.4 396.4Z"/>
<path fill="#46327e" d="M547.5 393.7L553.4 395.1L556.5 393.9L550.6 392.5Z"/>
<path fill="#472e7c" d="M575.9 397L581.8 398.6L584.9 397.4L578.9 395.7Z"/>
<path fill="#472f7d" d="M561.7 395.2L567.6 396.8L570.7 395.6L564.8 394Z"/>
<path fill="#453781" d="M467.8 390L473.7 390.6L476.9 389.5L471.1 388.8Z"/>
<path fill="#46327e" d="M407.9 394.5L413.7 394.5L417 393.1L411.2 393Z"/>
<path fill="#482677" d="M353.4 404.6L359.1 404.1L362.6 402.3L356.9 402.7Z"/>
<path fill="#481b6d" d="M680.8 413.7L686.8 415.8L689.7 413.9L683.7 411.8Z"/>
<path fill="#453781" d="M482 390.1L487.9 390.8L491.1 389.7L485.3 388.9Z"/>
<path fill="#481d6f" d="M666.6 411.5L672.6 413.5L675.5 411.7L669.6 409.7Z"/>
<path fill="#453781" d="M444.9 391.1L450.8 391.4L454 390.2L448.2 389.8Z"/>
<path fill="#482071" d="M652.4 409.2L658.4 411.3L661.4 409.6L655.4 407.5Z"/>
<path fill="#472d7b" d="M376.3 399.9L382 399.6L385.4 398L379.7 398.2Z"/>
<path fill="#453781" d="M496.2 390.5L502.1 391.4L505.3 390.3L499.4 389.4Z"/>
<path fill="#482475" d="M638.2 407L644.2 409L647.2 407.4L641.2 405.4Z"/>
<path fill="#463480" d="M422 393.1L427.8 393.2L431.2 391.9L425.4 391.7Z"/>
<path fill="#46327e" d="M399.1 396.1L404.9 395.9L408.3 394.5L402.5 394.5Z"/>
<path fill="#482576" d="M344.7 406.9L350.4 406.4L353.8 404.5L348.1 404.9Z"/>
<path fill="#482677" d="M624 404.8L630 406.7L633 405.2L627.1 403.3Z"/>
<path fill="#453781" d="M510.4 391.2L516.3 392.2L519.5 391.2L513.6 390.1Z"/>
<path fill="#482979" d="M609.9 402.6L615.8 404.4L618.8 403L612.9 401.2Z"/>
<path fill="#453882" d="M459.1 390.6L465 391.1L468.2 390L462.4 389.4Z"/>
<path fill="#453581" d="M524.6 392.2L530.5 393.4L533.7 392.3L527.8 391.1Z"/>
<path fill="#472c7a" d="M595.7 400.5L601.6 402.3L604.6 400.9L598.7 399.1Z"/>
<path fill="#472e7c" d="M581.5 398.5L587.4 400.2L590.5 398.9L584.5 397.2Z"/>
<path fill="#463480" d="M538.8 393.4L544.7 394.8L547.9 393.7L542 392.3Z"/>
<path fill="#46307e" d="M567.2 396.6L573.2 398.2L576.3 397L570.3 395.4Z"/>
<path fill="#46327e" d="M553 394.9L559 396.4L562.1 395.3L556.2 393.8Z"/>
<path fill="#472c7a" d="M367.5 401.9L373.2 401.5L376.7 399.9L370.9 400.2Z"/>
<path fill="#482475" d="M335.9 409.3L341.6 408.7L345.1 406.8L339.4 407.3Z"/>
<path fill="#453781" d="M436.2 392.1L442 392.3L445.3 391.1L439.5 390.8Z"/>
<path fill="#453882" d="M473.3 390.5L479.2 391.1L482.4 390.1L476.6 389.4Z"/>
<path fill="#46307e" d="M390.4 397.7L396.1 397.5L399.5 396L393.8 396.2Z"/>
<path fill="#481d6f" d="M672.3 413.4L678.3 415.5L681.2 413.7L675.2 411.6Z"/>
<path fill="#463480" d="M413.3 394.4L419.1 394.4L422.4 393.1L416.6 393Z"/>
<path fill="#482071" d="M658.1 411.1L664.1 413.2L667 411.5L661 409.4Z"/>
<path fill="#453882" d="M487.5 390.7L493.4 391.5L496.6 390.5L490.7 389.6Z"/>
<path fill="#482374" d="M643.9 408.8L649.8 410.9L652.8 409.2L646.9 407.2Z"/>
<path fill="#472a7a" d="M358.8 404.1L364.5 403.6L367.9 401.9L362.2 402.3Z"/>
<path fill="#482173" d="M327.2 411.8L332.8 411.2L336.3 409.2L330.7 409.7Z"/>
<path fill="#482677" d="M629.7 406.5L635.6 408.5L638.6 407L632.7 405Z"/>
<path fill="#453882" d="M450.4 391.4L456.2 391.7L459.5 390.6L453.7 390.2Z"/>
<path fill="#453882" d="M501.7 391.3L507.6 392.2L510.8 391.2L504.9 390.2Z"/>
<path fill="#482979" d="M615.5 404.3L621.4 406.2L624.4 404.8L618.5 402.9Z"/>
<path fill="#453781" d="M515.9 392.1L521.8 393.2L525 392.2L519.1 391Z"/>
<path fill="#472c7a" d="M601.3 402.1L607.2 403.9L610.3 402.6L604.3 400.8Z"/>
<path fill="#46307e" d="M381.6 399.5L387.4 399.2L390.8 397.7L385 397.9Z"/>
<path fill="#453781" d="M427.5 393.1L433.3 393.2L436.6 392L430.8 391.8Z"/>
<path fill="#472e7c" d="M587 400L593 401.8L596.1 400.5L590.1 398.8Z"/>
<path fill="#453781" d="M530.2 393.3L536.1 394.5L539.2 393.5L533.3 392.2Z"/>
<path fill="#46307e" d="M572.8 398.1L578.8 399.7L581.9 398.5L575.9 396.9Z"/>
<path fill="#463480" d="M544.4 394.6L550.3 396L553.4 394.9L547.5 393.5Z"/>
<path fill="#463480" d="M404.5 395.9L410.3 395.7L413.7 394.4L407.9 394.4Z"/>
<path fill="#46337f" d="M558.6 396.3L564.5 397.8L567.6 396.6L561.7 395.1Z"/>
<path fill="#443983" d="M464.6 391L470.4 391.5L473.7 390.5L467.9 389.9Z"/>
<path fill="#482979" d="M350 406.3L355.7 405.7L359.1 404L353.5 404.4Z"/>
<path fill="#481d6f" d="M677.9 415.3L683.9 417.5L686.9 415.6L680.9 413.5Z"/>
<path fill="#482071" d="M663.7 413L669.7 415.1L672.7 413.4L666.7 411.3Z"/>
<path fill="#443983" d="M478.8 391L484.7 391.7L487.9 390.7L482 390Z"/>
<path fill="#443983" d="M441.6 392.2L447.5 392.5L450.8 391.3L445 391Z"/>
<path fill="#482374" d="M649.5 410.7L655.5 412.8L658.5 411.1L652.5 409.1Z"/>
<path fill="#472f7d" d="M372.9 401.5L378.6 401L382 399.5L376.3 399.8Z"/>
<path fill="#482576" d="M635.3 408.4L641.3 410.4L644.3 408.8L638.3 406.8Z"/>
<path fill="#482878" d="M341.2 408.7L346.9 408L350.4 406.2L344.7 406.7Z"/>
<path fill="#443983" d="M493 391.4L498.9 392.3L502.1 391.3L496.2 390.4Z"/>
<path fill="#453781" d="M418.7 394.3L424.5 394.3L427.9 393.1L422.1 393Z"/>
<path fill="#463480" d="M395.8 397.4L401.5 397.2L404.9 395.8L399.2 396Z"/>
<path fill="#482979" d="M621.1 406L627.1 408L630.1 406.6L624.1 404.6Z"/>
<path fill="#443983" d="M507.3 392.1L513.2 393.1L516.3 392.1L510.5 391.1Z"/>
<path fill="#472c7a" d="M606.9 403.8L612.8 405.7L615.9 404.3L609.9 402.4Z"/>
<path fill="#443a83" d="M455.9 391.6L461.7 392.1L465 391L459.1 390.5Z"/>
<path fill="#472e7c" d="M592.7 401.6L598.6 403.4L601.7 402.1L595.7 400.3Z"/>
<path fill="#453882" d="M521.5 393.1L527.4 394.3L530.6 393.3L524.7 392.1Z"/>
<path fill="#46307e" d="M578.4 399.5L584.4 401.2L587.4 400L581.5 398.4Z"/>
<path fill="#453781" d="M535.7 394.4L541.6 395.7L544.8 394.7L538.9 393.3Z"/>
<path fill="#472e7c" d="M364.1 403.5L369.8 403L373.3 401.4L367.5 401.8Z"/>
<path fill="#46337f" d="M564.2 397.6L570.1 399.2L573.2 398.1L567.3 396.5Z"/>
<path fill="#453581" d="M550 395.9L555.9 397.3L559 396.3L553.1 394.8Z"/>
<path fill="#482576" d="M332.4 411.1L338.1 410.4L341.6 408.6L335.9 409.1Z"/>
<path fill="#443983" d="M432.9 393.2L438.7 393.3L442 392.2L436.2 391.9Z"/>
<path fill="#481f70" d="M669.4 415L675.4 417.1L678.3 415.3L672.3 413.2Z"/>
<path fill="#443b84" d="M470.1 391.5L475.9 392L479.2 391L473.3 390.4Z"/>
<path fill="#46337f" d="M387 399.1L392.8 398.8L396.2 397.4L390.4 397.6Z"/>
<path fill="#453781" d="M409.9 395.7L415.7 395.6L419.1 394.3L413.3 394.3Z"/>
<path fill="#482374" d="M655.2 412.6L661.2 414.7L664.1 413L658.1 411Z"/>
<path fill="#482576" d="M641 410.2L646.9 412.3L649.9 410.7L643.9 408.7Z"/>
<path fill="#482475" d="M323.7 413.7L329.3 412.9L332.8 411L327.2 411.6Z"/>
<path fill="#443b84" d="M484.3 391.6L490.2 392.4L493.4 391.4L487.5 390.6Z"/>
<path fill="#472d7b" d="M355.3 405.7L361 405.1L364.5 403.4L358.8 403.9Z"/>
<path fill="#482979" d="M626.7 407.8L632.7 409.8L635.7 408.4L629.7 406.4Z"/>
<path fill="#443b84" d="M447.1 392.4L453 392.7L456.3 391.6L450.4 391.2Z"/>
<path fill="#472c7a" d="M612.5 405.5L618.5 407.4L621.5 406.1L615.5 404.2Z"/>
<path fill="#443b84" d="M498.5 392.1L504.4 393.1L507.7 392.1L501.8 391.1Z"/>
<path fill="#46327e" d="M378.2 401L384 400.5L387.4 399.1L381.6 399.4Z"/>
<path fill="#472e7c" d="M598.3 403.2L604.2 405.1L607.3 403.8L601.3 402Z"/>
<path fill="#443a83" d="M512.8 393L518.7 394.1L521.9 393.1L516 392Z"/>
<path fill="#443983" d="M424.1 394.3L430 394.3L433.3 393.1L427.5 393Z"/>
<path fill="#46307e" d="M584 401.1L590 402.8L593.1 401.6L587.1 399.9Z"/>
<path fill="#453781" d="M401.2 397.1L407 396.9L410.3 395.6L404.6 395.7Z"/>
<path fill="#443983" d="M527 394.1L533 395.4L536.1 394.4L530.2 393.1Z"/>
<path fill="#46337f" d="M569.8 399L575.7 400.7L578.8 399.6L572.9 397.9Z"/>
<path fill="#472a7a" d="M346.5 408L352.2 407.3L355.7 405.6L350 406.2Z"/>
<path fill="#453882" d="M541.3 395.5L547.2 396.9L550.4 395.9L544.4 394.5Z"/>
<path fill="#453581" d="M555.5 397.2L561.5 398.7L564.6 397.6L558.7 396.1Z"/>
<path fill="#443b84" d="M461.3 392L467.2 392.4L470.5 391.4L464.6 390.9Z"/>
<path fill="#481f70" d="M675.1 417L681.1 419.1L684 417.3L678 415.2Z"/>
<path fill="#482173" d="M660.8 414.5L666.8 416.7L669.8 415L663.8 412.9Z"/>
<path fill="#482576" d="M646.6 412.1L652.6 414.2L655.6 412.6L649.6 410.5Z"/>
<path fill="#433d84" d="M475.6 391.9L481.5 392.6L484.7 391.6L478.8 390.9Z"/>
<path fill="#46327e" d="M369.5 403L375.2 402.4L378.6 400.9L372.9 401.3Z"/>
<path fill="#443b84" d="M438.4 393.2L444.2 393.4L447.5 392.3L441.7 392.1Z"/>
<path fill="#482979" d="M337.8 410.4L343.4 409.6L346.9 407.9L341.2 408.5Z"/>
<path fill="#482878" d="M632.4 409.7L638.4 411.7L641.4 410.2L635.4 408.2Z"/>
<path fill="#453781" d="M392.4 398.7L398.2 398.4L401.6 397.1L395.8 397.3Z"/>
<path fill="#443983" d="M415.4 395.5L421.2 395.4L424.5 394.2L418.7 394.2Z"/>
<path fill="#433d84" d="M489.8 392.3L495.7 393.1L498.9 392.1L493.1 391.3Z"/>
<path fill="#472c7a" d="M618.1 407.3L624.1 409.2L627.1 407.9L621.2 405.9Z"/>
<path fill="#472e7c" d="M603.9 404.9L609.9 406.8L612.9 405.5L606.9 403.6Z"/>
<path fill="#433d84" d="M504.1 392.9L510 393.9L513.2 393L507.3 392Z"/>
<path fill="#433d84" d="M452.6 392.6L458.4 393L461.7 391.9L455.9 391.5Z"/>
<path fill="#46307e" d="M589.6 402.7L595.6 404.4L598.7 403.3L592.7 401.5Z"/>
<path fill="#46307e" d="M360.7 405L366.4 404.4L369.8 402.9L364.1 403.4Z"/>
<path fill="#482878" d="M329 412.9L334.6 412.1L338.1 410.3L332.5 411Z"/>
<path fill="#443b84" d="M518.3 393.9L524.3 395.1L527.4 394.1L521.5 393Z"/>
<path fill="#463480" d="M575.4 400.5L581.3 402.2L584.4 401.1L578.5 399.4Z"/>
<path fill="#453581" d="M561.1 398.6L567.1 400.1L570.2 399.1L564.2 397.5Z"/>
<path fill="#443a83" d="M532.6 395.2L538.5 396.5L541.7 395.6L535.8 394.2Z"/>
<path fill="#453882" d="M546.9 396.8L552.8 398.2L555.9 397.2L550 395.8Z"/>
<path fill="#482173" d="M666.5 416.5L672.5 418.7L675.5 417L669.5 414.8Z"/>
<path fill="#443b84" d="M429.6 394.2L435.4 394.3L438.7 393.2L432.9 393.1Z"/>
<path fill="#453581" d="M383.6 400.5L389.4 400L392.8 398.7L387 399Z"/>
<path fill="#433e85" d="M466.8 392.3L472.7 392.9L476 391.9L470.1 391.3Z"/>
<path fill="#482576" d="M652.3 414L658.3 416.2L661.2 414.6L655.2 412.5Z"/>
<path fill="#443983" d="M406.6 396.9L412.4 396.6L415.8 395.4L410 395.6Z"/>
<path fill="#482576" d="M320.2 415.5L325.8 414.6L329.3 412.8L323.7 413.5Z"/>
<path fill="#482878" d="M638 411.5L644 413.6L647 412.1L641 410.1Z"/>
<path fill="#472e7c" d="M351.9 407.3L357.6 406.5L361.1 405L355.3 405.6Z"/>
<path fill="#433e85" d="M481.1 392.5L487 393.2L490.2 392.3L484.3 391.5Z"/>
<path fill="#472c7a" d="M623.8 409.1L629.8 411.1L632.8 409.7L626.8 407.7Z"/>
<path fill="#433e85" d="M443.8 393.3L449.7 393.6L453 392.6L447.1 392.3Z"/>
<path fill="#472e7c" d="M609.5 406.6L615.5 408.6L618.5 407.3L612.6 405.4Z"/>
<path fill="#433e85" d="M495.4 393L501.3 393.8L504.5 392.9L498.6 392Z"/>
<path fill="#463480" d="M374.8 402.4L380.6 401.8L384 400.4L378.2 400.9Z"/>
<path fill="#46307e" d="M595.3 404.3L601.2 406.1L604.3 404.9L598.3 403.1Z"/>
<path fill="#472d7b" d="M343.1 409.6L348.8 408.8L352.3 407.2L346.6 407.9Z"/>
<path fill="#433d84" d="M420.8 395.3L426.6 395.3L430 394.2L424.2 394.2Z"/>
<path fill="#433d84" d="M509.6 393.8L515.6 394.8L518.7 393.9L512.8 392.9Z"/>
<path fill="#463480" d="M581 402.1L587 403.8L590 402.7L584.1 400.9Z"/>
<path fill="#443983" d="M397.8 398.4L403.6 398L407 396.8L401.2 397Z"/>
<path fill="#482173" d="M672.2 418.5L678.2 420.7L681.1 419L675.1 416.8Z"/>
<path fill="#453781" d="M566.7 400L572.7 401.6L575.8 400.5L569.8 398.9Z"/>
<path fill="#443b84" d="M523.9 394.9L529.8 396.1L533 395.2L527.1 394Z"/>
<path fill="#443983" d="M552.5 398.1L558.4 399.6L561.5 398.6L555.6 397.1Z"/>
<path fill="#443a83" d="M538.2 396.4L544.1 397.7L547.3 396.8L541.3 395.4Z"/>
<path fill="#423f85" d="M458.1 392.9L463.9 393.3L467.2 392.3L461.4 391.9Z"/>
<path fill="#482475" d="M657.9 416L664 418.2L666.9 416.5L660.9 414.4Z"/>
<path fill="#482878" d="M643.7 413.5L649.7 415.6L652.7 414.1L646.7 412Z"/>
<path fill="#46337f" d="M366 404.4L371.8 403.7L375.2 402.3L369.5 402.8Z"/>
<path fill="#472c7a" d="M334.3 412L340 411.1L343.5 409.5L337.8 410.2Z"/>
<path fill="#423f85" d="M472.3 392.8L478.2 393.4L481.5 392.5L475.6 391.8Z"/>
<path fill="#433e85" d="M435 394.2L440.9 394.3L444.2 393.3L438.4 393.1Z"/>
<path fill="#472a7a" d="M629.4 410.9L635.4 413L638.4 411.6L632.4 409.5Z"/>
<path fill="#443983" d="M389 400L394.8 399.6L398.2 398.3L392.4 398.6Z"/>
<path fill="#433d84" d="M412 396.6L417.8 396.4L421.2 395.3L415.4 395.4Z"/>
<path fill="#472e7c" d="M615.2 408.4L621.2 410.4L624.2 409.1L618.2 407.1Z"/>
<path fill="#423f85" d="M486.6 393.1L492.5 393.8L495.8 393L489.9 392.2Z"/>
<path fill="#46307e" d="M600.9 406L606.9 407.9L609.9 406.7L604 404.8Z"/>
<path fill="#482979" d="M325.5 414.6L331.2 413.6L334.7 411.9L329 412.7Z"/>
<path fill="#46327e" d="M357.2 406.5L363 405.7L366.4 404.3L360.7 404.9Z"/>
<path fill="#423f85" d="M500.9 393.7L506.8 394.7L510 393.8L504.1 392.8Z"/>
<path fill="#463480" d="M586.6 403.6L592.6 405.4L595.7 404.3L589.7 402.5Z"/>
<path fill="#424086" d="M449.3 393.5L455.2 393.8L458.5 392.8L452.6 392.5Z"/>
<path fill="#453781" d="M572.3 401.4L578.3 403.1L581.4 402.1L575.4 400.4Z"/>
<path fill="#433e85" d="M515.2 394.7L521.1 395.8L524.3 395L518.4 393.8Z"/>
<path fill="#482475" d="M663.6 418L669.6 420.2L672.6 418.5L666.6 416.4Z"/>
<path fill="#443983" d="M558.1 399.4L564 401L567.1 400L561.2 398.4Z"/>
<path fill="#433d84" d="M529.5 396L535.4 397.3L538.6 396.4L532.7 395.1Z"/>
<path fill="#443b84" d="M543.8 397.6L549.7 399L552.9 398.1L546.9 396.7Z"/>
<path fill="#453882" d="M380.2 401.8L386 401.2L389.4 399.9L383.6 400.4Z"/>
<path fill="#482677" d="M649.4 415.4L655.4 417.6L658.3 416L652.3 413.9Z"/>
<path fill="#423f85" d="M426.3 395.2L432.1 395.2L435.4 394.2L429.6 394.1Z"/>
<path fill="#482677" d="M316.7 417.2L322.3 416.2L325.9 414.4L320.2 415.3Z"/>
<path fill="#433d84" d="M403.2 398L409 397.7L412.4 396.5L406.6 396.8Z"/>
<path fill="#424086" d="M463.6 393.2L469.5 393.6L472.7 392.8L466.9 392.2Z"/>
<path fill="#46307e" d="M348.4 408.8L354.1 407.9L357.6 406.4L351.9 407.1Z"/>
<path fill="#472a7a" d="M635.1 412.8L641.1 414.9L644.1 413.5L638.1 411.4Z"/>
<path fill="#472e7c" d="M620.8 410.2L626.8 412.3L629.8 410.9L623.8 408.9Z"/>
<path fill="#424186" d="M477.9 393.3L483.8 393.9L487 393.1L481.1 392.4Z"/>
<path fill="#46307e" d="M606.5 407.7L612.5 409.6L615.6 408.4L609.6 406.5Z"/>
<path fill="#424086" d="M440.5 394.3L446.4 394.4L449.7 393.5L443.8 393.2Z"/>
<path fill="#453781" d="M371.4 403.7L377.2 403L380.6 401.7L374.8 402.3Z"/>
<path fill="#472f7d" d="M339.6 411.1L345.3 410.2L348.8 408.7L343.1 409.5Z"/>
<path fill="#424186" d="M492.2 393.7L498.1 394.5L501.3 393.7L495.4 392.9Z"/>
<path fill="#463480" d="M592.3 405.3L598.2 407.1L601.3 406L595.3 404.2Z"/>
<path fill="#482374" d="M669.3 420L675.3 422.2L678.3 420.6L672.3 418.4Z"/>
<path fill="#423f85" d="M417.5 396.4L423.3 396.2L426.7 395.2L420.8 395.2Z"/>
<path fill="#443b84" d="M394.4 399.5L400.2 399.1L403.6 397.9L397.8 398.3Z"/>
<path fill="#453781" d="M578 403L583.9 404.7L587 403.7L581.1 401.9Z"/>
<path fill="#424086" d="M506.5 394.5L512.4 395.5L515.6 394.7L509.7 393.7Z"/>
<path fill="#443983" d="M563.7 400.8L569.6 402.4L572.7 401.5L566.8 399.8Z"/>
<path fill="#482677" d="M655 417.4L661.1 419.6L664 418L658 415.9Z"/>
<path fill="#423f85" d="M520.8 395.7L526.7 396.8L529.9 396L523.9 394.8Z"/>
<path fill="#443b84" d="M549.4 398.9L555.3 400.3L558.5 399.4L552.5 397.9Z"/>
<path fill="#433e85" d="M535.1 397.1L541 398.5L544.2 397.6L538.2 396.3Z"/>
<path fill="#424186" d="M454.8 393.7L460.7 394L464 393.2L458.1 392.8Z"/>
<path fill="#472a7a" d="M640.8 414.7L646.8 416.9L649.8 415.4L643.8 413.3Z"/>
<path fill="#453581" d="M362.6 405.7L368.3 404.9L371.8 403.6L366 404.3Z"/>
<path fill="#472d7b" d="M330.8 413.6L336.5 412.6L340 411L334.3 411.9Z"/>
<path fill="#472d7b" d="M626.5 412.1L632.5 414.2L635.5 412.8L629.5 410.8Z"/>
<path fill="#424186" d="M431.7 395.1L437.6 395.2L440.9 394.2L435.1 394.1Z"/>
<path fill="#414287" d="M469.1 393.6L475 394.1L478.3 393.3L472.4 392.7Z"/>
<path fill="#443b84" d="M385.6 401.2L391.4 400.6L394.8 399.5L389 399.9Z"/>
<path fill="#423f85" d="M408.6 397.6L414.5 397.4L417.9 396.3L412 396.5Z"/>
<path fill="#46307e" d="M612.2 409.5L618.2 411.5L621.2 410.3L615.2 408.3Z"/>
<path fill="#472c7a" d="M322 416.1L327.6 415L331.2 413.5L325.5 414.4Z"/>
<path fill="#414287" d="M483.4 393.8L489.3 394.5L492.6 393.7L486.6 393Z"/>
<path fill="#463480" d="M597.9 407L603.9 408.9L606.9 407.7L601 405.8Z"/>
<path fill="#463480" d="M353.8 407.9L359.5 407L363 405.6L357.2 406.4Z"/>
<path fill="#453781" d="M583.6 404.5L589.6 406.3L592.7 405.3L586.7 403.5Z"/>
<path fill="#414287" d="M497.7 394.4L503.6 395.3L506.9 394.5L500.9 393.6Z"/>
<path fill="#414287" d="M446 394.3L451.9 394.5L455.2 393.7L449.3 393.4Z"/>
<path fill="#482677" d="M660.7 419.4L666.8 421.6L669.7 420L663.7 417.8Z"/>
<path fill="#443983" d="M569.3 402.3L575.3 403.9L578.4 403L572.4 401.3Z"/>
<path fill="#424186" d="M512 395.4L518 396.5L521.2 395.7L515.2 394.6Z"/>
<path fill="#443b84" d="M555 400.2L560.9 401.7L564.1 400.8L558.1 399.3Z"/>
<path fill="#482979" d="M313.1 418.8L318.8 417.6L322.3 416L316.7 417.1Z"/>
<path fill="#443a83" d="M376.8 403L382.6 402.3L386 401.1L380.2 401.7Z"/>
<path fill="#424086" d="M526.3 396.7L532.3 398L535.5 397.2L529.5 395.9Z"/>
<path fill="#482979" d="M646.4 416.7L652.5 418.9L655.4 417.4L649.4 415.3Z"/>
<path fill="#433e85" d="M540.7 398.3L546.6 399.7L549.8 398.9L543.8 397.5Z"/>
<path fill="#424186" d="M422.9 396.2L428.8 396.1L432.1 395.1L426.3 395.1Z"/>
<path fill="#46337f" d="M344.9 410.2L350.7 409.2L354.1 407.8L348.4 408.7Z"/>
<path fill="#423f85" d="M399.8 399.1L405.7 398.6L409 397.6L403.2 397.9Z"/>
<path fill="#472d7b" d="M632.1 414L638.2 416.1L641.2 414.8L635.2 412.7Z"/>
<path fill="#414487" d="M460.3 394L466.2 394.3L469.5 393.5L463.6 393.1Z"/>
<path fill="#46307e" d="M617.9 411.3L623.9 413.4L626.9 412.1L620.9 410.1Z"/>
<path fill="#414487" d="M474.6 394L480.5 394.6L483.8 393.8L477.9 393.2Z"/>
<path fill="#443983" d="M368 404.9L373.7 404.1L377.2 402.9L371.4 403.6Z"/>
<path fill="#463480" d="M603.5 408.7L609.5 410.7L612.6 409.5L606.6 407.6Z"/>
<path fill="#414487" d="M437.2 395.1L443.1 395.2L446.4 394.3L440.5 394.2Z"/>
<path fill="#46327e" d="M336.1 412.6L341.8 411.5L345.3 410.1L339.6 411Z"/>
<path fill="#482576" d="M666.4 421.5L672.5 423.7L675.4 422.1L669.4 419.9Z"/>
<path fill="#453781" d="M589.2 406.2L595.2 408L598.3 407L592.3 405.1Z"/>
<path fill="#414487" d="M488.9 394.4L494.9 395.2L498.1 394.4L492.2 393.6Z"/>
<path fill="#433e85" d="M391 400.6L396.8 400.1L400.2 399L394.4 399.4Z"/>
<path fill="#424186" d="M414.1 397.3L419.9 397.1L423.3 396.1L417.5 396.3Z"/>
<path fill="#443a83" d="M574.9 403.8L580.9 405.5L584 404.6L578 402.8Z"/>
<path fill="#482979" d="M652.1 418.7L658.2 420.9L661.1 419.4L655.1 417.2Z"/>
<path fill="#414487" d="M503.3 395.2L509.2 396.2L512.4 395.4L506.5 394.4Z"/>
<path fill="#433d84" d="M560.6 401.6L566.6 403.2L569.7 402.3L563.7 400.7Z"/>
<path fill="#414287" d="M517.6 396.4L523.6 397.5L526.7 396.7L520.8 395.6Z"/>
<path fill="#423f85" d="M546.3 399.6L552.2 401L555.4 400.2L549.4 398.7Z"/>
<path fill="#404588" d="M451.5 394.5L457.4 394.7L460.7 393.9L454.8 393.6Z"/>
<path fill="#424086" d="M531.9 397.8L537.9 399.1L541.1 398.3L535.1 397Z"/>
<path fill="#472f7d" d="M327.3 415L333 413.9L336.5 412.5L330.8 413.5Z"/>
<path fill="#472d7b" d="M637.8 415.9L643.8 418.1L646.8 416.7L640.8 414.6Z"/>
<path fill="#453882" d="M359.1 407L364.9 406.1L368.3 404.8L362.6 405.6Z"/>
<path fill="#46307e" d="M623.5 413.2L629.5 415.3L632.5 414L626.5 412Z"/>
<path fill="#414487" d="M428.4 396L434.3 395.9L437.6 395.1L431.7 395.1Z"/>
<path fill="#433e85" d="M382.2 402.3L388 401.6L391.4 400.5L385.6 401.1Z"/>
<path fill="#404688" d="M465.8 394.3L471.7 394.7L475 394L469.1 393.5Z"/>
<path fill="#46337f" d="M609.2 410.5L615.2 412.5L618.2 411.4L612.3 409.4Z"/>
<path fill="#424186" d="M405.3 398.6L411.1 398.2L414.5 397.3L408.7 397.6Z"/>
<path fill="#472e7c" d="M318.4 417.6L324.1 416.3L327.6 414.9L321.9 416.1Z"/>
<path fill="#453781" d="M350.3 409.2L356 408.2L359.5 406.9L353.8 407.8Z"/>
<path fill="#453781" d="M594.9 407.9L600.9 409.8L603.9 408.7L598 406.8Z"/>
<path fill="#404688" d="M480.2 394.5L486.1 395.1L489.3 394.4L483.4 393.7Z"/>
<path fill="#482979" d="M657.8 420.7L663.9 423L666.8 421.5L660.8 419.3Z"/>
<path fill="#443a83" d="M580.6 405.4L586.5 407.2L589.6 406.2L583.6 404.4Z"/>
<path fill="#404688" d="M442.7 395.1L448.6 395.2L451.9 394.5L446 394.3Z"/>
<path fill="#404688" d="M494.5 395.1L500.4 395.9L503.7 395.2L497.7 394.3Z"/>
<path fill="#472c7a" d="M309.6 420.3L315.3 418.9L318.8 417.5L313.1 418.7Z"/>
<path fill="#433d84" d="M566.2 403L572.2 404.7L575.3 403.8L569.3 402.2Z"/>
<path fill="#472c7a" d="M643.5 417.9L649.5 420.1L652.5 418.7L646.5 416.6Z"/>
<path fill="#433d84" d="M373.3 404.1L379.1 403.3L382.6 402.2L376.8 402.9Z"/>
<path fill="#404588" d="M508.8 396L514.8 397.1L518 396.4L512.1 395.3Z"/>
<path fill="#423f85" d="M551.9 400.9L557.9 402.4L561 401.6L555 400.1Z"/>
<path fill="#414487" d="M523.2 397.4L529.2 398.6L532.3 397.8L526.4 396.6Z"/>
<path fill="#424186" d="M537.5 399L543.5 400.4L546.7 399.6L540.7 398.2Z"/>
<path fill="#453581" d="M341.4 411.5L347.2 410.3L350.7 409.1L344.9 410.1Z"/>
<path fill="#404588" d="M419.6 397L425.4 396.8L428.8 396L422.9 396.1Z"/>
<path fill="#424186" d="M396.4 400.1L402.3 399.5L405.7 398.6L399.8 399Z"/>
<path fill="#472f7d" d="M629.2 415.1L635.2 417.3L638.2 416L632.2 413.9Z"/>
<path fill="#3f4788" d="M457 394.7L462.9 395L466.2 394.3L460.3 393.9Z"/>
<path fill="#46337f" d="M614.9 412.3L620.9 414.4L623.9 413.2L617.9 411.2Z"/>
<path fill="#443b84" d="M364.5 406.1L370.3 405.2L373.7 404.1L367.9 404.9Z"/>
<path fill="#463480" d="M332.6 413.9L338.3 412.6L341.8 411.4L336.1 412.5Z"/>
<path fill="#453781" d="M600.5 409.6L606.5 411.6L609.6 410.5L603.6 408.6Z"/>
<path fill="#3f4788" d="M471.4 394.6L477.3 395.2L480.6 394.5L474.6 393.9Z"/>
<path fill="#482878" d="M663.5 422.8L669.6 425.1L672.5 423.6L666.5 421.3Z"/>
<path fill="#404688" d="M433.9 395.9L439.8 395.9L443.1 395.1L437.2 395Z"/>
<path fill="#443a83" d="M586.2 407L592.2 408.9L595.3 407.9L589.3 406.1Z"/>
<path fill="#424186" d="M387.6 401.6L393.4 401L396.8 400L391 400.5Z"/>
<path fill="#404588" d="M410.7 398.2L416.6 397.9L420 397L414.1 397.2Z"/>
<path fill="#3f4788" d="M485.7 395L491.6 395.7L494.9 395.1L489 394.3Z"/>
<path fill="#472c7a" d="M649.2 420L655.2 422.2L658.2 420.8L652.2 418.6Z"/>
<path fill="#433d84" d="M571.9 404.6L577.9 406.3L581 405.4L575 403.7Z"/>
<path fill="#3f4788" d="M500.1 395.8L506 396.7L509.2 396.1L503.3 395.1Z"/>
<path fill="#46327e" d="M323.7 416.4L329.4 415L333 413.8L327.3 415Z"/>
<path fill="#423f85" d="M557.5 402.3L563.5 403.9L566.6 403.1L560.6 401.5Z"/>
<path fill="#472f7d" d="M634.9 417.1L640.9 419.3L643.9 418L637.9 415.8Z"/>
<path fill="#443b84" d="M355.6 408.2L361.4 407.1L364.9 406L359.1 406.9Z"/>
<path fill="#404688" d="M514.4 397L520.4 398.1L523.6 397.4L517.6 396.3Z"/>
<path fill="#414287" d="M543.1 400.2L549.1 401.7L552.3 400.9L546.3 399.5Z"/>
<path fill="#3f4889" d="M448.2 395.2L454.1 395.4L457.4 394.6L451.5 394.4Z"/>
<path fill="#414487" d="M528.8 398.4L534.8 399.7L537.9 399L532 397.7Z"/>
<path fill="#46337f" d="M620.5 414.2L626.6 416.3L629.6 415.2L623.6 413.1Z"/>
<path fill="#424086" d="M378.7 403.3L384.6 402.5L388 401.6L382.2 402.2Z"/>
<path fill="#3f4788" d="M425 396.8L430.9 396.6L434.3 395.9L428.4 395.9Z"/>
<path fill="#46307e" d="M314.9 419L320.6 417.5L324.1 416.3L318.4 417.6Z"/>
<path fill="#3f4889" d="M462.5 394.9L468.5 395.3L471.8 394.6L465.8 394.2Z"/>
<path fill="#453781" d="M606.2 411.4L612.2 413.4L615.3 412.4L609.3 410.4Z"/>
<path fill="#404588" d="M401.9 399.5L407.7 399L411.1 398.2L405.3 398.5Z"/>
<path fill="#443983" d="M346.8 410.4L352.5 409.2L356 408.1L350.3 409.1Z"/>
<path fill="#443a83" d="M591.9 408.7L597.9 410.6L600.9 409.7L594.9 407.8Z"/>
<path fill="#472c7a" d="M654.9 422L661 424.3L663.9 422.9L657.9 420.6Z"/>
<path fill="#3e4989" d="M476.9 395.1L482.8 395.7L486.1 395L480.2 394.4Z"/>
<path fill="#472e7c" d="M306 421.6L311.7 420.1L315.3 418.9L309.6 420.2Z"/>
<path fill="#433d84" d="M577.5 406.1L583.5 407.9L586.6 407.1L580.6 405.3Z"/>
<path fill="#3f4889" d="M439.4 395.8L445.3 395.9L448.6 395.2L442.7 395Z"/>
<path fill="#472f7d" d="M640.6 419.1L646.6 421.3L649.6 420L643.6 417.8Z"/>
<path fill="#3f4889" d="M491.3 395.6L497.2 396.4L500.5 395.8L494.5 395Z"/>
<path fill="#424086" d="M369.9 405.2L375.7 404.2L379.1 403.3L373.3 404.1Z"/>
<path fill="#424086" d="M563.1 403.7L569.1 405.4L572.3 404.6L566.3 402.9Z"/>
<path fill="#453882" d="M337.9 412.7L343.7 411.4L347.2 410.3L341.4 411.4Z"/>
<path fill="#3f4889" d="M505.6 396.6L511.6 397.6L514.8 397L508.9 396Z"/>
<path fill="#414287" d="M548.8 401.5L554.8 403L557.9 402.3L551.9 400.8Z"/>
<path fill="#3f4788" d="M416.2 397.8L422.1 397.5L425.4 396.8L419.6 397Z"/>
<path fill="#404688" d="M520 397.9L526 399.1L529.2 398.5L523.2 397.3Z"/>
<path fill="#404588" d="M534.4 399.6L540.4 400.9L543.5 400.3L537.6 398.9Z"/>
<path fill="#46337f" d="M626.2 416.2L632.3 418.3L635.3 417.1L629.3 415Z"/>
<path fill="#404588" d="M393 401L398.9 400.3L402.3 399.5L396.4 400Z"/>
<path fill="#3e4a89" d="M453.7 395.3L459.6 395.5L462.9 394.9L457 394.6Z"/>
<path fill="#453781" d="M611.9 413.3L617.9 415.4L620.9 414.3L614.9 412.2Z"/>
<path fill="#423f85" d="M361 407.1L366.8 406.1L370.3 405.1L364.5 406Z"/>
<path fill="#453781" d="M329.1 415.1L334.8 413.6L338.3 412.6L332.6 413.8Z"/>
<path fill="#472a7a" d="M660.6 424.1L666.7 426.5L669.6 425L663.6 422.7Z"/>
<path fill="#443983" d="M597.5 410.5L603.5 412.4L606.6 411.5L600.6 409.5Z"/>
<path fill="#3e4a89" d="M468.1 395.2L474 395.7L477.3 395.1L471.4 394.6Z"/>
<path fill="#3e4989" d="M430.5 396.6L436.4 396.5L439.8 395.8L433.9 395.8Z"/>
<path fill="#472e7c" d="M646.3 421.2L652.3 423.4L655.3 422.1L649.3 419.8Z"/>
<path fill="#433d84" d="M583.2 407.8L589.2 409.6L592.3 408.8L586.3 406.9Z"/>
<path fill="#414487" d="M384.2 402.6L390 401.8L393.4 400.9L387.6 401.6Z"/>
<path fill="#3f4788" d="M407.3 399L413.2 398.6L416.6 397.8L410.7 398.1Z"/>
<path fill="#3e4a89" d="M482.5 395.6L488.4 396.2L491.7 395.7L485.7 394.9Z"/>
<path fill="#424086" d="M568.8 405.2L574.8 407L577.9 406.2L571.9 404.4Z"/>
<path fill="#463480" d="M320.2 417.6L325.9 416L329.4 415L323.7 416.3Z"/>
<path fill="#46327e" d="M631.9 418.2L638 420.4L641 419.1L634.9 417Z"/>
<path fill="#433e85" d="M352.1 409.2L357.9 408L361.4 407.1L355.6 408.1Z"/>
<path fill="#3e4989" d="M496.8 396.3L502.8 397.2L506 396.6L500.1 395.7Z"/>
<path fill="#414287" d="M554.4 402.9L560.4 404.5L563.5 403.8L557.5 402.2Z"/>
<path fill="#404588" d="M540 400.8L546 402.2L549.2 401.6L543.2 400.1Z"/>
<path fill="#3e4a89" d="M444.9 395.8L450.8 395.9L454.1 395.3L448.2 395.1Z"/>
<path fill="#3e4989" d="M511.2 397.5L517.2 398.5L520.4 398L514.5 396.9Z"/>
<path fill="#3f4788" d="M525.6 399L531.6 400.2L534.8 399.6L528.8 398.3Z"/>
<path fill="#453581" d="M617.6 415.2L623.6 417.3L626.6 416.2L620.6 414.1Z"/>
<path fill="#414487" d="M375.3 404.3L381.1 403.3L384.6 402.5L378.7 403.3Z"/>
<path fill="#46337f" d="M311.3 420.1L317 418.5L320.6 417.5L314.9 418.9Z"/>
<path fill="#3e4a89" d="M421.7 397.5L427.6 397.3L430.9 396.6L425 396.7Z"/>
<path fill="#443983" d="M603.2 412.3L609.2 414.3L612.3 413.3L606.3 411.3Z"/>
<path fill="#3f4788" d="M398.5 400.3L404.3 399.7L407.7 399L401.9 399.5Z"/>
<path fill="#3e4c8a" d="M459.3 395.5L465.2 395.8L468.5 395.2L462.6 394.8Z"/>
<path fill="#433d84" d="M343.3 411.4L349 410.1L352.5 409.1L346.8 410.3Z"/>
<path fill="#472e7c" d="M652 423.3L658 425.6L661 424.2L655 421.9Z"/>
<path fill="#433d84" d="M588.8 409.5L594.8 411.4L597.9 410.5L591.9 408.6Z"/>
<path fill="#46307e" d="M302.4 422.8L308.1 421L311.7 420L306 421.6Z"/>
<path fill="#3d4d8a" d="M473.6 395.6L479.6 396.1L482.9 395.6L476.9 395Z"/>
<path fill="#46327e" d="M637.6 420.2L643.7 422.5L646.7 421.2L640.6 419Z"/>
<path fill="#424086" d="M574.4 406.8L580.5 408.6L583.6 407.8L577.6 406Z"/>
<path fill="#414287" d="M366.4 406.1L372.2 405L375.7 404.2L369.9 405.1Z"/>
<path fill="#3e4c8a" d="M436 396.5L441.9 396.4L445.3 395.8L439.4 395.8Z"/>
<path fill="#443a83" d="M334.4 413.7L340.1 412.2L343.7 411.3L337.9 412.7Z"/>
<path fill="#3e4c8a" d="M488 396.1L494 396.9L497.2 396.3L491.3 395.6Z"/>
<path fill="#414287" d="M560 404.3L566.1 406L569.2 405.3L563.2 403.6Z"/>
<path fill="#453581" d="M623.3 417.2L629.3 419.3L632.3 418.2L626.3 416Z"/>
<path fill="#404688" d="M545.7 402.1L551.7 403.6L554.8 402.9L548.8 401.4Z"/>
<path fill="#3e4c8a" d="M502.4 397.1L508.4 398L511.6 397.5L505.7 396.5Z"/>
<path fill="#3f4788" d="M389.6 401.8L395.4 401L398.9 400.3L393 400.9Z"/>
<path fill="#3e4a89" d="M412.8 398.6L418.7 398.1L422.1 397.5L416.2 397.8Z"/>
<path fill="#3f4889" d="M531.2 400.1L537.2 401.4L540.4 400.8L534.4 399.5Z"/>
<path fill="#3e4989" d="M516.8 398.4L522.8 399.6L526 399L520.1 397.8Z"/>
<path fill="#443983" d="M608.9 414.2L614.9 416.2L618 415.2L611.9 413.2Z"/>
<path fill="#3d4d8a" d="M450.4 395.9L456.3 396L459.7 395.5L453.7 395.2Z"/>
<path fill="#472d7b" d="M657.7 425.4L663.8 427.7L666.7 426.3L660.7 424Z"/>
<path fill="#443983" d="M325.5 416.1L331.2 414.5L334.8 413.6L329.1 415.1Z"/>
<path fill="#424186" d="M357.5 408.1L363.3 406.8L366.8 406L361 407.1Z"/>
<path fill="#433d84" d="M594.5 411.2L600.5 413.2L603.6 412.3L597.6 410.4Z"/>
<path fill="#3d4e8a" d="M464.8 395.7L470.8 396.1L474 395.6L468.1 395.2Z"/>
<path fill="#46307e" d="M643.3 422.3L649.4 424.6L652.4 423.3L646.3 421Z"/>
<path fill="#3d4d8a" d="M427.2 397.2L433.1 397L436.4 396.4L430.5 396.5Z"/>
<path fill="#3f4788" d="M380.7 403.4L386.5 402.5L390 401.7L384.2 402.5Z"/>
<path fill="#424086" d="M580.1 408.5L586.1 410.3L589.2 409.5L583.2 407.7Z"/>
<path fill="#3e4a89" d="M403.9 399.7L409.8 399.2L413.2 398.5L407.3 399Z"/>
<path fill="#453882" d="M316.6 418.6L322.3 416.8L325.9 416L320.2 417.6Z"/>
<path fill="#3d4e8a" d="M479.2 396.1L485.2 396.7L488.4 396.2L482.5 395.5Z"/>
<path fill="#414487" d="M565.7 405.8L571.7 407.6L574.8 406.9L568.8 405.1Z"/>
<path fill="#453581" d="M629 419.2L635 421.4L638 420.2L632 418Z"/>
<path fill="#424086" d="M348.6 410.1L354.4 408.8L357.9 408L352.1 409.2Z"/>
<path fill="#404688" d="M551.3 403.4L557.3 405L560.4 404.4L554.4 402.8Z"/>
<path fill="#3d4d8a" d="M493.6 396.8L499.6 397.6L502.8 397.1L496.9 396.3Z"/>
<path fill="#3d4e8a" d="M441.5 396.4L447.5 396.4L450.8 395.9L444.9 395.8Z"/>
<path fill="#3f4889" d="M536.9 401.3L542.9 402.7L546.1 402.1L540.1 400.7Z"/>
<path fill="#3e4c8a" d="M508 397.9L514 399L517.2 398.5L511.3 397.4Z"/>
<path fill="#443983" d="M614.6 416.1L620.6 418.2L623.7 417.2L617.6 415.1Z"/>
<path fill="#3e4a89" d="M522.5 399.4L528.5 400.7L531.6 400.1L525.7 398.9Z"/>
<path fill="#453581" d="M307.7 421.1L313.4 419.2L317 418.5L311.3 420.2Z"/>
<path fill="#404688" d="M371.8 405.1L377.6 404L381.1 403.3L375.3 404.2Z"/>
<path fill="#3d4d8a" d="M418.3 398.1L424.2 397.8L427.6 397.2L421.7 397.5Z"/>
<path fill="#433d84" d="M600.2 413.1L606.2 415.1L609.3 414.2L603.3 412.2Z"/>
<path fill="#423f85" d="M339.7 412.3L345.5 410.8L349 410L343.3 411.4Z"/>
<path fill="#3e4a89" d="M395 401.1L400.9 400.3L404.3 399.7L398.5 400.3Z"/>
<path fill="#46307e" d="M649.1 424.4L655.1 426.7L658.1 425.4L652.1 423.1Z"/>
<path fill="#3c4f8a" d="M455.9 396L461.9 396.2L465.2 395.7L459.3 395.4Z"/>
<path fill="#424086" d="M585.8 410.2L591.8 412.1L594.9 411.3L588.9 409.4Z"/>
<path fill="#46337f" d="M298.8 423.7L304.5 421.7L308.1 421L302.4 422.8Z"/>
<path fill="#463480" d="M634.7 421.2L640.7 423.5L643.7 422.3L637.7 420.1Z"/>
<path fill="#3c508b" d="M470.4 396.1L476.3 396.5L479.6 396.1L473.7 395.5Z"/>
<path fill="#414487" d="M571.4 407.4L577.4 409.2L580.5 408.5L574.5 406.7Z"/>
<path fill="#404688" d="M362.9 406.9L368.7 405.7L372.2 405L366.4 406.1Z"/>
<path fill="#3c4f8a" d="M432.7 397L438.6 396.9L441.9 396.3L436 396.4Z"/>
<path fill="#433e85" d="M330.8 414.6L336.6 412.9L340.1 412.2L334.4 413.7Z"/>
<path fill="#404688" d="M556.9 404.9L563 406.5L566.1 405.9L560.1 404.2Z"/>
<path fill="#3c4f8a" d="M484.8 396.6L490.8 397.3L494 396.8L488.1 396.1Z"/>
<path fill="#453882" d="M620.3 418.1L626.3 420.3L629.4 419.2L623.3 417Z"/>
<path fill="#3e4a89" d="M386.1 402.5L392 401.6L395.4 401L389.6 401.8Z"/>
<path fill="#3e4989" d="M542.5 402.6L548.5 404L551.7 403.5L545.7 402Z"/>
<path fill="#3d4e8a" d="M409.4 399.2L415.3 398.6L418.7 398.1L412.8 398.5Z"/>
<path fill="#3c4f8a" d="M499.2 397.5L505.2 398.4L508.4 398L502.5 397Z"/>
<path fill="#3e4c8a" d="M528.1 400.5L534.1 401.8L537.3 401.3L531.3 400Z"/>
<path fill="#3d4d8a" d="M513.7 398.8L519.7 399.9L522.9 399.5L516.9 398.3Z"/>
<path fill="#433d84" d="M605.9 415L611.9 417.1L615 416.1L608.9 414Z"/>
<path fill="#472f7d" d="M654.8 426.6L660.8 428.9L663.8 427.6L657.8 425.3Z"/>
<path fill="#3c508b" d="M447.1 396.4L453 396.4L456.3 396L450.4 395.8Z"/>
<path fill="#433d84" d="M321.9 416.9L327.6 415.1L331.2 414.5L325.5 416.1Z"/>
<path fill="#404588" d="M354 408.8L359.8 407.4L363.3 406.8L357.5 408.1Z"/>
<path fill="#424086" d="M591.5 411.9L597.5 413.9L600.6 413.1L594.6 411.1Z"/>
<path fill="#463480" d="M640.4 423.3L646.4 425.7L649.5 424.4L643.4 422.1Z"/>
<path fill="#3b518b" d="M461.5 396.2L467.5 396.5L470.8 396.1L464.8 395.7Z"/>
<path fill="#3c508b" d="M423.8 397.8L429.7 397.5L433.1 397L427.2 397.2Z"/>
<path fill="#3e4a89" d="M377.2 404.1L383.1 403L386.5 402.4L380.7 403.4Z"/>
<path fill="#414487" d="M577 409.1L583.1 410.9L586.2 410.2L580.2 408.3Z"/>
<path fill="#3d4e8a" d="M400.5 400.3L406.4 399.6L409.8 399.1L403.9 399.7Z"/>
<path fill="#443a83" d="M313 419.3L318.7 417.3L322.3 416.8L316.6 418.6Z"/>
<path fill="#453882" d="M626 420.1L632 422.4L635.1 421.3L629 419Z"/>
<path fill="#3f4788" d="M562.6 406.4L568.6 408.1L571.8 407.5L565.7 405.7Z"/>
<path fill="#3b518b" d="M475.9 396.4L481.9 397L485.2 396.6L479.2 396Z"/>
<path fill="#414487" d="M345.1 410.9L350.9 409.3L354.4 408.8L348.6 410.2Z"/>
<path fill="#3e4989" d="M548.2 403.9L554.2 405.5L557.3 404.9L551.3 403.3Z"/>
<path fill="#3b518b" d="M490.4 397.2L496.4 397.9L499.6 397.5L493.6 396.7Z"/>
<path fill="#443b84" d="M611.6 416.9L617.6 419.1L620.7 418.1L614.6 416Z"/>
<path fill="#3b518b" d="M438.2 396.8L444.1 396.8L447.5 396.3L441.6 396.3Z"/>
<path fill="#3e4c8a" d="M533.7 401.7L539.7 403.1L542.9 402.6L536.9 401.2Z"/>
<path fill="#3c508b" d="M504.8 398.3L510.8 399.3L514.1 398.9L508.1 397.9Z"/>
<path fill="#3d4e8a" d="M519.3 399.8L525.3 401L528.5 400.6L522.5 399.4Z"/>
<path fill="#443983" d="M304.1 421.8L309.8 419.7L313.4 419.2L307.7 421.2Z"/>
<path fill="#3e4989" d="M368.3 405.7L374.2 404.5L377.6 404L371.8 405.1Z"/>
<path fill="#424086" d="M597.2 413.8L603.2 415.8L606.3 415L600.2 413Z"/>
<path fill="#46337f" d="M646.1 425.5L652.2 427.9L655.2 426.6L649.1 424.3Z"/>
<path fill="#3c508b" d="M414.9 398.7L420.8 398.2L424.2 397.7L418.3 398.1Z"/>
<path fill="#414287" d="M336.2 413L341.9 411.3L345.5 410.8L339.8 412.3Z"/>
<path fill="#3d4e8a" d="M391.6 401.6L397.5 400.8L400.9 400.3L395 401Z"/>
<path fill="#3b528b" d="M452.6 396.4L458.6 396.6L461.9 396.2L456 395.9Z"/>
<path fill="#414487" d="M582.7 410.8L588.8 412.7L591.9 412L585.8 410.1Z"/>
<path fill="#453781" d="M631.7 422.2L637.8 424.5L640.8 423.4L634.7 421.1Z"/>
<path fill="#453781" d="M295.2 424.4L300.8 422.1L304.5 421.7L298.8 423.8Z"/>
<path fill="#3a538b" d="M467.1 396.4L473 396.8L476.3 396.5L470.4 396Z"/>
<path fill="#3f4788" d="M568.3 407.9L574.3 409.7L577.4 409.1L571.4 407.3Z"/>
<path fill="#3f4889" d="M359.4 407.5L365.2 406.1L368.7 405.7L362.9 406.9Z"/>
<path fill="#424186" d="M327.3 415.2L333 413.3L336.6 412.9L330.9 414.6Z"/>
<path fill="#3b528b" d="M429.3 397.5L435.2 397.2L438.6 396.8L432.7 397Z"/>
<path fill="#443b84" d="M617.3 418.9L623.3 421.1L626.4 420.1L620.3 417.9Z"/>
<path fill="#3e4989" d="M553.8 405.3L559.9 407L563 406.4L557 404.8Z"/>
<path fill="#3b528b" d="M481.5 396.9L487.5 397.5L490.8 397.2L484.8 396.5Z"/>
<path fill="#3d4e8a" d="M382.7 403.1L388.5 402L392 401.6L386.1 402.5Z"/>
<path fill="#3b518b" d="M406 399.7L411.9 399L415.3 398.6L409.4 399.2Z"/>
<path fill="#3d4d8a" d="M539.4 403L545.4 404.4L548.6 403.9L542.6 402.5Z"/>
<path fill="#3b528b" d="M496 397.8L502 398.7L505.2 398.3L499.2 397.4Z"/>
<path fill="#46327e" d="M651.9 427.7L657.9 430.1L660.9 428.8L654.9 426.4Z"/>
<path fill="#3c4f8a" d="M524.9 400.9L530.9 402.2L534.1 401.8L528.1 400.5Z"/>
<path fill="#3c508b" d="M510.5 399.2L516.5 400.3L519.7 399.9L513.7 398.8Z"/>
<path fill="#423f85" d="M602.9 415.7L608.9 417.8L612 416.9L605.9 414.8Z"/>
<path fill="#3a538b" d="M443.7 396.7L449.7 396.7L453 396.4L447.1 396.3Z"/>
<path fill="#424086" d="M318.3 417.5L324 415.4L327.7 415.1L322 417Z"/>
<path fill="#3f4889" d="M350.5 409.4L356.3 407.8L359.8 407.5L354 408.9Z"/>
<path fill="#453781" d="M637.4 424.3L643.5 426.7L646.5 425.5L640.5 423.2Z"/>
<path fill="#414487" d="M588.4 412.6L594.5 414.6L597.6 413.8L591.5 411.8Z"/>
<path fill="#3a538b" d="M420.4 398.2L426.3 397.8L429.7 397.4L423.8 397.7Z"/>
<path fill="#3d4d8a" d="M373.8 404.6L379.6 403.4L383.1 403L377.3 404.1Z"/>
<path fill="#3a548c" d="M458.2 396.5L464.2 396.7L467.5 396.4L461.5 396.1Z"/>
<path fill="#3f4788" d="M574 409.6L580 411.5L583.1 410.8L577.1 409Z"/>
<path fill="#443a83" d="M623 421L629.1 423.2L632.1 422.2L626.1 420Z"/>
<path fill="#3b518b" d="M397.1 400.8L403 400L406.4 399.6L400.5 400.3Z"/>
<path fill="#433e85" d="M309.4 419.9L315.1 417.6L318.7 417.4L313.1 419.4Z"/>
<path fill="#3f4788" d="M341.6 411.4L347.3 409.6L350.9 409.3L345.1 410.9Z"/>
<path fill="#3e4a89" d="M559.5 406.8L565.5 408.5L568.7 408L562.7 406.3Z"/>
<path fill="#3a548c" d="M472.7 396.8L478.6 397.2L481.9 396.9L475.9 396.4Z"/>
<path fill="#423f85" d="M608.6 417.6L614.6 419.8L617.7 419L611.6 416.8Z"/>
<path fill="#3d4d8a" d="M545 404.3L551.1 405.8L554.2 405.4L548.2 403.8Z"/>
<path fill="#3a548c" d="M487.1 397.5L493.1 398.2L496.4 397.9L490.4 397.1Z"/>
<path fill="#3a548c" d="M434.8 397.2L440.8 397L444.1 396.7L438.2 396.8Z"/>
<path fill="#3c4f8a" d="M530.6 402.1L536.6 403.4L539.8 403L533.8 401.6Z"/>
<path fill="#3a538b" d="M501.6 398.6L507.6 399.5L510.9 399.2L504.8 398.2Z"/>
<path fill="#3b518b" d="M516.1 400.1L522.1 401.3L525.3 400.9L519.3 399.8Z"/>
<path fill="#433d84" d="M300.5 422.3L306.1 419.8L309.8 419.7L304.2 421.9Z"/>
<path fill="#453581" d="M643.2 426.5L649.2 428.9L652.3 427.7L646.2 425.4Z"/>
<path fill="#3d4d8a" d="M364.8 406.2L370.6 404.8L374.2 404.5L368.3 405.8Z"/>
<path fill="#414287" d="M594.1 414.4L600.2 416.5L603.3 415.7L597.2 413.7Z"/>
<path fill="#3a538b" d="M411.5 399.1L417.4 398.5L420.8 398.2L414.9 398.7Z"/>
<path fill="#404688" d="M332.6 413.5L338.3 411.5L342 411.3L336.2 413.1Z"/>
<path fill="#3b518b" d="M388.1 402.1L394 401.1L397.5 400.8L391.6 401.7Z"/>
<path fill="#39558c" d="M449.3 396.7L455.3 396.8L458.6 396.5L452.6 396.4Z"/>
<path fill="#443a83" d="M628.7 423.1L634.8 425.4L637.8 424.4L631.8 422.1Z"/>
<path fill="#3f4788" d="M579.7 411.3L585.7 413.3L588.8 412.6L582.8 410.7Z"/>
<path fill="#443a83" d="M291.5 424.8L297.1 422.1L300.8 422.2L295.2 424.5Z"/>
<path fill="#3e4a89" d="M565.2 408.4L571.2 410.2L574.4 409.6L568.3 407.8Z"/>
<path fill="#39568c" d="M463.8 396.7L469.8 397L473.1 396.8L467.1 396.4Z"/>
<path fill="#3d4d8a" d="M355.9 408L361.7 406.4L365.2 406.2L359.4 407.6Z"/>
<path fill="#423f85" d="M614.3 419.7L620.3 421.9L623.4 421L617.3 418.8Z"/>
<path fill="#404588" d="M323.7 415.6L329.4 413.4L333 413.4L327.3 415.3Z"/>
<path fill="#39558c" d="M425.9 397.8L431.9 397.4L435.2 397.2L429.3 397.4Z"/>
<path fill="#3d4d8a" d="M550.7 405.7L556.7 407.3L559.9 406.9L553.9 405.2Z"/>
<path fill="#39568c" d="M478.3 397.2L484.3 397.7L487.5 397.5L481.5 396.9Z"/>
<path fill="#453581" d="M648.9 428.7L655 431.2L658 430L651.9 427.5Z"/>
<path fill="#3b518b" d="M379.2 403.5L385.1 402.3L388.5 402L382.7 403.1Z"/>
<path fill="#3a548c" d="M402.6 400.1L408.5 399.3L411.9 399L406 399.7Z"/>
<path fill="#3c508b" d="M536.2 403.3L542.3 404.7L545.4 404.3L539.4 402.9Z"/>
<path fill="#414287" d="M599.8 416.3L605.9 418.5L609 417.7L602.9 415.6Z"/>
<path fill="#39558c" d="M492.7 398.1L498.8 398.9L502 398.6L496 397.8Z"/>
<path fill="#3b528b" d="M521.7 401.2L527.8 402.4L531 402.1L524.9 400.8Z"/>
<path fill="#3a548c" d="M507.2 399.4L513.3 400.5L516.5 400.2L510.5 399.1Z"/>
<path fill="#38588c" d="M440.4 397L446.3 396.9L449.7 396.7L443.7 396.7Z"/>
<path fill="#443983" d="M634.5 425.2L640.5 427.6L643.6 426.6L637.5 424.2Z"/>
<path fill="#414487" d="M314.7 417.8L320.4 415.4L324.1 415.5L318.4 417.6Z"/>
<path fill="#3e4c8a" d="M346.9 409.8L352.7 408L356.3 407.9L350.5 409.5Z"/>
<path fill="#404688" d="M585.4 413.1L591.4 415.1L594.5 414.5L588.5 412.5Z"/>
<path fill="#39568c" d="M417 398.5L422.9 398L426.3 397.8L420.4 398.2Z"/>
<path fill="#3b518b" d="M370.3 404.9L376.1 403.5L379.6 403.4L373.8 404.6Z"/>
<path fill="#433e85" d="M620 421.7L626.1 424.1L629.1 423.1L623.1 420.8Z"/>
<path fill="#3e4a89" d="M570.9 410L576.9 411.9L580.1 411.4L574 409.5Z"/>
<path fill="#38588c" d="M454.9 396.8L460.8 396.9L464.2 396.7L458.2 396.5Z"/>
<path fill="#3a548c" d="M393.6 401.2L399.5 400.2L403 400L397.1 400.8Z"/>
<path fill="#414287" d="M305.8 420L311.4 417.5L315.1 417.7L309.5 420Z"/>
<path fill="#3d4e8a" d="M556.4 407.2L562.4 408.9L565.6 408.4L559.5 406.7Z"/>
<path fill="#3e4a89" d="M338 411.7L343.7 409.7L347.3 409.7L341.6 411.5Z"/>
<path fill="#38588c" d="M469.4 397L475.4 397.4L478.7 397.2L472.7 396.7Z"/>
<path fill="#414287" d="M605.5 418.3L611.6 420.5L614.7 419.7L608.6 417.5Z"/>
<path fill="#3c508b" d="M541.9 404.6L547.9 406.1L551.1 405.8L545.1 404.2Z"/>
<path fill="#38588c" d="M483.9 397.7L489.9 398.3L493.1 398.1L487.1 397.4Z"/>
<path fill="#443983" d="M640.2 427.4L646.3 429.9L649.3 428.8L643.2 426.4Z"/>
<path fill="#38598c" d="M431.5 397.5L437.4 397.2L440.8 397L434.8 397.2Z"/>
<path fill="#3a538b" d="M527.4 402.3L533.4 403.6L536.6 403.3L530.6 402Z"/>
<path fill="#39568c" d="M498.4 398.8L504.4 399.7L507.6 399.5L501.6 398.5Z"/>
<path fill="#39558c" d="M512.9 400.4L518.9 401.5L522.1 401.2L516.1 400.1Z"/>
<path fill="#3c508b" d="M361.3 406.5L367.1 404.9L370.7 404.9L364.9 406.3Z"/>
<path fill="#404688" d="M591.1 415L597.1 417.1L600.2 416.4L594.2 414.3Z"/>
<path fill="#424086" d="M296.8 422.3L302.4 419.6L306.2 419.9L300.5 422.4Z"/>
<path fill="#38588c" d="M408.1 399.3L414 398.6L417.4 398.5L411.5 399.1Z"/>
<path fill="#3e4989" d="M329 413.6L334.7 411.4L338.4 411.6L332.7 413.6Z"/>
<path fill="#3a548c" d="M384.7 402.4L390.5 401.2L394 401.1L388.2 402.1Z"/>
<path fill="#433d84" d="M625.7 423.9L631.8 426.2L634.9 425.3L628.8 422.9Z"/>
<path fill="#375a8c" d="M445.9 396.9L451.9 396.9L455.3 396.8L449.3 396.7Z"/>
<path fill="#3e4a89" d="M576.6 411.8L582.6 413.7L585.8 413.2L579.7 411.2Z"/>
<path fill="#423f85" d="M287.8 424.7L293.4 421.7L297.2 422.2L291.6 424.9Z"/>
<path fill="#3d4e8a" d="M562.1 408.8L568.1 410.6L571.3 410.1L565.2 408.3Z"/>
<path fill="#424186" d="M611.3 420.3L617.3 422.6L620.4 421.8L614.3 419.5Z"/>
<path fill="#375a8c" d="M460.4 396.9L466.4 397.1L469.8 397L463.8 396.7Z"/>
<path fill="#3c508b" d="M352.3 408.1L358.1 406.4L361.7 406.4L355.9 408Z"/>
<path fill="#453882" d="M646 429.7L652 432.2L655.1 431L649 428.6Z"/>
<path fill="#375a8c" d="M422.5 398L428.5 397.5L431.9 397.4L425.9 397.8Z"/>
<path fill="#3f4889" d="M320.1 415.6L325.7 413.2L329.4 413.5L323.7 415.7Z"/>
<path fill="#3b518b" d="M547.6 406L553.6 407.6L556.8 407.2L550.7 405.6Z"/>
<path fill="#375a8c" d="M475 397.3L481 397.8L484.3 397.7L478.3 397.1Z"/>
<path fill="#3a548c" d="M375.7 403.7L381.5 402.3L385.1 402.3L379.2 403.5Z"/>
<path fill="#38588c" d="M399.1 400.3L405 399.4L408.5 399.3L402.6 400.1Z"/>
<path fill="#404688" d="M596.8 416.9L602.9 419.1L605.9 418.4L599.9 416.2Z"/>
<path fill="#3a538b" d="M533.1 403.5L539.1 405L542.3 404.6L536.3 403.2Z"/>
<path fill="#38598c" d="M489.5 398.2L495.5 399L498.8 398.8L492.8 398Z"/>
<path fill="#39558c" d="M518.5 401.4L524.6 402.6L527.8 402.4L521.8 401.1Z"/>
<path fill="#38588c" d="M504 399.6L510 400.6L513.3 400.4L507.3 399.4Z"/>
<path fill="#433d84" d="M631.5 426.1L637.6 428.5L640.6 427.5L634.5 425.1Z"/>
<path fill="#375b8d" d="M437 397.2L443 397L446.3 396.9L440.4 397Z"/>
<path fill="#3e4989" d="M582.3 413.6L588.4 415.6L591.5 415L585.4 413Z"/>
<path fill="#3c4f8a" d="M343.4 409.9L349.1 407.9L352.7 408.1L347 409.9Z"/>
<path fill="#3f4788" d="M311.1 417.7L316.7 415.1L320.4 415.5L314.8 417.9Z"/>
<path fill="#424186" d="M617 422.4L623.1 424.8L626.1 423.9L620.1 421.6Z"/>
<path fill="#3d4e8a" d="M567.8 410.4L573.8 412.3L577 411.8L570.9 409.9Z"/>
<path fill="#375a8c" d="M413.6 398.7L419.5 398L422.9 398L417 398.5Z"/>
<path fill="#3a548c" d="M366.7 405.1L372.6 403.5L376.1 403.6L370.3 405Z"/>
<path fill="#365c8d" d="M451.5 396.9L457.5 397L460.8 396.9L454.9 396.7Z"/>
<path fill="#38588c" d="M390.1 401.3L396 400.2L399.5 400.2L393.6 401.2Z"/>
<path fill="#3b518b" d="M553.3 407.5L559.3 409.2L562.5 408.8L556.4 407.1Z"/>
<path fill="#404688" d="M302.1 419.8L307.7 416.9L311.5 417.6L305.9 420.1Z"/>
<path fill="#404688" d="M602.5 418.9L608.6 421.1L611.7 420.4L605.6 418.2Z"/>
<path fill="#3c4f8a" d="M334.4 411.6L340.1 409.4L343.8 409.8L338.1 411.8Z"/>
<path fill="#365c8d" d="M466 397.1L472.1 397.4L475.4 397.3L469.4 396.9Z"/>
<path fill="#443b84" d="M637.2 428.3L643.3 430.8L646.4 429.8L640.3 427.3Z"/>
<path fill="#3a548c" d="M538.7 404.8L544.8 406.3L548 406.1L541.9 404.5Z"/>
<path fill="#375b8d" d="M480.6 397.8L486.6 398.4L489.9 398.3L483.9 397.6Z"/>
<path fill="#365c8d" d="M428.1 397.6L434 397.2L437.4 397.2L431.5 397.5Z"/>
<path fill="#39568c" d="M524.2 402.5L530.2 403.8L533.5 403.6L527.4 402.2Z"/>
<path fill="#375a8c" d="M495.1 398.9L501.2 399.8L504.4 399.6L498.4 398.7Z"/>
<path fill="#3e4989" d="M588 415.4L594.1 417.6L597.2 417L591.1 414.9Z"/>
<path fill="#38598c" d="M509.7 400.5L515.7 401.6L518.9 401.4L512.9 400.3Z"/>
<path fill="#3a548c" d="M357.8 406.5L363.5 404.7L367.1 405L361.3 406.6Z"/>
<path fill="#424086" d="M622.8 424.6L628.8 427L631.9 426.1L625.8 423.8Z"/>
<path fill="#404588" d="M293.1 421.9L298.7 418.8L302.5 419.7L296.9 422.5Z"/>
<path fill="#375b8d" d="M404.6 399.4L410.5 398.6L414 398.6L408.1 399.4Z"/>
<path fill="#38598c" d="M381.2 402.4L387 401.1L390.5 401.3L384.7 402.4Z"/>
<path fill="#3d4e8a" d="M325.4 413.4L331.1 411L334.8 411.5L329.1 413.7Z"/>
<path fill="#3d4e8a" d="M573.5 412.1L579.6 414.1L582.7 413.6L576.6 411.7Z"/>
<path fill="#365d8d" d="M442.6 397L448.6 396.9L451.9 396.9L445.9 396.9Z"/>
<path fill="#404588" d="M608.2 421L614.3 423.3L617.4 422.5L611.3 420.2Z"/>
<path fill="#3b518b" d="M559 409L565 410.9L568.2 410.5L562.1 408.7Z"/>
<path fill="#443b84" d="M643 430.6L649.1 433.1L652.1 432.1L646 429.6Z"/>
<path fill="#355e8d" d="M457.1 396.9L463.1 397.1L466.4 397.1L460.4 396.9Z"/>
<path fill="#414487" d="M284.1 424L289.6 420.6L293.5 421.8L287.9 424.8Z"/>
<path fill="#3a538b" d="M348.8 408L354.5 406L358.2 406.4L352.4 408.2Z"/>
<path fill="#365d8d" d="M419.1 398.1L425.1 397.5L428.5 397.6L422.5 398Z"/>
<path fill="#3a548c" d="M544.4 406.2L550.5 407.8L553.7 407.5L547.6 405.9Z"/>
<path fill="#3d4d8a" d="M316.4 415.3L322 412.6L325.8 413.3L320.1 415.8Z"/>
<path fill="#3e4989" d="M593.7 417.4L599.8 419.6L602.9 419L596.8 416.8Z"/>
<path fill="#365d8d" d="M471.7 397.4L477.7 397.8L481 397.8L475 397.3Z"/>
<path fill="#38598c" d="M372.2 403.6L378 402.1L381.6 402.4L375.7 403.7Z"/>
<path fill="#38588c" d="M529.9 403.7L535.9 405.1L539.1 404.9L533.1 403.4Z"/>
<path fill="#365c8d" d="M395.6 400.3L401.5 399.2L405 399.4L399.1 400.3Z"/>
<path fill="#424086" d="M628.5 426.8L634.6 429.3L637.6 428.4L631.6 425.9Z"/>
<path fill="#365d8d" d="M486.2 398.3L492.2 399L495.5 398.9L489.5 398.2Z"/>
<path fill="#375a8c" d="M515.3 401.5L521.4 402.7L524.6 402.5L518.6 401.3Z"/>
<path fill="#365c8d" d="M500.8 399.7L506.8 400.6L510.1 400.5L504 399.6Z"/>
<path fill="#3d4e8a" d="M579.2 413.9L585.3 416L588.4 415.5L582.3 413.5Z"/>
<path fill="#355e8d" d="M433.6 397.2L439.6 396.9L443 397L437 397.2Z"/>
<path fill="#3a538b" d="M339.8 409.6L345.5 407.4L349.2 408L343.4 410Z"/>
<path fill="#404588" d="M614 423.1L620.1 425.5L623.1 424.7L617.1 422.3Z"/>
<path fill="#3d4d8a" d="M307.4 417.2L313 414.2L316.8 415.2L311.2 417.8Z"/>
<path fill="#3b518b" d="M564.7 410.7L570.7 412.6L573.9 412.2L567.8 410.3Z"/>
<path fill="#355e8d" d="M410.1 398.7L416.1 397.9L419.5 398L413.6 398.7Z"/>
<path fill="#355f8d" d="M448.2 396.9L454.2 396.9L457.5 397L451.5 396.9Z"/>
<path fill="#38598c" d="M363.2 404.9L369 403.1L372.6 403.6L366.8 405.2Z"/>
<path fill="#365c8d" d="M386.7 401.2L392.5 399.9L396 400.2L390.2 401.4Z"/>
<path fill="#3f4889" d="M599.5 419.4L605.6 421.7L608.6 421L602.6 418.8Z"/>
<path fill="#3a548c" d="M550.1 407.7L556.2 409.4L559.4 409.1L553.3 407.4Z"/>
<path fill="#423f85" d="M634.3 429.1L640.4 431.6L643.4 430.7L637.3 428.2Z"/>
<path fill="#355f8d" d="M462.7 397.1L468.7 397.3L472.1 397.4L466 397.1Z"/>
<path fill="#3a538b" d="M330.8 411.2L336.5 408.7L340.2 409.5L334.5 411.7Z"/>
<path fill="#38588c" d="M535.6 405L541.6 406.5L544.8 406.3L538.8 404.7Z"/>
<path fill="#3e4c8a" d="M298.4 419L304 415.8L307.8 417.1L302.2 419.9Z"/>
<path fill="#355f8d" d="M477.3 397.8L483.3 398.3L486.6 398.3L480.6 397.7Z"/>
<path fill="#375a8c" d="M521 402.6L527.1 403.9L530.3 403.7L524.2 402.4Z"/>
<path fill="#3d4d8a" d="M584.9 415.8L591 418L594.1 417.5L588.1 415.3Z"/>
<path fill="#34608d" d="M424.7 397.5L430.6 397L434 397.2L428.1 397.6Z"/>
<path fill="#355e8d" d="M491.9 398.9L497.9 399.7L501.2 399.7L495.1 398.9Z"/>
<path fill="#365c8d" d="M506.4 400.5L512.5 401.6L515.7 401.5L509.7 400.4Z"/>
<path fill="#414487" d="M619.7 425.3L625.8 427.7L628.9 426.9L622.8 424.5Z"/>
<path fill="#38598c" d="M354.2 406.2L360 404.2L363.6 404.8L357.8 406.6Z"/>
<path fill="#355f8d" d="M401.2 399.3L407.1 398.3L410.5 398.6L404.6 399.5Z"/>
<path fill="#3b518b" d="M570.4 412.4L576.5 414.4L579.6 414L573.5 412Z"/>
<path fill="#365c8d" d="M377.7 402.2L383.5 400.7L387.1 401.2L381.2 402.5Z"/>
<path fill="#34618d" d="M439.2 397L445.2 396.7L448.6 396.9L442.6 397Z"/>
<path fill="#3e4a89" d="M289.3 420.9L294.9 417.4L298.8 419L293.2 422.1Z"/>
<path fill="#3b528b" d="M321.8 412.8L327.4 410.1L331.2 411.1L325.5 413.6Z"/>
<path fill="#3f4889" d="M605.2 421.5L611.3 423.8L614.4 423.2L608.3 420.8Z"/>
<path fill="#433e85" d="M640 431.4L646.1 434L649.2 433L643.1 430.5Z"/>
<path fill="#3a548c" d="M555.8 409.3L561.9 411.1L565.1 410.8L559 409Z"/>
<path fill="#34618d" d="M453.8 396.9L459.8 397L463.1 397.1L457.1 396.9Z"/>
<path fill="#38588c" d="M541.3 406.3L547.3 407.9L550.5 407.7L544.4 406.1Z"/>
<path fill="#34618d" d="M415.7 397.9L421.6 397.2L425.1 397.5L419.1 398.1Z"/>
<path fill="#38598c" d="M345.2 407.5L350.9 405.3L354.6 406.1L348.9 408.2Z"/>
<path fill="#3d4d8a" d="M590.7 417.8L596.8 420L599.9 419.5L593.8 417.3Z"/>
<path fill="#414287" d="M625.5 427.5L631.6 430L634.7 429.2L628.6 426.7Z"/>
<path fill="#34618d" d="M468.3 397.3L474.4 397.7L477.7 397.8L471.7 397.4Z"/>
<path fill="#375b8d" d="M526.7 403.7L532.8 405.1L536 405L529.9 403.6Z"/>
<path fill="#3e4a89" d="M280.3 422.4L285.8 418.6L289.7 420.8L284.2 424.2Z"/>
<path fill="#365d8d" d="M368.7 403.3L374.5 401.6L378.1 402.2L372.2 403.7Z"/>
<path fill="#355f8d" d="M392.2 400.1L398 398.9L401.6 399.3L395.7 400.4Z"/>
<path fill="#3b528b" d="M312.7 414.4L318.3 411.4L322.1 412.7L316.5 415.4Z"/>
<path fill="#34608d" d="M482.9 398.3L489 398.9L492.3 399L486.2 398.3Z"/>
<path fill="#365d8d" d="M512.1 401.5L518.2 402.6L521.4 402.6L515.3 401.4Z"/>
<path fill="#355f8d" d="M497.5 399.7L503.6 400.6L506.8 400.6L500.8 399.6Z"/>
<path fill="#3b518b" d="M576.1 414.3L582.2 416.3L585.3 415.9L579.3 413.9Z"/>
<path fill="#33628d" d="M430.2 397.1L436.2 396.7L439.6 396.9L433.6 397.3Z"/>
<path fill="#3f4788" d="M611 423.6L617.1 426L620.1 425.3L614.1 423Z"/>
<path fill="#38588c" d="M336.2 408.9L341.9 406.4L345.6 407.5L339.9 409.7Z"/>
<path fill="#3a548c" d="M561.5 410.9L567.6 412.8L570.8 412.5L564.7 410.6Z"/>
<path fill="#3b518b" d="M303.7 416.1L309.3 412.8L313.1 414.4L307.5 417.3Z"/>
<path fill="#33628d" d="M406.7 398.4L412.6 397.5L416.1 397.9L410.2 398.7Z"/>
<path fill="#33638d" d="M444.8 396.8L450.8 396.6L454.2 396.9L448.2 396.9Z"/>
<path fill="#3e4c8a" d="M596.4 419.8L602.5 422.1L605.6 421.6L599.5 419.3Z"/>
<path fill="#414287" d="M631.3 429.8L637.4 432.4L640.4 431.5L634.3 429Z"/>
<path fill="#365d8d" d="M359.6 404.4L365.4 402.4L369 403.2L363.3 405Z"/>
<path fill="#38598c" d="M547 407.8L553 409.5L556.2 409.3L550.1 407.6Z"/>
<path fill="#34608d" d="M383.1 400.9L389 399.4L392.6 400L386.7 401.3Z"/>
<path fill="#33638d" d="M459.4 397L465.4 397.1L468.7 397.3L462.7 397.1Z"/>
<path fill="#375b8d" d="M532.4 405L538.5 406.5L541.7 406.4L535.6 404.9Z"/>
<path fill="#3c508b" d="M581.9 416.1L587.9 418.3L591.1 417.9L585 415.7Z"/>
<path fill="#33638d" d="M474 397.6L480 398.1L483.3 398.3L477.3 397.8Z"/>
<path fill="#355e8d" d="M517.8 402.5L523.9 403.8L527.1 403.8L521 402.5Z"/>
<path fill="#3f4788" d="M616.7 425.9L622.8 428.3L625.9 427.6L619.8 425.2Z"/>
<path fill="#38588c" d="M327.1 410.3L332.8 407.5L336.5 408.9L330.9 411.3Z"/>
<path fill="#33638d" d="M421.2 397.3L427.2 396.7L430.6 397.1L424.7 397.6Z"/>
<path fill="#33628d" d="M488.6 398.8L494.6 399.6L497.9 399.7L491.9 398.9Z"/>
<path fill="#34608d" d="M503.2 400.5L509.2 401.5L512.5 401.5L506.4 400.5Z"/>
<path fill="#3b518b" d="M294.6 417.6L300.2 414L304.1 416L298.5 419.2Z"/>
<path fill="#3a548c" d="M567.3 412.6L573.4 414.6L576.5 414.3L570.4 412.3Z"/>
<path fill="#365d8d" d="M350.6 405.5L356.3 403.3L360 404.3L354.3 406.3Z"/>
<path fill="#33638d" d="M397.7 399L403.6 397.8L407.1 398.4L401.2 399.4Z"/>
<path fill="#424186" d="M637.1 432.2L643.2 434.8L646.2 433.9L640.1 431.3Z"/>
<path fill="#3e4c8a" d="M602.2 421.9L608.3 424.3L611.4 423.7L605.3 421.4Z"/>
<path fill="#34608d" d="M374.1 401.7L379.9 400.1L383.5 400.8L377.7 402.4Z"/>
<path fill="#32658e" d="M435.8 396.7L441.8 396.4L445.2 396.8L439.2 397Z"/>
<path fill="#38598c" d="M552.7 409.4L558.8 411.2L561.9 411L555.9 409.2Z"/>
<path fill="#38588c" d="M318.1 411.7L323.7 408.6L327.5 410.2L321.9 412.9Z"/>
<path fill="#32658e" d="M450.4 396.7L456.4 396.6L459.8 397L453.8 396.9Z"/>
<path fill="#3b518b" d="M285.5 418.8L291.1 414.8L295 417.5L289.5 421Z"/>
<path fill="#3c508b" d="M587.6 418.1L593.7 420.4L596.8 419.9L590.7 417.7Z"/>
<path fill="#404688" d="M622.5 428.1L628.6 430.7L631.7 429.9L625.6 427.4Z"/>
<path fill="#365c8d" d="M538.1 406.4L544.2 408L547.4 407.9L541.3 406.3Z"/>
<path fill="#32658e" d="M412.2 397.6L418.2 396.8L421.6 397.3L415.7 398Z"/>
<path fill="#32658e" d="M465 397.1L471 397.4L474.4 397.7L468.3 397.3Z"/>
<path fill="#355f8d" d="M523.5 403.7L529.6 405.1L532.8 405.1L526.7 403.7Z"/>
<path fill="#365d8d" d="M341.6 406.6L347.3 404.1L351 405.5L345.3 407.7Z"/>
<path fill="#34618d" d="M508.9 401.4L514.9 402.5L518.2 402.6L512.1 401.4Z"/>
<path fill="#32648e" d="M479.6 398.1L485.7 398.7L489 398.9L482.9 398.2Z"/>
<path fill="#33638d" d="M388.6 399.6L394.5 398.2L398.1 399L392.2 400.2Z"/>
<path fill="#3a548c" d="M573 414.5L579.1 416.5L582.2 416.2L576.2 414.2Z"/>
<path fill="#33638d" d="M494.2 399.5L500.3 400.4L503.6 400.5L497.5 399.6Z"/>
<path fill="#34618d" d="M365.1 402.6L370.9 400.7L374.5 401.7L368.7 403.4Z"/>
<path fill="#3e4a89" d="M607.9 424.1L614 426.6L617.1 425.9L611 423.5Z"/>
<path fill="#38588c" d="M309 413L314.6 409.6L318.5 411.6L312.8 414.6Z"/>
<path fill="#31668e" d="M426.8 396.8L432.8 396.2L436.2 396.7L430.2 397.2Z"/>
<path fill="#38598c" d="M558.4 411L564.5 412.9L567.7 412.7L561.6 410.8Z"/>
<path fill="#3b528b" d="M276.4 418.8L281.9 414.2L285.9 418.8L280.5 422.6Z"/>
<path fill="#404588" d="M628.3 430.5L634.4 433.1L637.4 432.3L631.3 429.7Z"/>
<path fill="#3c508b" d="M593.4 420.2L599.5 422.5L602.6 422L596.5 419.7Z"/>
<path fill="#365d8d" d="M332.5 407.7L338.2 405L341.9 406.6L336.3 409.1Z"/>
<path fill="#31678e" d="M441.4 396.4L447.4 396.2L450.8 396.7L444.8 396.8Z"/>
<path fill="#31668e" d="M403.2 398L409.1 396.9L412.6 397.6L406.7 398.5Z"/>
<path fill="#365c8d" d="M543.8 407.8L549.9 409.5L553.1 409.4L547 407.7Z"/>
<path fill="#34618d" d="M356 403.5L361.8 401.3L365.5 402.6L359.7 404.5Z"/>
<path fill="#32648e" d="M379.6 400.2L385.4 398.6L389 399.6L383.2 401Z"/>
<path fill="#38588c" d="M299.9 414.2L305.5 410.5L309.4 412.9L303.8 416.2Z"/>
<path fill="#355f8d" d="M529.2 404.9L535.3 406.4L538.5 406.4L532.4 404.9Z"/>
<path fill="#31678e" d="M456 396.7L462.1 396.7L465.4 397.1L459.4 397Z"/>
<path fill="#3a548c" d="M578.8 416.4L584.9 418.5L588 418.2L581.9 416.1Z"/>
<path fill="#3e4a89" d="M613.7 426.4L619.8 428.9L622.9 428.2L616.8 425.8Z"/>
<path fill="#33628d" d="M514.5 402.4L520.6 403.7L523.9 403.8L517.8 402.5Z"/>
<path fill="#31668e" d="M470.6 397.4L476.7 397.8L480 398.1L474 397.6Z"/>
<path fill="#32648e" d="M499.9 400.3L506 401.3L509.3 401.4L503.2 400.4Z"/>
<path fill="#32658e" d="M485.3 398.6L491.3 399.3L494.6 399.6L488.6 398.8Z"/>
<path fill="#31678e" d="M417.8 396.9L423.7 396.1L427.2 396.8L421.3 397.4Z"/>
<path fill="#404588" d="M634.1 432.9L640.2 435.5L643.2 434.7L637.1 432.1Z"/>
<path fill="#38598c" d="M564.1 412.8L570.3 414.8L573.4 414.5L567.3 412.6Z"/>
<path fill="#355e8d" d="M323.4 408.8L329.1 405.7L332.9 407.7L327.2 410.4Z"/>
<path fill="#3c4f8a" d="M599.1 422.3L605.2 424.7L608.3 424.2L602.2 421.8Z"/>
<path fill="#31678e" d="M394.2 398.3L400.1 397L403.6 397.9L397.7 399.1Z"/>
<path fill="#33628d" d="M347 404.3L352.7 401.9L356.4 403.4L350.7 405.7Z"/>
<path fill="#30698e" d="M432.4 396.3L438.4 395.9L441.8 396.5L435.8 396.8Z"/>
<path fill="#365c8d" d="M549.5 409.4L555.6 411.2L558.8 411.1L552.7 409.3Z"/>
<path fill="#38588c" d="M290.8 415L296.3 410.8L300.3 414.1L294.8 417.7Z"/>
<path fill="#32658e" d="M370.6 400.9L376.4 399L380 400.2L374.2 401.9Z"/>
<path fill="#3e4989" d="M619.5 428.7L625.6 431.3L628.7 430.6L622.6 428Z"/>
<path fill="#3a538b" d="M584.5 418.4L590.6 420.6L593.7 420.3L587.6 418Z"/>
<path fill="#355f8d" d="M534.9 406.3L541 407.9L544.2 407.9L538.1 406.3Z"/>
<path fill="#30698e" d="M447 396.3L453 396.1L456.4 396.7L450.4 396.7Z"/>
<path fill="#355e8d" d="M314.3 409.8L319.9 406.4L323.8 408.8L318.2 411.8Z"/>
<path fill="#30698e" d="M408.8 397L414.7 396L418.2 396.9L412.3 397.7Z"/>
<path fill="#33628d" d="M520.3 403.5L526.3 404.9L529.6 405L523.5 403.6Z"/>
<path fill="#30698e" d="M461.7 396.8L467.7 397L471 397.4L465 397.1Z"/>
<path fill="#38588c" d="M569.9 414.6L576 416.7L579.2 416.5L573.1 414.4Z"/>
<path fill="#3d4e8a" d="M604.9 424.5L611 427L614.1 426.5L608 424Z"/>
<path fill="#32658e" d="M505.6 401.2L511.7 402.3L514.9 402.5L508.9 401.4Z"/>
<path fill="#31688e" d="M476.3 397.8L482.4 398.3L485.7 398.6L479.6 398.1Z"/>
<path fill="#31678e" d="M491 399.2L497 400L500.3 400.3L494.2 399.5Z"/>
<path fill="#33628d" d="M337.9 405.2L343.6 402.4L347.4 404.3L341.7 406.8Z"/>
<path fill="#31688e" d="M385.1 398.7L391 397.2L394.6 398.3L388.7 399.7Z"/>
<path fill="#31668e" d="M361.5 401.5L367.3 399.3L371 400.8L365.2 402.8Z"/>
<path fill="#375a8c" d="M281.6 414.4L287.1 409.7L291.2 415L285.7 419Z"/>
<path fill="#306a8e" d="M423.4 396.2L429.3 395.5L432.8 396.3L426.8 396.8Z"/>
<path fill="#365c8d" d="M555.3 411L561.4 412.9L564.5 412.8L558.4 410.9Z"/>
<path fill="#3f4889" d="M625.3 431.1L631.4 433.7L634.5 433L628.3 430.4Z"/>
<path fill="#3a538b" d="M590.3 420.5L596.4 422.8L599.5 422.4L593.4 420.1Z"/>
<path fill="#355e8d" d="M305.2 410.7L310.8 406.9L314.7 409.8L309.1 413.1Z"/>
<path fill="#34608d" d="M540.6 407.7L546.7 409.4L549.9 409.5L543.8 407.8Z"/>
<path fill="#2f6b8e" d="M438 395.9L444 395.6L447.4 396.3L441.4 396.5Z"/>
<path fill="#306a8e" d="M399.7 397.2L405.6 395.9L409.2 397L403.3 398.1Z"/>
<path fill="#3d4e8a" d="M610.7 426.8L616.8 429.3L619.9 428.8L613.8 426.3Z"/>
<path fill="#38588c" d="M575.7 416.5L581.8 418.7L584.9 418.5L578.8 416.3Z"/>
<path fill="#33638d" d="M328.8 406L334.5 402.9L338.3 405.1L332.6 407.9Z"/>
<path fill="#33638d" d="M526 404.8L532.1 406.2L535.3 406.4L529.2 404.9Z"/>
<path fill="#2f6b8e" d="M452.6 396.2L458.7 396.2L462.1 396.8L456 396.7Z"/>
<path fill="#30698e" d="M376 399.1L381.9 397.3L385.5 398.7L379.7 400.4Z"/>
<path fill="#31668e" d="M352.4 402.1L358.2 399.6L361.9 401.5L356.1 403.6Z"/>
<path fill="#32658e" d="M511.3 402.2L517.4 403.4L520.6 403.6L514.6 402.4Z"/>
<path fill="#2f6b8e" d="M467.3 397L473.4 397.3L476.7 397.8L470.6 397.4Z"/>
<path fill="#3f4788" d="M631.1 433.5L637.2 436.2L640.2 435.4L634.1 432.8Z"/>
<path fill="#31688e" d="M496.6 400L502.7 400.9L506 401.2L499.9 400.3Z"/>
<path fill="#30698e" d="M482 398.2L488 398.9L491.3 399.3L485.3 398.6Z"/>
<path fill="#365c8d" d="M561 412.8L567.1 414.8L570.3 414.7L564.2 412.7Z"/>
<path fill="#2f6c8e" d="M414.3 396.1L420.3 395.2L423.8 396.2L417.8 397Z"/>
<path fill="#3b528b" d="M596 422.6L602.2 425L605.3 424.6L599.2 422.2Z"/>
<path fill="#355f8d" d="M296.1 411L301.6 406.8L305.6 410.7L300.1 414.4Z"/>
<path fill="#34608d" d="M546.4 409.3L552.5 411.1L555.7 411.1L549.6 409.3Z"/>
<path fill="#2f6b8e" d="M390.6 397.3L396.5 395.9L400.1 397.2L394.2 398.5Z"/>
<path fill="#3d4d8a" d="M616.5 429.2L622.6 431.8L625.7 431.2L619.5 428.6Z"/>
<path fill="#2e6d8e" d="M429 395.6L434.9 395.1L438.4 395.9L432.4 396.4Z"/>
<path fill="#32648e" d="M319.7 406.6L325.3 403.2L329.2 405.9L323.6 409Z"/>
<path fill="#38588c" d="M581.4 418.5L587.5 420.8L590.7 420.5L584.6 418.3Z"/>
<path fill="#306a8e" d="M367 399.5L372.8 397.4L376.4 399.1L370.7 401Z"/>
<path fill="#31678e" d="M343.3 402.6L349 399.9L352.8 402.1L347.1 404.5Z"/>
<path fill="#33638d" d="M531.7 406.1L537.8 407.7L541 407.8L534.9 406.2Z"/>
<path fill="#2e6d8e" d="M443.6 395.7L449.6 395.4L453 396.2L447 396.3Z"/>
<path fill="#31668e" d="M517 403.3L523.1 404.6L526.4 404.8L520.3 403.5Z"/>
<path fill="#3b528b" d="M601.8 424.9L608 427.3L611.1 426.9L604.9 424.4Z"/>
<path fill="#365c8d" d="M566.8 414.6L572.9 416.7L576 416.6L569.9 414.5Z"/>
<path fill="#2e6d8e" d="M458.3 396.2L464.3 396.3L467.7 397L461.7 396.8Z"/>
<path fill="#2e6d8e" d="M405.3 396.1L411.2 394.9L414.7 396.1L408.8 397.1Z"/>
<path fill="#30698e" d="M502.3 400.8L508.4 401.9L511.7 402.2L505.6 401.2Z"/>
<path fill="#2f6c8e" d="M473 397.3L479 397.7L482.4 398.3L476.3 397.8Z"/>
<path fill="#2f6b8e" d="M487.7 398.8L493.7 399.6L497 400L491 399.2Z"/>
<path fill="#34618d" d="M286.9 409.9L292.4 405L296.5 411.1L291 415.2Z"/>
<path fill="#3e4c8a" d="M622.2 431.6L628.4 434.3L631.5 433.6L625.3 431Z"/>
<path fill="#32648e" d="M310.6 407.1L316.1 403.3L320.1 406.6L314.5 410Z"/>
<path fill="#2e6d8e" d="M381.6 397.5L387.4 395.8L391 397.3L385.2 398.9Z"/>
<path fill="#34608d" d="M552.1 411L558.2 412.9L561.4 412.9L555.3 411Z"/>
<path fill="#39568c" d="M587.2 420.6L593.3 423L596.4 422.7L590.3 420.4Z"/>
<path fill="#2e6f8e" d="M419.9 395.4L425.9 394.6L429.4 395.6L423.4 396.3Z"/>
<path fill="#31688e" d="M334.2 403.1L339.9 400L343.7 402.6L338 405.3Z"/>
<path fill="#2f6b8e" d="M357.9 399.8L363.6 397.4L367.4 399.5L361.6 401.6Z"/>
<path fill="#33638d" d="M537.4 407.6L543.5 409.2L546.8 409.4L540.6 407.7Z"/>
<path fill="#3b518b" d="M607.6 427.2L613.8 429.7L616.8 429.2L610.7 426.7Z"/>
<path fill="#2e6f8e" d="M434.6 395.2L440.6 394.7L444 395.7L438 396Z"/>
<path fill="#365c8d" d="M572.5 416.6L578.7 418.8L581.8 418.6L575.7 416.4Z"/>
<path fill="#31678e" d="M522.7 404.5L528.9 405.9L532.1 406.2L526 404.7Z"/>
<path fill="#2e6f8e" d="M396.2 396L402.1 394.6L405.7 396.1L399.8 397.3Z"/>
<path fill="#3e4a89" d="M628.1 434.1L634.2 436.8L637.3 436.1L631.1 433.4Z"/>
<path fill="#2e6f8e" d="M449.3 395.5L455.3 395.4L458.7 396.2L452.7 396.3Z"/>
<path fill="#30698e" d="M508 401.8L514.2 403L517.4 403.3L511.3 402.1Z"/>
<path fill="#31668e" d="M301.4 407L306.9 402.7L311 407.1L305.4 410.9Z"/>
<path fill="#2e6f8e" d="M463.9 396.3L470 396.6L473.4 397.3L467.3 397Z"/>
<path fill="#2e6e8e" d="M372.5 397.6L378.3 395.6L382 397.5L376.1 399.3Z"/>
<path fill="#2f6c8e" d="M493.3 399.5L499.5 400.4L502.7 400.9L496.6 400Z"/>
<path fill="#39568c" d="M593 422.8L599.1 425.3L602.2 424.9L596.1 422.5Z"/>
<path fill="#34608d" d="M557.9 412.7L564 414.7L567.2 414.7L561 412.7Z"/>
<path fill="#2e6e8e" d="M478.6 397.7L484.7 398.2L488 398.9L482 398.3Z"/>
<path fill="#30698e" d="M325.1 403.4L330.7 399.9L334.6 403.1L328.9 406.1Z"/>
<path fill="#2f6c8e" d="M348.8 400.1L354.5 397.4L358.3 399.8L352.5 402.2Z"/>
<path fill="#2d718e" d="M410.8 395.1L416.8 394L420.3 395.4L414.4 396.3Z"/>
<path fill="#3c508b" d="M613.4 429.6L619.6 432.2L622.6 431.7L616.5 429.1Z"/>
<path fill="#32648e" d="M543.2 409.1L549.3 410.9L552.5 411L546.4 409.2Z"/>
<path fill="#375b8d" d="M578.3 418.6L584.4 420.9L587.6 420.7L581.5 418.5Z"/>
<path fill="#2d718e" d="M425.5 394.7L431.5 394L435 395.2L429 395.7Z"/>
<path fill="#2d718e" d="M387.1 395.9L392.9 394.3L396.6 396L390.7 397.5Z"/>
<path fill="#31678e" d="M528.5 405.8L534.6 407.4L537.8 407.6L531.7 406.1Z"/>
<path fill="#39558c" d="M598.8 425.1L604.9 427.6L608 427.3L601.9 424.8Z"/>
<path fill="#2c718e" d="M440.2 394.8L446.2 394.5L449.7 395.5L443.6 395.8Z"/>
<path fill="#2d708e" d="M363.3 397.6L369.1 395.3L372.9 397.6L367.1 399.7Z"/>
<path fill="#34608d" d="M563.6 414.6L569.8 416.7L572.9 416.7L566.8 414.6Z"/>
<path fill="#306a8e" d="M513.8 402.9L519.9 404.2L523.1 404.6L517 403.2Z"/>
<path fill="#2f6b8e" d="M315.9 403.5L321.5 399.6L325.5 403.4L319.8 406.8Z"/>
<path fill="#2e6e8e" d="M339.6 400.2L345.3 397.1L349.2 400.1L343.4 402.8Z"/>
<path fill="#31688e" d="M292.1 405.2L297.6 400.2L301.8 407L296.3 411.2Z"/>
<path fill="#2d718e" d="M454.9 395.4L461 395.4L464.3 396.4L458.3 396.3Z"/>
<path fill="#2e6d8e" d="M499.1 400.3L505.2 401.3L508.4 401.9L502.3 400.8Z"/>
<path fill="#3c4f8a" d="M619.2 432L625.4 434.7L628.4 434.2L622.3 431.5Z"/>
<path fill="#2d708e" d="M469.6 396.6L475.7 396.9L479 397.7L473 397.3Z"/>
<path fill="#2c718e" d="M401.7 394.8L407.7 393.5L411.2 395.1L405.3 396.2Z"/>
<path fill="#2e6f8e" d="M484.3 398.2L490.4 398.9L493.7 399.6L487.6 398.8Z"/>
<path fill="#32648e" d="M548.9 410.8L555.1 412.7L558.3 412.8L552.1 410.9Z"/>
<path fill="#375b8d" d="M584.1 420.7L590.2 423.1L593.4 422.9L587.2 420.5Z"/>
<path fill="#2c718e" d="M378 395.7L383.8 393.8L387.5 395.9L381.7 397.7Z"/>
<path fill="#2c738e" d="M416.4 394.2L422.4 393.2L425.9 394.7L420 395.5Z"/>
<path fill="#3a548c" d="M604.6 427.4L610.7 430L613.8 429.6L607.7 427.1Z"/>
<path fill="#31678e" d="M534.2 407.2L540.4 408.9L543.6 409.2L537.4 407.5Z"/>
<path fill="#355f8d" d="M569.4 416.5L575.5 418.7L578.7 418.7L572.6 416.5Z"/>
<path fill="#2d718e" d="M354.2 397.5L360 394.9L363.7 397.6L358 400Z"/>
<path fill="#3d4e8a" d="M625 434.5L631.2 437.3L634.3 436.7L628.1 434Z"/>
<path fill="#2c738e" d="M431.1 394.1L437.1 393.5L440.6 394.8L434.6 395.3Z"/>
<path fill="#2e6f8e" d="M330.5 400.1L336.1 396.7L340 400.2L334.3 403.2Z"/>
<path fill="#2f6b8e" d="M519.5 404.1L525.6 405.5L528.9 405.9L522.8 404.5Z"/>
<path fill="#2f6c8e" d="M306.7 402.9L312.3 398.5L316.3 403.5L310.7 407.3Z"/>
<path fill="#2e6e8e" d="M504.8 401.3L510.9 402.4L514.2 402.9L508 401.8Z"/>
<path fill="#2c738e" d="M392.6 394.4L398.5 392.8L402.1 394.8L396.3 396.2Z"/>
<path fill="#2c738e" d="M445.8 394.5L451.9 394.3L455.3 395.5L449.3 395.6Z"/>
<path fill="#375a8c" d="M589.9 422.9L596 425.4L599.2 425.2L593 422.7Z"/>
<path fill="#33638d" d="M554.7 412.5L560.8 414.5L564 414.7L557.9 412.6Z"/>
<path fill="#2d708e" d="M490 398.9L496.2 399.7L499.4 400.4L493.3 399.5Z"/>
<path fill="#2c728e" d="M460.6 395.5L466.6 395.6L470 396.6L464 396.4Z"/>
<path fill="#2c718e" d="M475.3 396.9L481.4 397.4L484.7 398.3L478.6 397.7Z"/>
<path fill="#3a538b" d="M610.4 429.9L616.5 432.5L619.6 432.1L613.5 429.5Z"/>
<path fill="#2c738e" d="M368.8 395.5L374.6 393.2L378.4 395.8L372.6 397.8Z"/>
<path fill="#31678e" d="M540 408.8L546.1 410.6L549.3 410.8L543.2 409.1Z"/>
<path fill="#2b758e" d="M407.3 393.6L413.2 392.4L416.8 394.2L410.9 395.2Z"/>
<path fill="#355f8d" d="M575.2 418.6L581.3 420.9L584.5 420.8L578.3 418.5Z"/>
<path fill="#2c728e" d="M345.1 397.3L350.8 394.3L354.6 397.6L348.9 400.2Z"/>
<path fill="#2d718e" d="M321.3 399.8L326.9 395.9L330.9 400.1L325.2 403.6Z"/>
<path fill="#2f6b8e" d="M525.2 405.4L531.4 406.9L534.6 407.3L528.5 405.8Z"/>
<path fill="#38598c" d="M595.7 425.2L601.8 427.8L604.9 427.5L598.8 425Z"/>
<path fill="#2b758e" d="M422 393.4L428 392.5L431.5 394.1L425.6 394.8Z"/>
<path fill="#33638d" d="M560.5 414.4L566.6 416.5L569.8 416.6L563.7 414.5Z"/>
<path fill="#2b758e" d="M383.5 394L389.4 392.1L393 394.4L387.2 396.1Z"/>
<path fill="#2d708e" d="M297.4 400.3L302.9 395.3L307.1 402.9L301.6 407.2Z"/>
<path fill="#2e6e8e" d="M510.5 402.3L516.6 403.6L519.9 404.1L513.8 402.9Z"/>
<path fill="#3b528b" d="M616.2 432.4L622.3 435.1L625.4 434.6L619.3 431.9Z"/>
<path fill="#2a768e" d="M436.8 393.6L442.8 393.2L446.2 394.6L440.2 394.9Z"/>
<path fill="#2d718e" d="M495.8 399.7L501.9 400.6L505.2 401.3L499.1 400.3Z"/>
<path fill="#2b758e" d="M451.5 394.4L457.6 394.3L461 395.5L454.9 395.5Z"/>
<path fill="#2c728e" d="M481 397.4L487.1 398L490.4 398.9L484.3 398.3Z"/>
<path fill="#2b748e" d="M466.3 395.7L472.3 395.9L475.7 397L469.6 396.7Z"/>
<path fill="#355e8d" d="M581 420.7L587.1 423.1L590.3 423L584.1 420.6Z"/>
<path fill="#2b758e" d="M359.7 395.1L365.5 392.5L369.2 395.5L363.5 397.8Z"/>
<path fill="#31688e" d="M545.7 410.4L551.9 412.4L555.1 412.6L549 410.7Z"/>
<path fill="#2a778e" d="M398.2 393L404.1 391.5L407.7 393.6L401.8 394.9Z"/>
<path fill="#2b748e" d="M335.9 396.9L341.6 393.4L345.5 397.3L339.8 400.4Z"/>
<path fill="#38598c" d="M601.5 427.6L607.6 430.3L610.8 430L604.6 427.3Z"/>
<path fill="#2f6b8e" d="M531 406.8L537.2 408.5L540.4 408.9L534.2 407.2Z"/>
<path fill="#2c728e" d="M312 398.7L317.6 394.3L321.7 399.8L316.1 403.6Z"/>
<path fill="#3b518b" d="M622 434.9L628.2 437.7L631.2 437.2L625.1 434.4Z"/>
<path fill="#33638d" d="M566.3 416.4L572.4 418.6L575.6 418.7L569.4 416.4Z"/>
<path fill="#2a788e" d="M412.9 392.6L418.9 391.5L422.4 393.4L416.5 394.3Z"/>
<path fill="#2a778e" d="M374.4 393.4L380.2 391.2L383.9 394L378.1 395.9Z"/>
<path fill="#2e6f8e" d="M516.3 403.5L522.4 404.9L525.6 405.5L519.5 404Z"/>
<path fill="#355e8d" d="M586.8 422.9L592.9 425.5L596.1 425.3L589.9 422.8Z"/>
<path fill="#2a788e" d="M427.7 392.6L433.6 391.9L437.2 393.7L431.2 394.2Z"/>
<path fill="#2c718e" d="M501.5 400.5L507.6 401.6L510.9 402.4L504.8 401.3Z"/>
<path fill="#31678e" d="M551.5 412.2L557.7 414.2L560.9 414.5L554.7 412.5Z"/>
<path fill="#2a778e" d="M350.5 394.5L356.2 391.5L360.1 395.1L354.3 397.7Z"/>
<path fill="#2a788e" d="M442.4 393.3L448.4 392.9L451.9 394.4L445.9 394.7Z"/>
<path fill="#38588c" d="M607.3 430.1L613.5 432.8L616.6 432.4L610.4 429.8Z"/>
<path fill="#2b748e" d="M486.7 398L492.8 398.8L496.2 399.7L490 398.9Z"/>
<path fill="#2a778e" d="M457.2 394.4L463.2 394.4L466.6 395.7L460.6 395.6Z"/>
<path fill="#2a768e" d="M471.9 396L478 396.4L481.4 397.5L475.3 397Z"/>
<path fill="#29798e" d="M389.1 392.3L394.9 390.5L398.6 393L392.7 394.6Z"/>
<path fill="#2a768e" d="M326.7 396.1L332.3 392.2L336.3 396.9L330.6 400.3Z"/>
<path fill="#33628d" d="M572.1 418.4L578.2 420.8L581.4 420.8L575.2 418.5Z"/>
<path fill="#2f6c8e" d="M536.8 408.3L542.9 410.1L546.1 410.5L540 408.7Z"/>
<path fill="#297a8e" d="M403.8 391.7L409.7 390.3L413.3 392.6L407.4 393.8Z"/>
<path fill="#365d8d" d="M592.6 425.3L598.7 427.9L601.9 427.7L595.7 425.1Z"/>
<path fill="#297a8e" d="M365.2 392.6L371 390.1L374.8 393.4L369 395.7Z"/>
<path fill="#2e6f8e" d="M522 404.8L528.2 406.3L531.4 406.9L525.3 405.4Z"/>
<path fill="#2a768e" d="M302.7 395.4L308.3 390.3L312.4 398.8L306.9 403.1Z"/>
<path fill="#31678e" d="M557.3 414.1L563.5 416.2L566.6 416.4L560.5 414.3Z"/>
<path fill="#39568c" d="M613.1 432.6L619.3 435.4L622.4 435L616.2 432.3Z"/>
<path fill="#297b8e" d="M418.5 391.6L424.5 390.6L428.1 392.7L422.1 393.5Z"/>
<path fill="#2c728e" d="M507.2 401.6L513.4 402.8L516.6 403.6L510.5 402.3Z"/>
<path fill="#29798e" d="M341.3 393.6L347 390.2L350.9 394.5L345.2 397.5Z"/>
<path fill="#297b8e" d="M433.3 392.1L439.3 391.5L442.8 393.3L436.8 393.8Z"/>
<path fill="#33628d" d="M577.9 420.6L584 423L587.2 423L581 420.6Z"/>
<path fill="#2b758e" d="M492.4 398.8L498.6 399.7L501.9 400.6L495.8 399.7Z"/>
<path fill="#287c8e" d="M379.9 391.4L385.7 389.3L389.5 392.3L383.6 394.2Z"/>
<path fill="#2f6c8e" d="M542.5 410L548.7 411.9L551.9 412.3L545.8 410.4Z"/>
<path fill="#297a8e" d="M448.1 393L454.1 392.8L457.6 394.4L451.5 394.5Z"/>
<path fill="#2a778e" d="M477.7 396.4L483.8 396.9L487.1 398.1L481 397.5Z"/>
<path fill="#29798e" d="M462.9 394.5L469 394.6L472.3 396L466.3 395.8Z"/>
<path fill="#365c8d" d="M598.4 427.7L604.6 430.4L607.7 430.2L601.5 427.5Z"/>
<path fill="#29798e" d="M317.4 394.4L323 390L327.1 396.1L321.4 400Z"/>
<path fill="#39558c" d="M619 435.2L625.1 438.1L628.2 437.6L622.1 434.8Z"/>
<path fill="#2d708e" d="M527.8 406.2L533.9 407.8L537.2 408.4L531 406.8Z"/>
<path fill="#31678e" d="M563.1 416.1L569.3 418.3L572.4 418.5L566.3 416.3Z"/>
<path fill="#287d8e" d="M394.6 390.6L400.5 389L404.2 391.7L398.3 393.2Z"/>
<path fill="#287c8e" d="M356 391.7L361.7 388.8L365.6 392.7L359.8 395.3Z"/>
<path fill="#2c728e" d="M513 402.7L519.1 404.1L522.4 404.9L516.3 403.5Z"/>
<path fill="#34618d" d="M583.7 422.9L589.8 425.4L593 425.4L586.8 422.9Z"/>
<path fill="#277e8e" d="M409.4 390.5L415.3 389.2L418.9 391.7L413 392.7Z"/>
<path fill="#2f6b8e" d="M548.3 411.8L554.5 413.8L557.7 414.2L551.5 412.2Z"/>
<path fill="#287c8e" d="M332.1 392.4L337.7 388.5L341.7 393.7L336 397.1Z"/>
<path fill="#375b8d" d="M604.2 430.2L610.4 433L613.5 432.7L607.4 430Z"/>
<path fill="#2a768e" d="M498.2 399.6L504.3 400.7L507.6 401.7L501.5 400.6Z"/>
<path fill="#277e8e" d="M424.2 390.8L430.2 389.9L433.7 392.1L427.7 392.8Z"/>
<path fill="#277e8e" d="M370.7 390.3L376.5 387.8L380.3 391.4L374.5 393.6Z"/>
<path fill="#2a788e" d="M483.4 396.9L489.5 397.6L492.8 398.8L486.7 398.1Z"/>
<path fill="#287d8e" d="M439 391.6L445 391.2L448.5 393.1L442.5 393.4Z"/>
<path fill="#297a8e" d="M468.6 394.7L474.7 395L478.1 396.5L472 396.1Z"/>
<path fill="#31668e" d="M568.9 418.2L575.1 420.5L578.2 420.7L572.1 418.4Z"/>
<path fill="#287c8e" d="M453.8 392.9L459.8 392.9L463.3 394.5L457.2 394.5Z"/>
<path fill="#2d708e" d="M533.6 407.7L539.7 409.5L542.9 410.1L536.8 408.3Z"/>
<path fill="#34608d" d="M589.5 425.2L595.7 427.9L598.8 427.8L592.6 425.2Z"/>
<path fill="#27808e" d="M385.5 389.4L391.3 387.5L395 390.7L389.2 392.5Z"/>
<path fill="#277f8e" d="M346.8 390.4L352.5 387.1L356.4 391.7L350.7 394.7Z"/>
<path fill="#277e8e" d="M308 390.4L313.6 385.2L317.8 394.5L312.2 398.9Z"/>
<path fill="#375a8c" d="M610.1 432.8L616.2 435.6L619.3 435.3L613.2 432.5Z"/>
<path fill="#2c738e" d="M518.8 404L524.9 405.5L528.2 406.3L522 404.8Z"/>
<path fill="#2f6b8e" d="M554.1 413.6L560.3 415.8L563.5 416.2L557.3 414Z"/>
<path fill="#26818e" d="M400.2 389.1L406.1 387.6L409.8 390.5L403.9 391.9Z"/>
<path fill="#2a768e" d="M503.9 400.6L510.1 401.8L513.4 402.8L507.2 401.6Z"/>
<path fill="#31668e" d="M574.7 420.3L580.9 422.8L584.1 423L577.9 420.5Z"/>
<path fill="#27808e" d="M322.8 390.1L328.4 385.7L332.5 392.4L326.8 396.3Z"/>
<path fill="#26818e" d="M415 389.3L421 388.2L424.6 390.8L418.6 391.8Z"/>
<path fill="#26818e" d="M361.5 388.9L367.3 386.1L371.1 390.3L365.3 392.8Z"/>
<path fill="#29798e" d="M489.1 397.6L495.3 398.5L498.6 399.7L492.4 398.8Z"/>
<path fill="#2d708e" d="M539.3 409.4L545.5 411.3L548.7 411.9L542.6 410Z"/>
<path fill="#34608d" d="M595.3 427.7L601.5 430.4L604.6 430.3L598.5 427.6Z"/>
<path fill="#26818e" d="M429.8 390.1L435.8 389.4L439.4 391.7L433.4 392.2Z"/>
<path fill="#287c8e" d="M474.3 395.1L480.4 395.5L483.8 397L477.7 396.5Z"/>
<path fill="#38598c" d="M615.9 435.4L622.1 438.3L625.2 438L619 435.1Z"/>
<path fill="#27808e" d="M444.6 391.3L450.7 391L454.2 393L448.1 393.2Z"/>
<path fill="#277e8e" d="M459.5 392.9L465.5 393L469 394.8L462.9 394.6Z"/>
<path fill="#2f6b8e" d="M559.9 415.6L566.1 417.9L569.3 418.3L563.1 416Z"/>
<path fill="#2c738e" d="M524.5 405.4L530.7 407L533.9 407.8L527.8 406.2Z"/>
<path fill="#26828e" d="M376.3 388L382.1 385.7L385.9 389.5L380 391.6Z"/>
<path fill="#26828e" d="M337.5 388.7L343.2 384.8L347.2 390.5L341.5 393.8Z"/>
<path fill="#32658e" d="M580.5 422.6L586.7 425.2L589.9 425.3L583.7 422.8Z"/>
<path fill="#2a778e" d="M509.7 401.7L515.9 403.1L519.1 404.1L513 402.7Z"/>
<path fill="#355f8d" d="M601.1 430.2L607.3 433L610.4 432.9L604.3 430.1Z"/>
<path fill="#25838e" d="M391 387.6L396.9 385.7L400.6 389.2L394.8 390.9Z"/>
<path fill="#2d708e" d="M545.1 411.1L551.3 413.2L554.5 413.7L548.4 411.7Z"/>
<path fill="#297a8e" d="M494.9 398.4L501 399.4L504.3 400.7L498.2 399.7Z"/>
<path fill="#25838e" d="M405.8 387.7L411.8 386.3L415.4 389.4L409.5 390.7Z"/>
<path fill="#25848e" d="M352.2 387.2L358 384L361.9 389L356.1 391.9Z"/>
<path fill="#306a8e" d="M565.8 417.8L571.9 420.1L575.1 420.5L568.9 418.1Z"/>
<path fill="#287d8e" d="M480 395.6L486.2 396.2L489.5 397.7L483.4 397Z"/>
<path fill="#25838e" d="M420.7 388.4L426.6 387.4L430.2 390.1L424.3 391Z"/>
<path fill="#2c738e" d="M530.3 406.9L536.5 408.7L539.7 409.5L533.6 407.7Z"/>
<path fill="#27808e" d="M465.2 393.1L471.3 393.3L474.7 395.1L468.6 394.8Z"/>
<path fill="#32648e" d="M586.4 425L592.6 427.7L595.7 427.8L589.5 425.1Z"/>
<path fill="#26828e" d="M435.5 389.5L441.5 388.9L445 391.3L439 391.8Z"/>
<path fill="#25858e" d="M313.4 385.3L319 380.1L323.2 390.3L317.6 394.6Z"/>
<path fill="#26828e" d="M450.3 391L456.4 390.9L459.9 393L453.8 393.1Z"/>
<path fill="#355e8d" d="M607 432.8L613.2 435.7L616.3 435.5L610.1 432.7Z"/>
<path fill="#25858e" d="M367 386.3L372.8 383.5L376.6 388.1L370.9 390.5Z"/>
<path fill="#2a778e" d="M515.5 403L521.7 404.5L524.9 405.5L518.7 404Z"/>
<path fill="#2e6f8e" d="M550.9 413L557.1 415.2L560.3 415.8L554.2 413.6Z"/>
<path fill="#24868e" d="M328.2 385.9L333.8 381.5L337.9 388.8L332.2 392.6Z"/>
<path fill="#306a8e" d="M571.6 420L577.8 422.5L580.9 422.8L574.8 420.3Z"/>
<path fill="#24868e" d="M381.8 385.8L387.7 383.6L391.4 387.7L385.6 389.7Z"/>
<path fill="#297b8e" d="M500.6 399.4L506.8 400.5L510.1 401.8L503.9 400.7Z"/>
<path fill="#33638d" d="M592.2 427.5L598.4 430.3L601.5 430.3L595.4 427.6Z"/>
<path fill="#2c738e" d="M536.1 408.6L542.3 410.5L545.5 411.3L539.3 409.4Z"/>
<path fill="#365c8d" d="M612.8 435.5L619 438.5L622.1 438.3L616 435.3Z"/>
<path fill="#24878e" d="M396.6 385.9L402.5 384.1L406.2 387.8L400.3 389.3Z"/>
<path fill="#277f8e" d="M485.8 396.2L491.9 397L495.3 398.5L489.1 397.7Z"/>
<path fill="#23888e" d="M343 385L348.7 381.2L352.6 387.3L346.9 390.6Z"/>
<path fill="#24878e" d="M411.5 386.5L417.4 385.2L421.1 388.4L415.1 389.6Z"/>
<path fill="#26818e" d="M470.9 393.4L477 393.8L480.4 395.6L474.3 395.2Z"/>
<path fill="#2e6f8e" d="M556.8 415.1L562.9 417.3L566.1 417.9L560 415.6Z"/>
<path fill="#24868e" d="M426.3 387.5L432.3 386.7L435.9 389.5L429.9 390.3Z"/>
<path fill="#25838e" d="M456 391L462.1 391L465.6 393.2L459.5 393.1Z"/>
<path fill="#2a788e" d="M521.3 404.4L527.5 406L530.7 407L524.5 405.4Z"/>
<path fill="#25858e" d="M441.2 389L447.2 388.6L450.7 391.1L444.7 391.4Z"/>
<path fill="#30698e" d="M577.4 422.3L583.6 424.9L586.8 425.1L580.6 422.6Z"/>
<path fill="#23898e" d="M357.7 384.1L363.5 381L367.4 386.3L361.6 389.2Z"/>
<path fill="#33628d" d="M598.1 430.1L604.2 433L607.4 432.9L601.2 430.1Z"/>
<path fill="#287c8e" d="M506.4 400.5L512.6 401.8L515.9 403.1L509.7 401.8Z"/>
<path fill="#2c738e" d="M541.9 410.4L548.1 412.4L551.3 413.2L545.1 411.1Z"/>
<path fill="#238a8d" d="M372.6 383.7L378.4 381.1L382.2 385.9L376.4 388.2Z"/>
<path fill="#27808e" d="M491.5 397L497.7 397.9L501 399.5L494.9 398.5Z"/>
<path fill="#2e6f8e" d="M562.6 417.2L568.8 419.6L572 420.1L565.8 417.7Z"/>
<path fill="#228c8d" d="M318.8 380.2L324.4 375L328.6 386L323 390.4Z"/>
<path fill="#31688e" d="M583.2 424.7L589.4 427.4L592.6 427.6L586.4 425Z"/>
<path fill="#228b8d" d="M387.4 383.7L393.3 381.6L397 386L391.2 387.8Z"/>
<path fill="#2a788e" d="M527.1 405.9L533.3 407.7L536.5 408.7L530.3 406.9Z"/>
<path fill="#34618d" d="M603.9 432.8L610.1 435.7L613.2 435.6L607 432.7Z"/>
<path fill="#26828e" d="M476.7 393.8L482.8 394.4L486.2 396.3L480 395.7Z"/>
<path fill="#228c8d" d="M333.6 381.6L339.3 377.2L343.3 385.1L337.7 388.9Z"/>
<path fill="#228b8d" d="M402.3 384.3L408.2 382.7L411.9 386.5L406 388Z"/>
<path fill="#25858e" d="M461.8 391L467.9 391.2L471.3 393.5L465.2 393.2Z"/>
<path fill="#238a8d" d="M417.1 385.3L423.1 384.2L426.7 387.6L420.8 388.6Z"/>
<path fill="#24878e" d="M446.9 388.7L452.9 388.4L456.4 391.1L450.4 391.2Z"/>
<path fill="#23898e" d="M432 386.8L438 386.1L441.6 389.1L435.6 389.7Z"/>
<path fill="#2c738e" d="M547.7 412.3L553.9 414.4L557.1 415.2L551 413Z"/>
<path fill="#287c8e" d="M512.2 401.7L518.4 403.2L521.7 404.5L515.5 403Z"/>
<path fill="#218e8d" d="M348.4 381.4L354.2 377.7L358.1 384.2L352.4 387.5Z"/>
<path fill="#2e6e8e" d="M568.4 419.4L574.6 422L577.8 422.4L571.6 419.9Z"/>
<path fill="#31678e" d="M589.1 427.2L595.3 430.1L598.4 430.2L592.2 427.4Z"/>
<path fill="#34608d" d="M609.8 435.5L616 438.6L619.1 438.4L612.9 435.4Z"/>
<path fill="#27808e" d="M497.3 397.9L503.5 399L506.8 400.6L500.6 399.5Z"/>
<path fill="#2a788e" d="M532.9 407.6L539.1 409.5L542.3 410.5L536.1 408.6Z"/>
<path fill="#218f8d" d="M363.3 381.1L369.1 378L372.9 383.8L367.2 386.5Z"/>
<path fill="#25838e" d="M482.4 394.4L488.6 395.1L491.9 397.1L485.8 396.3Z"/>
<path fill="#2c728e" d="M553.6 414.3L559.8 416.6L563 417.3L556.8 415Z"/>
<path fill="#218f8d" d="M378.1 381.2L384 378.7L387.8 383.8L382 386Z"/>
<path fill="#2e6d8e" d="M574.3 421.8L580.5 424.4L583.6 424.8L577.4 422.2Z"/>
<path fill="#24868e" d="M467.5 391.3L473.6 391.6L477 393.9L470.9 393.5Z"/>
<path fill="#287d8e" d="M518 403.1L524.2 404.7L527.5 406L521.3 404.4Z"/>
<path fill="#31668e" d="M594.9 429.9L601.1 432.8L604.3 432.9L598.1 430Z"/>
<path fill="#218f8d" d="M393 381.8L398.9 379.8L402.6 384.4L396.8 386.1Z"/>
<path fill="#23898e" d="M452.6 388.5L458.7 388.4L462.2 391.1L456.1 391.2Z"/>
<path fill="#218e8d" d="M407.9 382.8L413.8 381.3L417.5 385.4L411.6 386.7Z"/>
<path fill="#228b8d" d="M437.7 386.2L443.7 385.7L447.3 388.8L441.3 389.2Z"/>
<path fill="#228d8d" d="M422.8 384.3L428.8 383.3L432.4 386.9L426.4 387.7Z"/>
<path fill="#2a788e" d="M538.7 409.3L544.9 411.4L548.1 412.4L541.9 410.3Z"/>
<path fill="#26818e" d="M503.1 399L509.3 400.2L512.6 401.8L506.4 400.6Z"/>
<path fill="#20938c" d="M324.2 375.1L329.8 369.9L334 381.8L328.4 386.1Z"/>
<path fill="#2c728e" d="M559.4 416.4L565.6 418.9L568.8 419.6L562.6 417.1Z"/>
<path fill="#20928c" d="M339.1 377.4L344.8 373.1L348.8 381.5L343.1 385.2Z"/>
<path fill="#2f6c8e" d="M580.1 424.2L586.3 427L589.5 427.4L583.3 424.7Z"/>
<path fill="#32658e" d="M600.8 432.6L607 435.6L610.1 435.6L603.9 432.7Z"/>
<path fill="#25848e" d="M488.2 395.1L494.3 396L497.7 398L491.5 397.1Z"/>
<path fill="#287d8e" d="M523.8 404.6L530 406.4L533.3 407.7L527.1 405.9Z"/>
<path fill="#20928c" d="M353.9 377.8L359.7 374.2L363.7 381.2L357.9 384.4Z"/>
<path fill="#23888e" d="M473.3 391.6L479.4 392.1L482.8 394.5L476.7 394Z"/>
<path fill="#2a788e" d="M544.5 411.3L550.7 413.4L553.9 414.4L547.7 412.2Z"/>
<path fill="#20938c" d="M368.8 378.2L374.6 375.2L378.5 381.3L372.7 383.9Z"/>
<path fill="#228b8d" d="M458.3 388.5L464.4 388.6L467.9 391.4L461.8 391.2Z"/>
<path fill="#26828e" d="M508.9 400.2L515.1 401.6L518.4 403.2L512.2 401.8Z"/>
<path fill="#2c718e" d="M565.2 418.7L571.5 421.3L574.6 421.9L568.4 419.4Z"/>
<path fill="#20938c" d="M383.7 378.8L389.6 376.4L393.4 381.9L387.5 384Z"/>
<path fill="#32648e" d="M606.7 435.4L612.9 438.5L616 438.5L609.8 435.4Z"/>
<path fill="#2f6b8e" d="M586 426.8L592.2 429.7L595.3 430L589.1 427.2Z"/>
<path fill="#218e8d" d="M443.4 385.8L449.4 385.4L453 388.6L447 388.9Z"/>
<path fill="#20928c" d="M398.6 379.9L404.5 378.1L408.3 382.9L402.4 384.5Z"/>
<path fill="#21908d" d="M428.5 383.4L434.5 382.6L438.1 386.3L432.1 387Z"/>
<path fill="#20928c" d="M413.6 381.5L419.5 380.1L423.2 384.4L417.2 385.5Z"/>
<path fill="#287d8e" d="M529.6 406.3L535.8 408.2L539.1 409.5L532.9 407.6Z"/>
<path fill="#25858e" d="M494 396L500.1 397L503.5 399.1L497.3 398Z"/>
<path fill="#2a778e" d="M550.4 413.3L556.6 415.6L559.8 416.6L553.6 414.3Z"/>
<path fill="#2d718e" d="M571.1 421.1L577.3 423.8L580.5 424.4L574.3 421.7Z"/>
<path fill="#23898e" d="M479 392.2L485.2 392.8L488.6 395.2L482.4 394.6Z"/>
<path fill="#306a8e" d="M591.8 429.5L598 432.4L601.2 432.7L595 429.8Z"/>
<path fill="#26828e" d="M514.7 401.5L520.9 403.1L524.2 404.7L518 403.2Z"/>
<path fill="#228d8d" d="M464.1 388.6L470.2 388.9L473.7 391.8L467.6 391.5Z"/>
<path fill="#1f998a" d="M344.6 373.2L350.3 369L354.3 378L348.6 381.6Z"/>
<path fill="#1f9a8a" d="M329.6 370L335.2 364.9L339.4 377.6L333.8 381.9Z"/>
<path fill="#287d8e" d="M535.5 408.1L541.7 410.1L544.9 411.4L538.7 409.3Z"/>
<path fill="#21908d" d="M449.1 385.5L455.2 385.3L458.7 388.6L452.7 388.7Z"/>
<path fill="#1f988b" d="M359.5 374.4L365.2 370.9L369.2 378.3L363.4 381.4Z"/>
<path fill="#24868e" d="M499.8 397L506 398.2L509.3 400.3L503.1 399.1Z"/>
<path fill="#2a778e" d="M556.2 415.5L562.4 417.9L565.6 418.8L559.4 416.4Z"/>
<path fill="#30698e" d="M597.7 432.2L603.9 435.3L607.1 435.5L600.8 432.5Z"/>
<path fill="#20928c" d="M434.2 382.7L440.2 382L443.8 385.9L437.8 386.4Z"/>
<path fill="#1f988b" d="M374.4 375.3L380.2 372.5L384.1 379L378.3 381.4Z"/>
<path fill="#2d718e" d="M577 423.6L583.2 426.4L586.3 426.9L580.1 424.2Z"/>
<path fill="#1f948c" d="M419.2 380.3L425.2 379.1L428.9 383.5L422.9 384.5Z"/>
<path fill="#1f978b" d="M389.3 376.6L395.2 374.3L399 380L393.1 382Z"/>
<path fill="#1f968b" d="M404.3 378.2L410.2 376.5L413.9 381.6L408 383Z"/>
<path fill="#238a8d" d="M484.8 392.8L491 393.6L494.4 396.1L488.2 395.3Z"/>
<path fill="#26828e" d="M520.5 403L526.7 404.8L530 406.4L523.8 404.7Z"/>
<path fill="#287c8e" d="M541.3 410L547.5 412.2L550.7 413.4L544.5 411.3Z"/>
<path fill="#31688e" d="M603.6 435.1L609.8 438.2L612.9 438.4L606.7 435.3Z"/>
<path fill="#218e8d" d="M469.9 388.9L476 389.3L479.4 392.3L473.3 391.8Z"/>
<path fill="#2a768e" d="M562.1 417.8L568.3 420.4L571.5 421.2L565.3 418.7Z"/>
<path fill="#2e6f8e" d="M582.8 426.2L589 429.1L592.2 429.6L586 426.8Z"/>
<path fill="#24868e" d="M505.6 398.2L511.8 399.6L515.1 401.7L508.9 400.3Z"/>
<path fill="#20928c" d="M454.9 385.4L461 385.3L464.5 388.8L458.4 388.7Z"/>
<path fill="#26828e" d="M526.4 404.7L532.6 406.6L535.8 408.2L529.6 406.3Z"/>
<path fill="#1f948c" d="M439.9 382.1L445.9 381.6L449.5 385.6L443.5 386Z"/>
<path fill="#228b8d" d="M490.6 393.7L496.8 394.6L500.1 397.2L494 396.2Z"/>
<path fill="#287c8e" d="M547.1 412.1L553.4 414.4L556.6 415.6L550.4 413.3Z"/>
<path fill="#2e6e8e" d="M588.7 428.9L594.9 431.9L598.1 432.4L591.9 429.4Z"/>
<path fill="#1f978b" d="M424.9 379.2L430.9 378.2L434.6 382.8L428.6 383.6Z"/>
<path fill="#2b758e" d="M567.9 420.2L574.2 422.9L577.3 423.7L571.1 421.1Z"/>
<path fill="#1f9f88" d="M350.1 369.1L355.8 365L359.8 374.5L354.1 378.1Z"/>
<path fill="#1f9e89" d="M365 371L370.8 367.6L374.8 375.5L369 378.4Z"/>
<path fill="#1f998a" d="M409.9 376.6L415.9 375.1L419.6 380.4L413.7 381.7Z"/>
<path fill="#1e9d89" d="M380 372.6L385.8 369.9L389.7 376.7L383.9 379.1Z"/>
<path fill="#1e9b8a" d="M395 374.5L400.9 372.4L404.7 378.3L398.8 380.2Z"/>
<path fill="#1fa187" d="M335 365L340.7 359.9L344.9 373.4L339.2 377.6Z"/>
<path fill="#21908d" d="M475.6 389.4L481.8 390L485.2 393L479.1 392.4Z"/>
<path fill="#24878e" d="M511.4 399.6L517.6 401.1L520.9 403.2L514.7 401.6Z"/>
<path fill="#26828e" d="M532.2 406.5L538.4 408.5L541.7 410.1L535.4 408.1Z"/>
<path fill="#2e6d8e" d="M594.6 431.7L600.8 434.8L604 435.2L597.7 432.2Z"/>
<path fill="#20938c" d="M460.7 385.4L466.7 385.5L470.2 389.1L464.2 388.9Z"/>
<path fill="#297b8e" d="M553 414.3L559.2 416.7L562.4 417.9L556.2 415.5Z"/>
<path fill="#2b748e" d="M573.8 422.7L580 425.6L583.2 426.3L577 423.6Z"/>
<path fill="#228c8d" d="M496.4 394.7L502.6 395.8L506 398.4L499.8 397.2Z"/>
<path fill="#1f968b" d="M445.7 381.7L451.7 381.4L455.3 385.5L449.2 385.7Z"/>
<path fill="#24878e" d="M517.2 401.1L523.5 402.8L526.7 404.8L520.5 403.1Z"/>
<path fill="#1f9a8a" d="M430.6 378.3L436.6 377.5L440.3 382.3L434.3 382.9Z"/>
<path fill="#2f6c8e" d="M600.5 434.6L606.7 437.9L609.8 438.2L603.6 435Z"/>
<path fill="#21918c" d="M481.4 390L487.6 390.8L491 393.8L484.9 393Z"/>
<path fill="#26828e" d="M538.1 408.4L544.3 410.6L547.5 412.2L541.3 410Z"/>
<path fill="#2c738e" d="M579.7 425.4L585.9 428.3L589.1 429.1L582.9 426.2Z"/>
<path fill="#1e9d89" d="M415.6 375.2L421.6 373.9L425.3 379.4L419.4 380.5Z"/>
<path fill="#297b8e" d="M558.9 416.6L565.1 419.2L568.3 420.3L562.1 417.8Z"/>
<path fill="#1f9f88" d="M400.6 372.5L406.5 370.6L410.3 376.8L404.4 378.5Z"/>
<path fill="#1fa187" d="M385.6 370L391.5 367.5L395.3 374.6L389.5 376.8Z"/>
<path fill="#1fa287" d="M370.6 367.8L376.4 364.5L380.4 372.8L374.6 375.6Z"/>
<path fill="#1f948c" d="M466.4 385.6L472.5 385.9L476 389.5L469.9 389.2Z"/>
<path fill="#228c8d" d="M502.3 395.8L508.5 397.2L511.8 399.7L505.6 398.4Z"/>
<path fill="#20a486" d="M355.6 365.1L361.3 361.1L365.4 371.2L359.6 374.6Z"/>
<path fill="#24878e" d="M523.1 402.7L529.3 404.6L532.6 406.6L526.3 404.8Z"/>
<path fill="#2c728e" d="M585.6 428.2L591.8 431.2L595 431.9L588.7 428.9Z"/>
<path fill="#22a884" d="M340.5 360L346.2 355L350.4 369.3L344.7 373.5Z"/>
<path fill="#1f998a" d="M451.4 381.5L457.5 381.3L461 385.6L455 385.6Z"/>
<path fill="#26818e" d="M543.9 410.5L550.2 412.8L553.4 414.4L547.1 412.1Z"/>
<path fill="#297a8e" d="M564.7 419L571 421.8L574.2 422.9L567.9 420.2Z"/>
<path fill="#20928c" d="M487.2 390.8L493.4 391.7L496.8 394.8L490.6 393.9Z"/>
<path fill="#1e9c89" d="M436.4 377.6L442.4 376.9L446 381.9L440 382.4Z"/>
<path fill="#228d8d" d="M508.1 397.2L514.3 398.6L517.6 401.2L511.4 399.7Z"/>
<path fill="#2d718e" d="M591.5 431L597.7 434.2L600.8 434.8L594.6 431.7Z"/>
<path fill="#1fa088" d="M421.3 374L427.3 372.8L431 378.5L425.1 379.5Z"/>
<path fill="#1f968b" d="M472.2 386L478.3 386.5L481.8 390.2L475.7 389.6Z"/>
<path fill="#29798e" d="M570.6 421.6L576.9 424.5L580 425.5L573.8 422.7Z"/>
<path fill="#24878e" d="M528.9 404.5L535.2 406.5L538.4 408.6L532.2 406.5Z"/>
<path fill="#26818e" d="M549.8 412.7L556 415.2L559.2 416.7L553 414.3Z"/>
<path fill="#1fa287" d="M406.3 370.7L412.2 368.9L416 375.4L410.1 376.9Z"/>
<path fill="#21a585" d="M391.3 367.6L397.1 365.2L401 372.7L395.1 374.7Z"/>
<path fill="#1e9b8a" d="M457.2 381.4L463.3 381.4L466.8 385.8L460.7 385.6Z"/>
<path fill="#20928c" d="M493.1 391.8L499.2 392.9L502.6 396L496.5 394.9Z"/>
<path fill="#22a884" d="M376.2 364.6L382 361.6L386 370.2L380.1 372.9Z"/>
<path fill="#2d708e" d="M597.4 434L603.6 437.3L606.7 437.8L600.5 434.6Z"/>
<path fill="#25ab82" d="M361.1 361.2L366.9 357.3L370.9 368L365.2 371.3Z"/>
<path fill="#228d8d" d="M513.9 398.6L520.2 400.3L523.4 402.9L517.2 401.2Z"/>
<path fill="#2a788e" d="M576.5 424.3L582.8 427.3L585.9 428.3L579.7 425.4Z"/>
<path fill="#27808e" d="M555.7 415.1L561.9 417.7L565.1 419.2L558.9 416.6Z"/>
<path fill="#24868e" d="M534.8 406.5L541.1 408.7L544.3 410.7L538 408.5Z"/>
<path fill="#1f9f88" d="M442.1 377L448.2 376.6L451.8 381.6L445.8 382Z"/>
<path fill="#1f978b" d="M478 386.6L484.2 387.2L487.6 391L481.5 390.2Z"/>
<path fill="#28ae80" d="M346 355.1L351.7 350.2L355.9 365.3L350.2 369.4Z"/>
<path fill="#1fa287" d="M427.1 372.9L433.1 371.9L436.7 377.8L430.8 378.6Z"/>
<path fill="#20928c" d="M498.9 392.9L505.1 394.2L508.4 397.3L502.3 396Z"/>
<path fill="#2a768e" d="M582.4 427.1L588.7 430.3L591.8 431.2L585.6 428.1Z"/>
<path fill="#1e9c89" d="M463 381.5L469.1 381.7L472.6 386.2L466.5 385.9Z"/>
<path fill="#277f8e" d="M561.5 417.6L567.8 420.4L571 421.8L564.7 419Z"/>
<path fill="#21a685" d="M412 369L417.9 367.4L421.7 374.2L415.8 375.5Z"/>
<path fill="#228d8d" d="M519.8 400.3L526 402.1L529.3 404.7L523.1 402.8Z"/>
<path fill="#24868e" d="M540.7 408.6L546.9 410.9L550.2 412.9L543.9 410.5Z"/>
<path fill="#24aa83" d="M396.9 365.3L402.8 363.1L406.7 370.9L400.8 372.8Z"/>
<path fill="#1f988b" d="M483.9 387.3L490 388.1L493.4 391.9L487.3 391Z"/>
<path fill="#1fa188" d="M447.9 376.7L454 376.4L457.5 381.6L451.5 381.7Z"/>
<path fill="#2b758e" d="M588.3 430.1L594.6 433.3L597.7 434.1L591.5 431Z"/>
<path fill="#26ad81" d="M381.8 361.7L387.7 358.7L391.6 367.8L385.8 370.3Z"/>
<path fill="#277e8e" d="M567.4 420.2L573.7 423.1L576.9 424.5L570.6 421.6Z"/>
<path fill="#20938c" d="M504.7 394.2L511 395.7L514.3 398.8L508.1 397.3Z"/>
<path fill="#25858e" d="M546.6 410.8L552.8 413.3L556 415.2L549.8 412.8Z"/>
<path fill="#228d8d" d="M525.7 402.1L531.9 404.1L535.2 406.6L528.9 404.6Z"/>
<path fill="#2ab07f" d="M366.7 357.4L372.5 353.7L376.5 364.9L370.8 368Z"/>
<path fill="#21a585" d="M432.8 372L438.8 371.2L442.5 377.2L436.5 377.9Z"/>
<path fill="#1f9e89" d="M468.8 381.8L474.9 382.2L478.4 386.7L472.3 386.2Z"/>
<path fill="#2b748e" d="M594.2 433.1L600.5 436.4L603.6 437.2L597.4 433.9Z"/>
<path fill="#24aa83" d="M417.7 367.5L423.7 366.2L427.4 373.1L421.5 374.3Z"/>
<path fill="#287d8e" d="M573.3 423L579.6 426L582.8 427.3L576.5 424.3Z"/>
<path fill="#1f998a" d="M489.7 388.2L495.9 389.2L499.3 393.1L493.1 392Z"/>
<path fill="#31b57b" d="M351.5 350.2L357.2 345.5L361.4 361.4L355.7 365.4Z"/>
<path fill="#25848e" d="M552.4 413.2L558.7 415.9L561.9 417.7L555.7 415.1Z"/>
<path fill="#20938c" d="M510.6 395.7L516.8 397.3L520.1 400.5L513.9 398.8Z"/>
<path fill="#1fa287" d="M453.7 376.5L459.8 376.4L463.3 381.7L457.3 381.7Z"/>
<path fill="#228d8d" d="M531.5 404.1L537.8 406.3L541 408.7L534.8 406.6Z"/>
<path fill="#27ad81" d="M402.6 363.2L408.5 361.2L412.3 369.2L406.4 370.9Z"/>
<path fill="#297b8e" d="M579.3 425.8L585.5 429L588.7 430.2L582.4 427.1Z"/>
<path fill="#1f9f88" d="M474.6 382.3L480.7 382.9L484.2 387.5L478.1 386.8Z"/>
<path fill="#2cb17e" d="M387.5 358.8L393.4 356.1L397.3 365.5L391.4 367.9Z"/>
<path fill="#22a884" d="M438.6 371.3L444.6 370.7L448.3 376.9L442.2 377.3Z"/>
<path fill="#25848e" d="M558.3 415.7L564.6 418.6L567.8 420.4L561.5 417.6Z"/>
<path fill="#1f9a8a" d="M495.5 389.3L501.7 390.5L505.1 394.4L498.9 393.1Z"/>
<path fill="#228c8d" d="M537.4 406.2L543.7 408.5L546.9 411L540.7 408.7Z"/>
<path fill="#20938c" d="M516.5 397.3L522.7 399.1L526 402.3L519.8 400.4Z"/>
<path fill="#32b67a" d="M372.3 353.8L378.1 350.2L382.2 361.9L376.4 364.9Z"/>
<path fill="#297a8e" d="M585.2 428.8L591.4 432.1L594.6 433.3L588.3 430Z"/>
<path fill="#26ad81" d="M423.5 366.2L429.4 365.1L433.2 372.2L427.2 373.2Z"/>
<path fill="#20a486" d="M459.5 376.5L465.6 376.6L469.1 382L463.1 381.8Z"/>
<path fill="#26828e" d="M564.2 418.4L570.5 421.4L573.7 423.1L567.4 420.2Z"/>
<path fill="#1fa088" d="M480.4 383L486.6 383.8L490 388.4L483.9 387.5Z"/>
<path fill="#228b8d" d="M543.3 408.5L549.6 411L552.8 413.4L546.5 410.9Z"/>
<path fill="#2cb17e" d="M408.3 361.3L414.3 359.4L418.1 367.7L412.1 369.3Z"/>
<path fill="#1f9a8a" d="M501.4 390.6L507.6 392L511 395.9L504.8 394.4Z"/>
<path fill="#2a788e" d="M591.1 431.9L597.4 435.3L600.5 436.4L594.2 433.1Z"/>
<path fill="#20938c" d="M522.4 399.1L528.6 401.1L531.9 404.2L525.6 402.2Z"/>
<path fill="#3bbb75" d="M357.1 345.5L362.8 341L367 357.7L361.3 361.5Z"/>
<path fill="#24aa83" d="M444.4 370.8L450.4 370.4L454 376.7L448 377Z"/>
<path fill="#26828e" d="M570.2 421.2L576.4 424.3L579.6 426L573.3 423Z"/>
<path fill="#32b67a" d="M393.2 356.2L399 353.6L402.9 363.4L397.1 365.6Z"/>
<path fill="#21a685" d="M465.3 376.7L471.4 377L475 382.5L468.9 382.1Z"/>
<path fill="#228b8d" d="M549.2 410.9L555.5 413.6L558.7 415.9L552.4 413.3Z"/>
<path fill="#29af7f" d="M429.2 365.1L435.2 364.2L438.9 371.5L432.9 372.3Z"/>
<path fill="#1fa188" d="M486.3 383.8L492.4 384.8L495.9 389.5L489.7 388.5Z"/>
<path fill="#20928c" d="M528.2 401.1L534.5 403.3L537.8 406.4L531.5 404.2Z"/>
<path fill="#1f9a8a" d="M507.3 392L513.5 393.6L516.8 397.5L510.6 395.9Z"/>
<path fill="#3aba76" d="M378 350.3L383.8 346.9L387.8 359.1L382 362Z"/>
<path fill="#26818e" d="M576.1 424.2L582.4 427.4L585.5 429L579.3 425.8Z"/>
<path fill="#25ac82" d="M450.2 370.5L456.2 370.3L459.8 376.7L453.8 376.8Z"/>
<path fill="#31b57b" d="M414.1 359.5L420 357.9L423.8 366.5L417.9 367.8Z"/>
<path fill="#238a8d" d="M555.1 413.5L561.4 416.3L564.6 418.6L558.3 415.8Z"/>
<path fill="#20928c" d="M534.1 403.2L540.4 405.6L543.7 408.7L537.4 406.3Z"/>
<path fill="#22a785" d="M471.2 377.1L477.3 377.6L480.8 383.2L474.7 382.6Z"/>
<path fill="#277f8e" d="M582 427.2L588.3 430.6L591.5 432.1L585.2 428.8Z"/>
<path fill="#1f9a8a" d="M513.2 393.7L519.4 395.5L522.7 399.3L516.5 397.5Z"/>
<path fill="#1fa187" d="M492.2 384.9L498.3 386.1L501.7 390.8L495.6 389.5Z"/>
<path fill="#48c16e" d="M362.7 341L368.4 336.6L372.6 354L366.9 357.7Z"/>
<path fill="#38b977" d="M398.9 353.7L404.8 351.4L408.6 361.5L402.7 363.5Z"/>
<path fill="#2db27d" d="M435 364.2L441 363.5L444.7 371L438.7 371.6Z"/>
<path fill="#23888e" d="M561 416.2L567.3 419.2L570.5 421.4L564.2 418.5Z"/>
<path fill="#277e8e" d="M587.9 430.4L594.2 433.9L597.4 435.3L591.1 431.9Z"/>
<path fill="#20928c" d="M540.1 405.6L546.3 408.1L549.6 411.1L543.3 408.6Z"/>
<path fill="#27ad81" d="M456 370.4L462.1 370.4L465.7 376.9L459.6 376.8Z"/>
<path fill="#1f9a8a" d="M519 395.5L525.3 397.5L528.6 401.3L522.4 399.3Z"/>
<path fill="#44bf70" d="M383.6 347L389.5 343.8L393.5 356.4L387.6 359.1Z"/>
<path fill="#22a884" d="M477 377.7L483.1 378.4L486.6 384.1L480.5 383.3Z"/>
<path fill="#35b779" d="M419.8 358L425.8 356.6L429.5 365.4L423.6 366.5Z"/>
<path fill="#1fa187" d="M498 386.1L504.2 387.5L507.6 392.2L501.4 390.8Z"/>
<path fill="#24878e" d="M567 419.1L573.3 422.2L576.4 424.3L570.2 421.3Z"/>
<path fill="#21918c" d="M546 408L552.3 410.8L555.5 413.7L549.2 411Z"/>
<path fill="#2fb47c" d="M440.8 363.6L446.8 363L450.5 370.7L444.5 371.1Z"/>
<path fill="#24868e" d="M572.9 422.1L579.2 425.4L582.4 427.4L576.1 424.2Z"/>
<path fill="#1f9a8a" d="M525 397.5L531.2 399.7L534.5 403.5L528.2 401.3Z"/>
<path fill="#40bd72" d="M404.6 351.4L410.5 349.3L414.4 359.8L408.5 361.6Z"/>
<path fill="#29af7f" d="M461.8 370.4L467.9 370.7L471.5 377.3L465.4 377Z"/>
<path fill="#1fa187" d="M503.9 387.6L510.1 389.2L513.5 393.9L507.3 392.3Z"/>
<path fill="#23a983" d="M482.9 378.5L489 379.5L492.5 385.1L486.4 384.1Z"/>
<path fill="#56c667" d="M368.3 336.6L374.1 332.3L378.2 350.6L372.5 354.1Z"/>
<path fill="#21908d" d="M551.9 410.7L558.2 413.5L561.4 416.4L555.1 413.6Z"/>
<path fill="#25848e" d="M578.8 425.2L585.1 428.6L588.3 430.6L582 427.2Z"/>
<path fill="#3aba76" d="M425.6 356.6L431.6 355.4L435.3 364.5L429.3 365.4Z"/>
<path fill="#1f998a" d="M530.9 399.7L537.1 402L540.4 405.8L534.1 403.4Z"/>
<path fill="#4ec36b" d="M389.3 343.8L395.2 340.9L399.2 354L393.3 356.5Z"/>
<path fill="#34b679" d="M446.6 363.1L452.7 362.7L456.3 370.6L450.3 370.8Z"/>
<path fill="#1fa287" d="M509.8 389.2L516 391L519.4 395.7L513.2 393.9Z"/>
<path fill="#218f8d" d="M557.8 413.4L564.1 416.5L567.3 419.3L561 416.3Z"/>
<path fill="#26828e" d="M584.8 428.4L591.1 432L594.2 433.8L587.9 430.4Z"/>
<path fill="#2ab07f" d="M467.7 370.7L473.8 371.2L477.3 377.9L471.2 377.4Z"/>
<path fill="#24aa83" d="M488.7 379.5L494.9 380.7L498.4 386.4L492.2 385.2Z"/>
<path fill="#48c16e" d="M410.3 349.4L416.3 347.5L420.1 358.2L414.2 359.8Z"/>
<path fill="#1f988b" d="M536.8 402L543.1 404.6L546.3 408.2L540 405.7Z"/>
<path fill="#228d8d" d="M563.8 416.4L570.1 419.6L573.2 422.3L566.9 419.1Z"/>
<path fill="#1fa187" d="M515.7 391L522 393L525.3 397.7L519.1 395.7Z"/>
<path fill="#3fbc73" d="M431.4 355.5L437.4 354.6L441.1 363.8L435.1 364.6Z"/>
<path fill="#63cb5f" d="M373.9 332.4L379.7 328.3L383.9 347.3L378.1 350.6Z"/>
<path fill="#25ab82" d="M494.6 380.7L500.8 382.1L504.2 387.8L498.1 386.4Z"/>
<path fill="#37b878" d="M452.5 362.8L458.5 362.7L462.1 370.7L456.1 370.7Z"/>
<path fill="#1f978b" d="M542.7 404.5L549 407.3L552.2 410.9L546 408.2Z"/>
<path fill="#2db27d" d="M473.5 371.3L479.7 371.9L483.2 378.7L477.1 378Z"/>
<path fill="#228c8d" d="M569.7 419.4L576 422.8L579.2 425.4L572.9 422.1Z"/>
<path fill="#58c765" d="M395 340.9L400.9 338.2L404.9 351.7L399 354Z"/>
<path fill="#1fa187" d="M521.6 393L527.9 395.2L531.2 399.9L525 397.7Z"/>
<path fill="#50c46a" d="M416.1 347.5L422.1 345.8L425.9 356.9L419.9 358.3Z"/>
<path fill="#1f968b" d="M548.7 407.2L555 410.1L558.2 413.7L551.9 410.8Z"/>
<path fill="#238a8d" d="M575.7 422.6L582 426.1L585.1 428.6L578.8 425.2Z"/>
<path fill="#25ab82" d="M500.5 382.1L506.7 383.7L510.1 389.4L504 387.9Z"/>
<path fill="#44bf70" d="M437.2 354.6L443.2 353.9L446.9 363.3L440.9 363.9Z"/>
<path fill="#2eb37c" d="M479.4 372L485.6 372.9L489.1 379.8L483 378.8Z"/>
<path fill="#3aba76" d="M458.3 362.8L464.4 362.9L468 371L461.9 370.7Z"/>
<path fill="#1fa188" d="M527.6 395.2L533.8 397.6L537.1 402.2L530.9 399.9Z"/>
<path fill="#23888e" d="M581.6 426L588 429.6L591.1 432L584.8 428.5Z"/>
<path fill="#1f958b" d="M554.6 410L560.9 413.1L564.1 416.6L557.8 413.6Z"/>
<path fill="#70cf57" d="M379.6 328.4L385.4 324.5L389.6 344.1L383.8 347.3Z"/>
<path fill="#25ab82" d="M506.5 383.8L512.7 385.6L516 391.3L509.9 389.5Z"/>
<path fill="#63cb5f" d="M400.8 338.2L406.7 335.7L410.6 349.7L404.7 351.8Z"/>
<path fill="#1fa188" d="M533.5 397.6L539.8 400.2L543 404.7L536.8 402.2Z"/>
<path fill="#2eb37c" d="M485.3 373L491.5 374.1L495 381L488.8 379.8Z"/>
<path fill="#1f948c" d="M560.6 413L566.9 416.3L570.1 419.7L563.7 416.5Z"/>
<path fill="#56c667" d="M421.9 345.9L427.9 344.5L431.7 355.8L425.7 357Z"/>
<path fill="#3bbb75" d="M464.2 363L470.3 363.3L473.9 371.5L467.8 371.1Z"/>
<path fill="#4ac16d" d="M443 353.9L449.1 353.5L452.8 363.1L446.7 363.4Z"/>
<path fill="#25ab82" d="M512.4 385.6L518.6 387.6L522 393.3L515.8 391.3Z"/>
<path fill="#20928c" d="M566.5 416.2L572.9 419.6L576 422.9L569.7 419.5Z"/>
<path fill="#1fa088" d="M539.5 400.2L545.7 403L549 407.4L542.7 404.7Z"/>
<path fill="#2fb47c" d="M491.2 374.1L497.4 375.5L500.9 382.4L494.7 381Z"/>
<path fill="#3fbc73" d="M470.1 363.4L476.2 364L479.7 372.3L473.6 371.6Z"/>
<path fill="#21918c" d="M572.5 419.5L578.8 423L582 426.2L575.6 422.7Z"/>
<path fill="#6ccd5a" d="M406.5 335.7L412.4 333.4L416.4 347.8L410.5 349.7Z"/>
<path fill="#24aa83" d="M518.3 387.6L524.5 389.8L527.9 395.5L521.7 393.3Z"/>
<path fill="#7fd34e" d="M385.3 324.5L391.1 320.9L395.3 341.2L389.4 344.2Z"/>
<path fill="#1f9e89" d="M545.4 402.9L551.7 405.9L554.9 410.3L548.6 407.4Z"/>
<path fill="#5cc863" d="M427.7 344.5L433.7 343.3L437.5 354.9L431.5 355.8Z"/>
<path fill="#4ec36b" d="M448.9 353.5L454.9 353.3L458.6 363L452.6 363.1Z"/>
<path fill="#218f8d" d="M578.5 422.9L584.8 426.6L587.9 429.7L581.6 426.1Z"/>
<path fill="#2fb47c" d="M497.1 375.5L503.3 377.1L506.8 384L500.6 382.4Z"/>
<path fill="#1e9d89" d="M551.4 405.8L557.7 409L560.9 413.3L554.6 410.2Z"/>
<path fill="#24aa83" d="M524.3 389.9L530.5 392.3L533.8 397.9L527.6 395.5Z"/>
<path fill="#40bd72" d="M476 364L482.1 364.9L485.6 373.2L479.5 372.3Z"/>
<path fill="#52c569" d="M454.7 353.3L460.8 353.3L464.5 363.2L458.4 363.1Z"/>
<path fill="#1e9b8a" d="M557.3 408.9L563.7 412.2L566.8 416.4L560.5 413.2Z"/>
<path fill="#63cb5f" d="M433.5 343.4L439.5 342.4L443.3 354.2L437.3 354.9Z"/>
<path fill="#2fb47c" d="M503.1 377.1L509.3 378.9L512.7 385.9L506.5 384.1Z"/>
<path fill="#75d054" d="M412.3 333.5L418.3 331.5L422.1 346.2L416.2 347.9Z"/>
<path fill="#23a983" d="M530.2 392.3L536.5 394.9L539.8 400.4L533.5 397.9Z"/>
<path fill="#8bd646" d="M391 321L396.9 317.6L401 338.5L395.1 341.3Z"/>
<path fill="#40bd72" d="M481.9 364.9L488 366L491.5 374.4L485.4 373.3Z"/>
<path fill="#1f9a8a" d="M563.3 412.2L569.7 415.6L572.8 419.7L566.5 416.3Z"/>
<path fill="#22a884" d="M536.2 394.9L542.5 397.7L545.7 403.2L539.5 400.5Z"/>
<path fill="#2fb47c" d="M509 379L515.2 381L518.6 387.9L512.4 385.9Z"/>
<path fill="#56c667" d="M460.6 353.4L466.7 353.6L470.3 363.7L464.3 363.3Z"/>
<path fill="#1f988b" d="M569.3 415.5L575.6 419.2L578.8 423.1L572.5 419.6Z"/>
<path fill="#69cd5b" d="M439.4 342.5L445.4 341.8L449.1 353.8L443.1 354.3Z"/>
<path fill="#7fd34e" d="M418.1 331.5L424.1 329.7L427.9 344.8L422 346.2Z"/>
<path fill="#42be71" d="M487.8 366.1L493.9 367.4L497.4 375.8L491.3 374.4Z"/>
<path fill="#21a685" d="M542.2 397.7L548.4 400.7L551.7 406.1L545.4 403.2Z"/>
<path fill="#2fb47c" d="M515 381L521.2 383.2L524.6 390.1L518.4 387.9Z"/>
<path fill="#1f968b" d="M575.3 419.1L581.6 422.9L584.8 426.7L578.4 423Z"/>
<path fill="#9bd93c" d="M396.8 317.6L402.7 314.5L406.7 336.1L400.9 338.6Z"/>
<path fill="#58c765" d="M466.5 353.7L472.6 354.2L476.2 364.3L470.2 363.7Z"/>
<path fill="#21a585" d="M548.1 400.7L554.4 403.9L557.7 409.2L551.4 406.1Z"/>
<path fill="#42be71" d="M493.7 367.4L499.9 369L503.4 377.4L497.2 375.8Z"/>
<path fill="#2eb37c" d="M520.9 383.3L527.2 385.7L530.5 392.6L524.3 390.2Z"/>
<path fill="#70cf57" d="M445.2 341.8L451.3 341.4L455 353.6L449 353.9Z"/>
<path fill="#20a386" d="M554.1 403.9L560.4 407.2L563.6 412.4L557.3 409.2Z"/>
<path fill="#89d548" d="M423.9 329.8L429.9 328.3L433.8 343.7L427.8 344.8Z"/>
<path fill="#5ac864" d="M472.4 354.3L478.6 355L482.1 365.2L476 364.4Z"/>
<path fill="#2db27d" d="M526.9 385.8L533.2 388.4L536.5 395.2L530.3 392.6Z"/>
<path fill="#42be71" d="M499.7 369L505.9 370.8L509.3 379.2L503.2 377.5Z"/>
<path fill="#1fa287" d="M560.1 407.2L566.4 410.7L569.6 415.8L563.3 412.4Z"/>
<path fill="#a8db34" d="M402.6 314.5L408.5 311.7L412.5 333.8L406.6 336.1Z"/>
<path fill="#75d054" d="M451.1 341.5L457.2 341.3L460.9 353.7L454.8 353.7Z"/>
<path fill="#2cb17e" d="M532.9 388.4L539.1 391.3L542.4 398L536.2 395.2Z"/>
<path fill="#1fa188" d="M566.1 410.7L572.4 414.4L575.6 419.3L569.3 415.8Z"/>
<path fill="#5cc863" d="M478.4 355.1L484.5 356.1L488.1 366.4L482 365.3Z"/>
<path fill="#42be71" d="M505.6 370.9L511.8 372.9L515.3 381.3L509.1 379.3Z"/>
<path fill="#90d743" d="M429.8 328.3L435.8 327.1L439.6 342.8L433.6 343.7Z"/>
<path fill="#1f9e89" d="M572.1 414.3L578.5 418.2L581.6 423L575.3 419.3Z"/>
<path fill="#2ab07f" d="M538.9 391.3L545.1 394.4L548.4 401L542.2 398Z"/>
<path fill="#7ad151" d="M457 341.4L463.1 341.5L466.8 354L460.7 353.7Z"/>
<path fill="#42be71" d="M511.6 372.9L517.8 375.2L521.2 383.6L515 381.3Z"/>
<path fill="#5ec962" d="M484.3 356.1L490.5 357.4L494 367.7L487.9 366.4Z"/>
<path fill="#b2dd2d" d="M408.4 311.7L414.3 309.2L418.3 331.8L412.4 333.8Z"/>
<path fill="#28ae80" d="M544.9 394.4L551.2 397.7L554.4 404.1L548.1 401Z"/>
<path fill="#98d83e" d="M435.7 327.1L441.7 326.2L445.5 342.1L439.5 342.8Z"/>
<path fill="#40bd72" d="M517.6 375.2L523.8 377.7L527.2 386L521 383.6Z"/>
<path fill="#26ad81" d="M550.9 397.7L557.2 401.1L560.4 407.5L554.1 404.1Z"/>
<path fill="#7cd250" d="M463 341.5L469.1 341.9L472.7 354.6L466.6 354Z"/>
<path fill="#5ec962" d="M490.3 357.5L496.4 359L499.9 369.3L493.8 367.8Z"/>
<path fill="#25ab82" d="M556.9 401.1L563.2 404.7L566.4 411L560.1 407.5Z"/>
<path fill="#3fbc73" d="M523.6 377.8L529.8 380.5L533.2 388.7L527 386.1Z"/>
<path fill="#c0df25" d="M414.2 309.2L420.1 306.9L424.1 330.1L418.2 331.9Z"/>
<path fill="#a0da39" d="M441.6 326.2L447.6 325.6L451.4 341.8L445.3 342.2Z"/>
<path fill="#5ec962" d="M496.3 359.1L502.4 360.9L505.9 371.2L499.8 369.4Z"/>
<path fill="#23a983" d="M562.9 404.7L569.2 408.5L572.4 414.6L566.1 411Z"/>
<path fill="#7fd34e" d="M468.9 342L475 342.7L478.6 355.4L472.5 354.6Z"/>
<path fill="#3dbc74" d="M529.6 380.5L535.8 383.5L539.2 391.6L532.9 388.8Z"/>
<path fill="#22a785" d="M568.9 408.5L575.3 412.5L578.4 418.4L572.1 414.6Z"/>
<path fill="#5ec962" d="M502.2 360.9L508.4 363L511.9 373.2L505.7 371.2Z"/>
<path fill="#3aba76" d="M535.6 383.5L541.8 386.6L545.1 394.7L538.9 391.6Z"/>
<path fill="#81d34d" d="M474.9 342.7L481 343.7L484.6 356.5L478.5 355.4Z"/>
<path fill="#a5db36" d="M447.5 325.6L453.5 325.3L457.3 341.7L451.2 341.8Z"/>
<path fill="#cae11f" d="M420 307L426 305L430 328.7L424 330.1Z"/>
<path fill="#38b977" d="M541.6 386.7L547.9 390L551.2 398L544.9 394.7Z"/>
<path fill="#5cc863" d="M508.2 363L514.4 365.3L517.9 375.5L511.7 373.3Z"/>
<path fill="#84d44b" d="M480.8 343.7L487 345L490.5 357.8L484.4 356.5Z"/>
<path fill="#35b779" d="M547.6 390L553.9 393.6L557.2 401.4L550.9 398Z"/>
<path fill="#aadc32" d="M453.4 325.3L459.5 325.3L463.2 341.9L457.1 341.7Z"/>
<path fill="#5cc863" d="M514.2 365.4L520.4 367.9L523.8 378.1L517.7 375.6Z"/>
<path fill="#d2e21b" d="M425.9 305L431.9 303.4L435.8 327.5L429.9 328.7Z"/>
<path fill="#32b67a" d="M553.7 393.6L560 397.4L563.2 405L556.9 401.4Z"/>
<path fill="#84d44b" d="M486.8 345L493 346.5L496.5 359.4L490.4 357.8Z"/>
<path fill="#5ac864" d="M520.3 367.9L526.5 370.7L529.8 380.8L523.7 378.1Z"/>
<path fill="#2eb37c" d="M559.7 397.4L566 401.3L569.2 408.8L562.9 405Z"/>
<path fill="#b0dd2f" d="M459.3 325.3L465.4 325.6L469.1 342.3L463.1 341.9Z"/>
<path fill="#2cb17e" d="M565.7 401.3L572 405.4L575.2 412.7L568.9 408.8Z"/>
<path fill="#56c667" d="M526.3 370.8L532.5 373.8L535.9 383.8L529.7 380.9Z"/>
<path fill="#84d44b" d="M492.8 346.6L499 348.4L502.5 361.2L496.3 359.4Z"/>
<path fill="#dde318" d="M431.8 303.4L437.8 302.1L441.7 326.6L435.8 327.5Z"/>
<path fill="#54c568" d="M532.3 373.8L538.5 377.1L541.9 387L535.7 383.8Z"/>
<path fill="#b2dd2d" d="M465.3 325.6L471.4 326.2L475.1 343L469 342.3Z"/>
<path fill="#84d44b" d="M498.8 348.4L505 350.5L508.5 363.3L502.3 361.3Z"/>
<path fill="#50c46a" d="M538.3 377.1L544.6 380.6L547.9 390.4L541.7 387Z"/>
<path fill="#e5e419" d="M437.7 302.1L443.8 301.2L447.6 326L441.6 326.6Z"/>
<path fill="#84d44b" d="M504.8 350.5L511 352.9L514.5 365.7L508.3 363.4Z"/>
<path fill="#b5de2b" d="M471.3 326.2L477.4 327.1L481 344L474.9 343.1Z"/>
<path fill="#4cc26c" d="M544.4 380.6L550.6 384.4L553.9 393.9L547.7 390.4Z"/>
<path fill="#48c16e" d="M550.4 384.4L556.7 388.3L559.9 397.7L553.7 394Z"/>
<path fill="#81d34d" d="M510.9 352.9L517.1 355.6L520.5 368.3L514.3 365.7Z"/>
<path fill="#b8de29" d="M477.3 327.1L483.4 328.3L487 345.3L480.9 344.1Z"/>
<path fill="#eae51a" d="M443.7 301.2L449.7 300.6L453.6 325.7L447.6 326Z"/>
<path fill="#42be71" d="M556.5 388.3L562.8 392.4L566 401.6L559.7 397.7Z"/>
<path fill="#7fd34e" d="M516.9 355.6L523.1 358.5L526.5 371.1L520.3 368.3Z"/>
<path fill="#3fbc73" d="M562.6 392.4L568.8 396.7L572 405.7L565.8 401.6Z"/>
<path fill="#b8de29" d="M483.3 328.4L489.5 329.9L493 346.9L486.9 345.4Z"/>
<path fill="#7ad151" d="M523 358.5L529.2 361.7L532.5 374.2L526.3 371.1Z"/>
<path fill="#f1e51d" d="M449.6 300.6L455.7 300.3L459.5 325.7L453.5 325.7Z"/>
<path fill="#77d153" d="M529 361.7L535.2 365.1L538.6 377.5L532.4 374.2Z"/>
<path fill="#b8de29" d="M489.3 329.9L495.5 331.7L499 348.8L492.9 346.9Z"/>
<path fill="#73d056" d="M535.1 365.1L541.3 368.8L544.6 381L538.4 377.5Z"/>
<path fill="#f6e620" d="M455.6 300.3L461.7 300.4L465.5 326L459.4 325.7Z"/>
<path fill="#b8de29" d="M495.4 331.8L501.5 333.9L505 350.9L498.9 348.8Z"/>
<path fill="#6ece58" d="M541.1 368.8L547.4 372.7L550.7 384.7L544.4 381Z"/>
<path fill="#67cc5c" d="M547.2 372.7L553.5 376.8L556.7 388.6L550.5 384.7Z"/>
<path fill="#b8de29" d="M501.4 333.9L507.6 336.4L511.1 353.3L504.9 350.9Z"/>
<path fill="#f8e621" d="M461.6 300.4L467.7 300.8L471.5 326.6L465.4 326Z"/>
<path fill="#60ca60" d="M553.3 376.8L559.5 381.2L562.8 392.7L556.5 388.6Z"/>
<path fill="#b5de2b" d="M507.5 336.4L513.7 339.1L517.1 355.9L510.9 353.3Z"/>
<path fill="#5cc863" d="M559.4 381.2L565.6 385.7L568.8 397L562.6 392.8Z"/>
<path fill="#fbe723" d="M467.7 300.8L473.8 301.6L477.5 327.5L471.4 326.6Z"/>
<path fill="#b0dd2f" d="M513.5 339.1L519.7 342.2L523.1 358.9L517 356Z"/>
<path fill="#addc30" d="M519.6 342.2L525.8 345.5L529.2 362.1L523 358.9Z"/>
<path fill="#fde725" d="M473.7 301.6L479.8 302.7L483.5 328.7L477.4 327.5Z"/>
<path fill="#a8db34" d="M525.7 345.5L531.9 349.1L535.3 365.5L529.1 362.1Z"/>
<path fill="#fde725" d="M479.7 302.8L485.9 304.3L489.5 330.3L483.4 328.7Z"/>
<path fill="#a2da37" d="M531.8 349.1L538 353L541.3 369.2L535.1 365.5Z"/>
<path fill="#9dd93b" d="M537.9 353L544.1 357.1L547.4 373.1L541.2 369.2Z"/>
<path fill="#fde725" d="M485.8 304.3L492 306.1L495.5 332.1L489.4 330.3Z"/>
<path fill="#95d840" d="M544 357.1L550.2 361.5L553.5 377.2L547.3 373.1Z"/>
<path fill="#8ed645" d="M550.1 361.5L556.3 366.1L559.6 381.5L553.3 377.2Z"/>
<path fill="#fde725" d="M491.9 306.1L498.1 308.3L501.6 334.3L495.4 332.1Z"/>
<path fill="#86d549" d="M556.2 366.1L562.5 370.9L565.6 386L559.4 381.5Z"/>
<path fill="#fde725" d="M498 308.3L504.1 310.9L507.6 336.7L501.5 334.3Z"/>
<path fill="#fbe723" d="M504.1 310.9L510.3 313.7L513.7 339.5L507.5 336.8Z"/>
<path fill="#f6e620" d="M510.2 313.8L516.4 317L519.8 342.6L513.6 339.5Z"/>
<path fill="#f1e51d" d="M516.3 317L522.5 320.5L525.9 345.9L519.7 342.6Z"/>
<path fill="#ece51b" d="M522.4 320.5L528.6 324.4L531.9 349.5L525.8 345.9Z"/>
<path fill="#e7e419" d="M528.5 324.4L534.8 328.5L538 353.4L531.9 349.5Z"/>
<path fill="#dfe318" d="M534.7 328.5L540.9 333L544.1 357.5L537.9 353.4Z"/>
<path fill="#d8e219" d="M540.8 333L547 337.7L550.2 361.9L544 357.5Z"/>
<path fill="#d0e11c" d="M546.9 337.7L553.2 342.7L556.3 366.5L550.1 361.9Z"/>
<path fill="#c8e020" d="M553.1 342.7L559.3 347.9L562.5 371.3L556.3 366.5Z"/>
</g>
<defs><linearGradient id="vg" x1="0" y1="0" x2="0" y2="1"><stop offset="0" stop-color="#fde725"/><stop offset="0.03125" stop-color="#ece51b"/><stop offset="0.0625" stop-color="#d8e219"/><stop offset="0.09375" stop-color="#c2df23"/><stop offset="0.125" stop-color="#addc30"/><stop offset="0.1562" stop-color="#98d83e"/><stop offset="0.1875" stop-color="#84d44b"/><stop offset="0.2188" stop-color="#70cf57"/><stop offset="0.25" stop-color="#5ec962"/><stop offset="0.2812" stop-color="#4ec36b"/><stop offset="0.3125" stop-color="#3fbc73"/><stop offset="0.3438" stop-color="#32b67a"/><stop offset="0.375" stop-color="#28ae80"/><stop offset="0.4062" stop-color="#22a785"/><stop offset="0.4375" stop-color="#1fa088"/><stop offset="0.4688" stop-color="#1f988b"/><stop offset="0.5" stop-color="#21918c"/><stop offset="0.5312" stop-color="#23898e"/><stop offset="0.5625" stop-color="#26828e"/><stop offset="0.5938" stop-color="#297a8e"/><stop offset="0.625" stop-color="#2c728e"/><stop offset="0.6562" stop-color="#2f6b8e"/><stop offset="0.6875" stop-color="#33638d"/><stop offset="0.7188" stop-color="#375b8d"/><stop offset="0.75" stop-color="#3b528b"/><stop offset="0.7812" stop-color="#3e4989"/><stop offset="0.8125" stop-color="#424086"/><stop offset="0.8438" stop-color="#453781"/><stop offset="0.875" stop-color="#472d7b"/><stop offset="0.9062" stop-color="#482374"/><stop offset="0.9375" stop-color="#48186a"/><stop offset="0.9688" stop-color="#470d60"/><stop offset="1" stop-color="#440154"/></linearGradient></defs>
<rect x="876.5" y="167.0" width="33.9" height="340.3" fill="url(#vg)" fill-opacity="0.9"/>
<g stroke="#262626" stroke-width="1.1" fill="none">
<line x1="904.9" y1="468.4" x2="910.4" y2="468.4"/>
<line x1="904.9" y1="423.5" x2="910.4" y2="423.5"/>
<line x1="904.9" y1="378.7" x2="910.4" y2="378.7"/>
<line x1="904.9" y1="333.8" x2="910.4" y2="333.8"/>
<line x1="904.9" y1="288.9" x2="910.4" y2="288.9"/>
<line x1="904.9" y1="244.1" x2="910.4" y2="244.1"/>
<line x1="904.9" y1="199.2" x2="910.4" y2="199.2"/>
</g>
<rect x="876.5" y="167.0" width="33.9" height="340.3" fill="none" stroke="#262626" stroke-width="1.4"/>
<g opacity="0.999">
<text transform="translate(254.78 525.45) scale(1.0250 1)" font-size="19.4" text-anchor="middle" fill="#262626">0.2</text>
<text transform="translate(288.27 536.57) scale(1.0250 1)" font-size="19.4" text-anchor="middle" fill="#262626">0.3</text>
<text transform="translate(322.14 547.81) scale(1.0250 1)" font-size="19.4" text-anchor="middle" fill="#262626">0.4</text>
<text transform="translate(356.40 559.19) scale(1.0250 1)" font-size="19.4" text-anchor="middle" fill="#262626">0.5</text>
<text transform="translate(391.06 570.69) scale(1.0250 1)" font-size="19.4" text-anchor="middle" fill="#262626">0.6</text>
<text transform="translate(426.11 582.33) scale(1.0250 1)" font-size="19.4" text-anchor="middle" fill="#262626">0.7</text>
<text transform="translate(461.58 594.10) scale(1.0250 1)" font-size="19.4" text-anchor="middle" fill="#262626">0.8</text>
<text transform="translate(497.46 606.01) scale(1.0250 1)" font-size="19.4" text-anchor="middle" fill="#262626">0.9</text>
<text transform="translate(533.77 618.06) scale(1.0250 1)" font-size="19.4" text-anchor="middle" fill="#262626">1.0</text>
<text transform="translate(614.26 590.40) scale(1.0250 1)" font-size="19.4" text-anchor="middle" fill="#262626">0.2</text>
<text transform="translate(648.20 554.76) scale(1.0250 1)" font-size="19.4" text-anchor="middle" fill="#262626">0.4</text>
<text transform="translate(680.98 520.34) scale(1.0250 1)" font-size="19.4" text-anchor="middle" fill="#262626">0.6</text>
<text transform="translate(712.64 487.10) scale(1.0250 1)" font-size="19.4" text-anchor="middle" fill="#262626">0.8</text>
<text transform="translate(743.24 454.97) scale(1.0250 1)" font-size="19.4" text-anchor="middle" fill="#262626">1.0</text>
<text transform="translate(764.25 393.22) scale(1.0250 1)" font-size="19.4" text-anchor="middle" fill="#262626">0.5</text>
<text transform="translate(765.64 366.34) scale(1.0250 1)" font-size="19.4" text-anchor="middle" fill="#262626">1.0</text>
<text transform="translate(767.05 339.18) scale(1.0250 1)" font-size="19.4" text-anchor="middle" fill="#262626">1.5</text>
<text transform="translate(768.47 311.75) scale(1.0250 1)" font-size="19.4" text-anchor="middle" fill="#262626">2.0</text>
<text transform="translate(769.90 284.03) scale(1.0250 1)" font-size="19.4" text-anchor="middle" fill="#262626">2.5</text>
<text transform="translate(771.35 256.02) scale(1.0250 1)" font-size="19.4" text-anchor="middle" fill="#262626">3.0</text>
<text transform="translate(772.82 227.72) scale(1.0250 1)" font-size="19.4" text-anchor="middle" fill="#262626">3.5</text>
<text transform="translate(774.30 199.13) scale(1.0250 1)" font-size="19.4" text-anchor="middle" fill="#262626">4.0</text>
<text transform="translate(929.80 476.05) scale(1.0250 1)" font-size="19.4" text-anchor="middle" fill="#262626">0.5</text>
<text transform="translate(929.80 431.19) scale(1.0250 1)" font-size="19.4" text-anchor="middle" fill="#262626">1.0</text>
<text transform="translate(929.80 386.32) scale(1.0250 1)" font-size="19.4" text-anchor="middle" fill="#262626">1.5</text>
<text transform="translate(929.80 341.45) scale(1.0250 1)" font-size="19.4" text-anchor="middle" fill="#262626">2.0</text>
<text transform="translate(929.80 296.59) scale(1.0250 1)" font-size="19.4" text-anchor="middle" fill="#262626">2.5</text>
<text transform="translate(929.80 251.72) scale(1.0250 1)" font-size="19.4" text-anchor="middle" fill="#262626">3.0</text>
<text transform="translate(929.80 206.86) scale(1.0250 1)" font-size="19.4" text-anchor="middle" fill="#262626">3.5</text>
<text transform="translate(373.60 597.70) rotate(18.04) scale(1.1230 1)" font-size="17.0" text-anchor="middle" fill="#262626">Liquidity Availability (L)</text>
<text transform="translate(703.70 545.40) rotate(-45.74) scale(1.0760 1)" font-size="17.0" text-anchor="middle" fill="#262626">Market Elasticity (E)</text>
<text transform="translate(818.60 288.40) rotate(-88.00) scale(1.0720 1)" font-size="17.0" text-anchor="middle" fill="#262626">Force Amplitude (F)</text>
<text transform="translate(963.60 338.30) rotate(-90.00) scale(1.0750 1)" font-size="18.6" text-anchor="middle" fill="#262626">Force Intensity</text>
<text transform="translate(488.65 27.00) scale(1.1030 1)" font-size="22.5" text-anchor="middle" fill="#333333" font-weight="bold" stroke="#333333" stroke-width="0.5">Figure 2. Liquidity Elasticity Surface</text>
<text transform="translate(512.10 675.30) scale(1.0700 1)" font-size="15" text-anchor="middle" fill="#444444">Empirical mapping of elasticity (E) versus liquidity availability (L) across major asset classes (Q1–Q3 2024).</text>
<text transform="translate(511.85 691.30) scale(1.0780 1)" font-size="15" text-anchor="middle" fill="#444444">Regions of low E and declining L produce non-linear F-amplification zones, illustrating how positional inertia magnifies minor liquidity shocks.</text>
</g>
</svg>
</body></html>
